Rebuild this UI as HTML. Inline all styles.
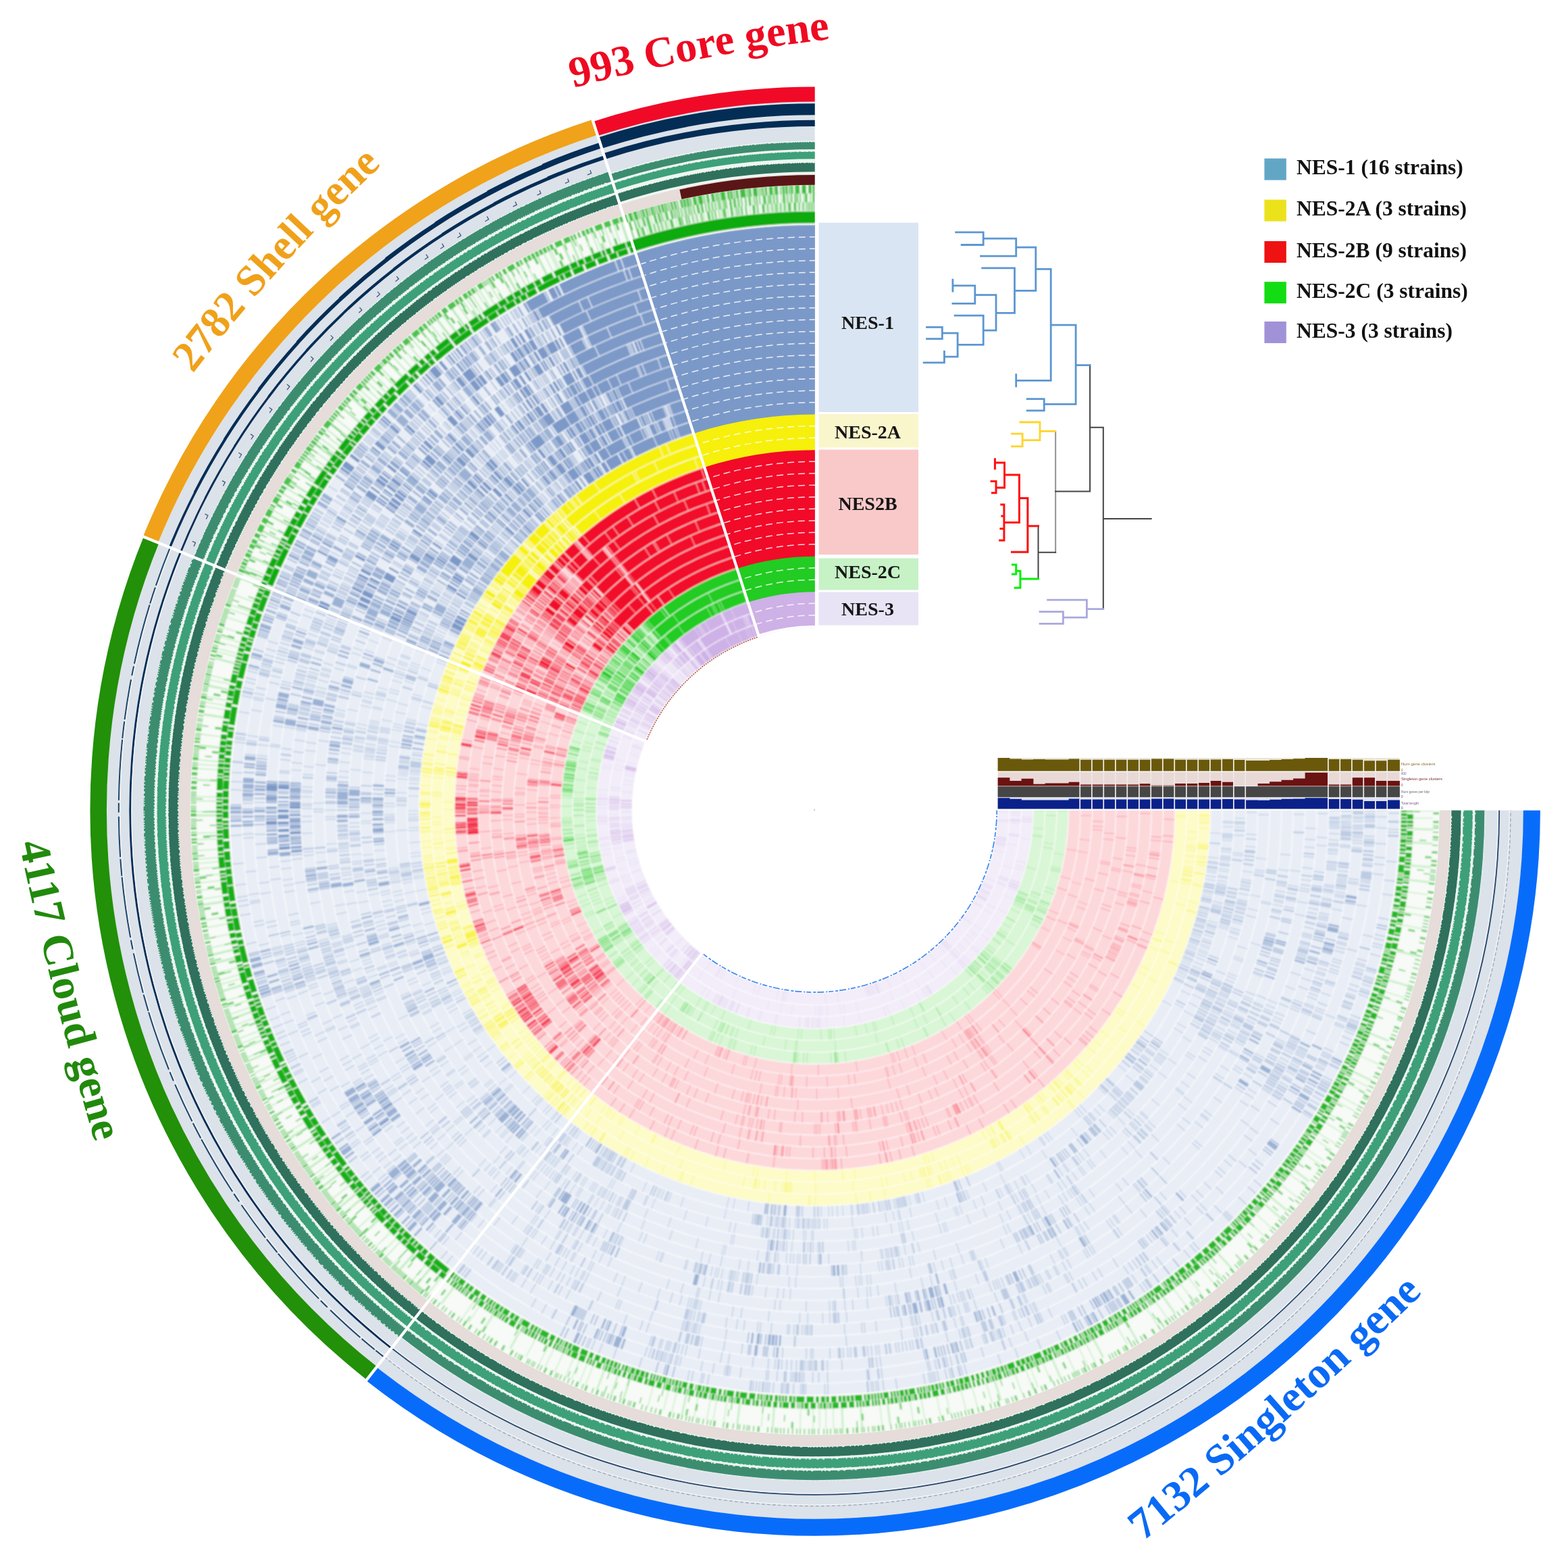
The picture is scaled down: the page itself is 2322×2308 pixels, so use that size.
<!DOCTYPE html>
<html><head><meta charset="utf-8"><title>Pangenome</title>
<style>
html,body{margin:0;padding:0;background:#fff;}
svg{display:block;}
text{font-family:"Liberation Serif",serif;font-weight:bold;}
</style></head><body>
<svg width="2322" height="2308" viewBox="0 0 2322 2308">
<defs><clipPath id="cq"><path d="M0 0H1206.7V1199.8H2322V2308H0Z"/></clipPath>
<filter id="bl" x="0" y="0" width="2322" height="2308" filterUnits="userSpaceOnUse"><feGaussianBlur stdDeviation="0.8"/></filter>
<filter id="bl2" x="0" y="0" width="2322" height="2308" filterUnits="userSpaceOnUse"><feGaussianBlur stdDeviation="1"/></filter></defs>
<g clip-path="url(#cq)">
<g id="rings" fill="none" filter="url(#bl)">
<path d="M1115.5 916.4A297.2 297.2 0 1 0 1503.8 1198.5" stroke="#f2edf9" stroke-width="52.5"/>
<path d="M1207.4 902.1A297.2 297.2 0 0 0 1115.2 916.4" stroke="#ceb1e6" stroke-width="52.5"/>
<g stroke="#ceb1e6" stroke-width="17.5">
<path d="M1120.8 933A279.8 279.8 0 1 0 1486.3 1198.6" pathLength="2523" stroke-dasharray="0 208 1 1 3 2 1 54 1 4 1 1 1 4 1 1 1 5 1 83 2 88 1 10 2 1 2 9 1 31 2 4 3 10 1 9 1 5 1 20 1 31 1 6 1 15 1 11 1 19 1 3 1 57 2 13 1 1 1 1 1 1 1 3 1 6 1 3 1 1 1 2 1 1 1 2 2 3 1 2 1 64 1 1 1 4 1 20 1 9 1 6 1 54 1 1 2 2 2 3 8 1 2 4 5 3 2 1 1 4 1 4 1 9 1 5 2 7 1 21 1 9 4 30 1 76 1 3 1 20 1 1 1 89 1 34 1 1 2 8 1 6 1 44 1 58 1 12 1 58 1 16 2 4 1 3 1 119 1 36 1 86 1 4 1 2 1 2 1 1 1 5 2 3 1 3 1 5 1 1 3 5 1 29 1 45 1 72 1 36 1 36 1 11 1 1 1 2 1 2 1 2 1 3 1 88 1 1 1 56 1 1 1 17 1 2 4 3 1 5 1 4 1 2 2 1 1 1 1 9 1 3 2 3 1 16 1 89 1 15 1 3 1 2 3 5 2 3 1 1 1 1 1 1 2 47 1 2 2 26 1 100004" opacity=".4"/>
<path d="M1120.8 933A279.8 279.8 0 1 0 1486.3 1198.6" pathLength="2523" stroke-dasharray="0 227 1 3 1 2 1 1 1 2 1 4 2 3 2 2 1 2 3 9 1 24 8 1 1 3 3 1 1 1 1 1 1 1 4 1 5 1 1 2 2 4 2 1 3 1 2 3 2 1 1 2 3 1 2 5 1 5 1 4 1 1 1 6 1 2 2 2 3 1 7 1 6 9 2 1 3 1 1 1 1 1 2 2 1 1 3 3 1 3 1 3 1 1 2 1 1 1 1 3 1 35 2 89 1 1 10 2 1 88 3 1 1 4 1 1 2 2 1 2 1 2 2 2 1 65 1 1 3 3 2 2 1 2 3 1 3 2 1 1 1 2 3 1 1 94 1 110 6 59 2 1 1 1 1 1 1 1 1 3 2 1 1 1 4 7 2 1 1 2 3 73 3 5 1 1 1 2 3 3 1 1 1 2 3 1 1 1 1 1 1 1 1 3 2 1 1 101283" opacity=".7"/>
<path d="M1120.8 933A279.8 279.8 0 1 0 1486.3 1198.6" pathLength="2523" stroke-dasharray="10 1 11 1 7 1 24 1 38 1 65 1 1 1 3 2 15 1 1 1 2 1 12 1 2 1 1 10 3 1 2 1 1 79 1 1 1 66 1 102149"/>
<path d="M1115.5 916.4A297.2 297.2 0 1 0 1503.8 1198.5" pathLength="2523" stroke-dasharray="0 207 3 3 1 1 1 55 1 1 1 4 1 2 1 151 1 5 2 1 1 1 1 2 1 3 2 11 1 3 1 1 2 1 1 3 2 7 1 2 1 2 1 14 1 3 1 65 1 16 1 10 1 51 2 6 1 22 1 43 1 8 2 1 2 2 2 1 1 6 2 1 2 2 4 1 1 5 3 1 2 36 1 11 1 28 1 8 1 22 1 19 1 3 1 7 1 6 1 16 2 1 2 2 3 1 1 1 2 1 3 1 1 4 1 2 1 1 3 1 2 1 1 8 3 8 2 17 1 36 2 1 2 1 2 1 1 1 1 1 1 10 3 4 1 1 2 1 1 1 2 3 1 11 1 12 1 2 1 1 1 18 1 4 4 9 1 1 1 11 1 26 1 5 1 56 1 109 1 102 1 36 1 30 1 67 1 9 1 2 1 5 1 14 1 36 1 11 1 35 1 103 1 46 1 33 1 46 1 46 1 33 1 4 2 1 1 4 1 4 1 12 1 6 1 19 1 14 1 10 1 6 1 18 1 51 1 17 1 66 1 3 2 8 1 3 2 2 1 2 1 29 1 64 1 24 2 1 1 1 1 30 1 4 1 1 1 1 3 11 1 5 1 2 1 100006" opacity=".4"/>
<path d="M1115.5 916.4A297.2 297.2 0 1 0 1503.8 1198.5" pathLength="2523" stroke-dasharray="0 73 1 4 1 150 3 9 2 2 3 12 2 3 1 27 2 4 1 1 1 21 1 1 1 1 4 1 1 1 4 4 1 2 2 1 4 4 4 1 13 5 1 2 1 1 2 1 3 4 3 5 1 1 1 1 1 1 2 3 3 1 1 1 1 2 4 2 1 2 2 22 1 1 2 1 1 1 1 32 3 185 1 1 1 4 4 2 2 2 3 3 1 2 1 2 1 1 1 2 1 1 1 62 1 1 1 1 2 1 1 1 1 2 1 2 3 3 1 1 2 1 1 4 1 1 1 216 2 3 1 8 1 2 1 1 1 4 1 119 2 44 4 1 1 1 1 2 4 1 1 101284" opacity=".7"/>
<path d="M1115.5 916.4A297.2 297.2 0 1 0 1503.8 1198.5" pathLength="2523" stroke-dasharray="14 2 3 1 2 1 3 1 30 1 15 6 81 1 1 2 1 2 1 1 1 1 8 1 5 1 5 1 5 1 1 1 4 1 1 10 1 1 5 1 3 5 3 1 3 10 3 3 1 2 1 44 1 1 1 1 1 1 1 1 2 2 1 2 1 1 1 18 2 102181"/>
<path d="M1110.1 899.7A314.8 314.8 0 1 0 1521.3 1198.5" pathLength="2523" stroke-dasharray="0 277 1 2 1 1 1 3 1 5 1 3 2 102 1 92 5 2 1 2 1 17 1 1 1 8 3 5 1 57 1 5 1 3 1 58 1 12 1 13 1 4 1 5 1 1 1 8 1 20 1 3 1 1 1 4 1 1 1 2 1 4 1 36 1 1 1 2 1 11 1 4 1 9 1 13 1 35 1 33 1 2 1 2 1 1 1 44 1 5 1 2 1 55 1 1 1 2 1 2 4 1 2 1 1 2 2 2 1 1 2 2 1 1 1 1 2 1 2 2 1 1 2 7 1 2 3 1 3 2 1 3 1 2 2 27 1 10 1 6 1 159 1 13 1 19 1 2 1 3 1 2 1 3 1 1 3 1 2 2 1 3 1 1 1 4 2 9 1 2 2 1 1 1 1 3 1 8 3 28 1 1 1 29 1 3 1 40 1 2 1 60 1 1 1 14 1 3 1 1 1 2 1 7 1 2 1 5 1 4 1 2 1 2 1 1 1 17 1 46 1 42 1 69 1 9 1 41 1 44 1 19 1 5 1 4 1 3 2 1 1 81 1 24 1 3 1 2 1 2 1 5 1 5 1 31 1 5 1 38 1 16 1 66 1 40 1 22 1 4 2 1 2 3 4 4 1 1 2 33 1 7 1 11 1 62 1 45 2 4 1 1 1 4 1 100019" opacity=".4"/>
<path d="M1110.1 899.7A314.8 314.8 0 1 0 1521.3 1198.5" pathLength="2523" stroke-dasharray="0 74 2 2 1 128 2 1 1 1 1 15 4 1 3 7 1 2 1 1 1 2 1 1 3 1 5 1 3 1 1 1 2 1 1 1 1 1 1 23 2 3 2 2 2 1 5 1 4 15 3 1 1 2 1 1 1 2 1 10 1 1 4 1 9 4 2 1 3 1 3 1 1 1 1 1 1 5 1 1 3 3 2 1 7 1 3 1 4 2 1 1 2 7 1 2 2 2 1 1 1 7 2 1 1 9 3 2 8 2 1 2 3 56 1 1 2 2 1 4 5 1 3 3 7 1 4 106 2 188 2 1 1 2 1 95 3 1 1 1 3 1 3 1 2 1 5 1 2 2 2 2 1 166 1 2 1 5 1 2 2 5 1 2 4 3 1 2 2 4 1 1 2 1 2 1 1 1 2 2 1 2 1 1 3 101283" opacity=".7"/>
<path d="M1110.1 899.7A314.8 314.8 0 1 0 1521.3 1198.5" pathLength="2523" stroke-dasharray="47 1 25 6 45 1 14 1 2 1 4 1 8 1 45 1 3 12 1 1 7 95 5 2 4 1 1 1 1 39 3 102143"/>
</g>
<path d="M1099.4 866.4A349.8 349.8 0 1 0 1556.3 1198.4" stroke="#d9f6d6" stroke-width="52.5"/>
<path d="M1207.5 849.6A349.8 349.8 0 0 0 1099.1 866.5" stroke="#22cc22" stroke-width="52.5"/>
<g stroke="#22cc22" stroke-width="17.5">
<path d="M1104.8 883A332.2 332.2 0 1 0 1538.8 1198.4" pathLength="2523" stroke-dasharray="0 300 2 143 2 2 2 1 3 4 1 2 1 6 1 2 2 1 1 4 1 2 1 3 2 6 2 1 1 1 1 2 1 2 1 1 1 2 1 1 1 33 1 1 1 13 1 27 1 3 1 19 1 10 2 8 1 4 1 23 1 25 2 1 2 8 1 1 1 7 2 6 1 1 1 1 1 11 1 9 1 23 1 11 1 2 2 11 1 1 1 1 2 6 1 91 1 11 1 37 1 9 1 37 1 25 1 35 1 17 1 3 2 2 2 4 1 1 3 4 1 3 1 33 1 9 1 29 1 2 1 22 1 25 1 11 1 9 1 51 1 18 1 4 1 18 1 27 1 71 1 57 1 7 1 60 1 7 1 49 1 18 1 4 2 7 1 56 1 26 1 18 1 5 1 44 1 53 1 26 1 1 1 146 1 1 1 7 4 3 1 1 2 4 2 4 1 1 2 11 5 6 3 1 1 2 1 3 2 7 1 3 1 6 1 19 1 2 1 14 2 2 1 2 1 6 1 16 1 16 1 1 1 23 1 14 1 4 1 4 3 3 2 1 1 1 2 3 1 5 2 2 1 65 1 81 1 2 1 17 1 46 1 100000" opacity=".4"/>
<path d="M1104.8 883A332.2 332.2 0 1 0 1538.8 1198.4" pathLength="2523" stroke-dasharray="0 264 1 1 1 1 4 1 2 17 1 2 2 9 1 12 1 1 2 1 2 1 1 2 1 20 3 20 5 1 4 1 4 1 6 1 1 1 1 1 3 9 12 1 5 1 3 3 4 23 1 54 1 1 2 2 1 1 1 301 1 2 1 4 3 4 1 3 1 3 2 12 1 1 1 1 2 2 1 1 1 2 4 3 1 3 1 5 1 3 1 72 1 1 1 55 2 2 1 3 1 3 1 1 1 1 2 1 1 2 2 2 1 101463" opacity=".7"/>
<path d="M1104.8 883A332.2 332.2 0 1 0 1538.8 1198.4" pathLength="2523" stroke-dasharray="3 1 61 1 6 1 11 1 4 1 12 1 84 1 41 1 3 1 19 1 10 11 1 1 1 1 4 1 8 15 3 3 2 16 1 1 7 1 1 1 2 4 1 4 2 1 1 2 4 5 2 2 1 31 3 102114"/>
<path d="M1099.4 866.4A349.8 349.8 0 1 0 1556.3 1198.4" pathLength="2523" stroke-dasharray="0 300 1 1 2 150 1 7 1 2 2 24 1 3 1 6 1 32 1 20 1 10 1 7 1 27 1 16 1 27 1 29 1 14 1 5 1 5 2 3 2 7 2 1 1 10 1 1 1 21 1 2 1 20 1 6 1 2 1 5 1 2 1 5 1 5 1 5 1 3 2 93 2 9 1 7 1 7 1 8 1 55 1 1 2 4 1 1 1 2 1 63 1 1 1 6 1 2 1 5 1 5 1 10 1 3 1 10 1 5 1 12 1 2 1 8 1 27 1 59 1 25 2 1 1 2 4 4 1 2 1 1 1 3 1 4 1 20 2 41 1 10 1 1 1 3 2 1 1 8 1 1 1 9 1 3 1 9 1 68 1 52 1 23 1 3 1 92 1 101 1 101 1 24 1 35 2 48 1 33 1 17 1 26 1 1 2 1 2 8 1 12 1 2 1 1 1 2 1 3 3 2 1 4 1 2 1 1 1 2 2 4 1 50 1 88 1 2 1 1 1 1 1 2 2 1 1 8 1 1 1 2 1 9 1 6 1 2 1 112 1 10 1 67 1 100013" opacity=".4"/>
<path d="M1099.4 866.4A349.8 349.8 0 1 0 1556.3 1198.4" pathLength="2523" stroke-dasharray="0 253 1 3 1 1 1 33 1 1 1 40 2 1 3 1 4 1 3 2 2 1 1 1 2 2 3 13 6 1 2 1 3 1 1 2 4 1 1 3 4 1 4 1 2 5 1 3 2 4 2 7 4 24 1 1 2 1 1 3 2 2 2 2 1 1 2 335 2 1 1 1 1 3 1 2 3 6 2 3 1 3 2 6 1 3 4 2 2 1 1 1 2 1 1 1 3 1 2 1 2 2 1 1 1 2 3 1 1 69 1 1 2 57 3 2 3 5 2 1 1 1 1 4 1 4 1 108 1 3 1 4 1 1 1 1 2 101337" opacity=".7"/>
<path d="M1099.4 866.4A349.8 349.8 0 1 0 1556.3 1198.4" pathLength="2523" stroke-dasharray="83 1 97 1 56 1 1 1 5 1 1 12 1 1 1 2 1 5 1 1 3 1 1 1 5 2 2 1 1 1 1 13 1 5 7 1 3 1 1 2 4 2 1 35 3 1 3 70 2 2 3 102070"/>
<path d="M1094 849.7A367.2 367.2 0 1 0 1573.8 1198.3" pathLength="2523" stroke-dasharray="0 456 1 4 1 1 1 3 1 34 1 13 1 19 1 1 1 23 1 30 1 5 1 6 1 71 4 4 2 4 1 19 1 26 1 3 1 3 1 1 1 2 1 4 1 7 2 2 1 4 2 1 1 20 1 2 1 8 1 93 1 18 1 12 1 9 1 18 1 5 1 41 1 16 1 44 1 2 1 12 1 1 1 2 1 1 2 1 2 1 2 1 1 31 1 19 1 18 1 4 1 1 1 11 2 3 2 28 1 1 1 2 1 3 1 14 1 116 1 3 1 2 1 8 1 9 1 20 1 3 1 5 1 3 1 38 1 7 1 90 1 1 3 1 1 3 1 12 1 7 1 54 1 8 4 1 1 1 1 17 1 98 2 24 1 10 1 56 1 2 1 45 1 22 1 43 1 53 1 5 1 4 1 3 1 1 2 5 1 5 3 2 2 5 1 3 1 1 2 2 2 7 1 3 2 1 3 4 2 1 1 110 1 8 1 2 1 1 1 4 3 12 1 2 1 1 1 3 1 2 1 5 1 4 2 1 1 22 1 8 1 42 1 3 1 3 1 31 1 99 1 100002" opacity=".4"/>
<path d="M1094 849.7A367.2 367.2 0 1 0 1573.8 1198.3" pathLength="2523" stroke-dasharray="0 249 1 1 2 4 1 29 2 2 1 14 1 1 1 20 1 6 1 2 1 4 4 3 5 1 3 2 1 2 1 10 1 27 2 1 3 2 1 6 1 2 2 8 1 1 2 2 2 1 2 1 3 5 1 21 2 2 2 1 4 2 2 86 3 1 1 1 1 2 1 5 2 17 1 1 1 1 1 1 1 1 4 3 4 2 1 1 1 4 3 1 1 2 2 1 2 1 1 2 1 1 1 5 2 1 2 3 2 2 4 106 1 1 1 1 1 1 5 44 1 3 1 1 1 3 2 2 2 1 1 14 1 2 1 6 3 1 1 3 1 3 1 1 1 1 2 2 1 131 1 1 1 2 3 2 2 1 1 2 1 1 1 3 1 1 1 1 1 1 2 101460" opacity=".7"/>
<path d="M1094 849.7A367.2 367.2 0 1 0 1573.8 1198.3" pathLength="2523" stroke-dasharray="189 2 6 1 38 1 5 1 3 1 1 13 2 1 2 1 2 1 3 1 2 1 1 1 3 1 4 8 2 1 2 1 2 10 5 1 5 1 2 1 1 3 1 1 1 29 1 4 1 2 2 3 1 1 4 1 1 2 8 1 1 1 2 1 1 67 2 1 1 102049"/>
</g>
<path d="M1067.2 766.4A454.8 454.8 0 1 0 1661.3 1198.1" stroke="#fdd8db" stroke-width="157.5"/>
<path d="M1207.8 744.6A454.8 454.8 0 0 0 1066.8 766.6" stroke="#f20a29" stroke-width="157.5"/>
<g stroke="#f20a29" stroke-width="17.5">
<path d="M1088.7 833.1A384.8 384.8 0 1 0 1591.3 1198.3" pathLength="2523" stroke-dasharray="0 418 1 4 2 1 3 75 1 27 1 5 1 6 2 10 1 26 1 29 1 4 3 2 1 33 1 30 1 4 1 15 1 4 1 22 1 11 1 3 1 2 1 23 1 17 1 3 1 28 1 2 1 2 1 1 1 31 1 7 1 11 1 33 1 8 1 46 1 17 1 10 1 4 1 45 1 1 1 3 1 11 1 3 1 2 1 49 1 58 1 24 1 24 1 5 1 2 1 1 1 1 1 4 1 2 1 1 1 1 1 1 2 5 1 2 1 3 1 2 1 2 2 6 1 5 2 2 1 8 2 77 1 2 1 3 1 1 1 1 1 8 1 4 1 1 1 36 1 4 1 20 1 80 1 58 1 84 1 79 1 4 1 9 1 17 1 17 1 74 1 39 1 22 1 6 1 74 1 6 1 131 1 3 2 38 1 26 1 14 1 53 1 25 1 62 1 100088" opacity=".4"/>
<path d="M1088.7 833.1A384.8 384.8 0 1 0 1591.3 1198.3" pathLength="2523" stroke-dasharray="0 348 1 1 2 3 1 4 1 2 2 3 3 5 3 2 1 1 1 46 1 2 1 1 1 1 4 2 8 1 1 1 1 3 1 1 1 1 4 1 2 1 3 1 4 2 2 2 4 2 1 1 2 3 1 16 2 2 1 2 1 2 1 61 2 4 1 3 1 2 2 61 1 1 4 117 1 21 3 1 1 2 1 3 1 2 3 120 1 1 1 2 2 2 4 81 1 2 1 1 3 55 1 3 1 98 1 101317" opacity=".7"/>
<path d="M1088.7 833.1A384.8 384.8 0 1 0 1591.3 1198.3" pathLength="2523" stroke-dasharray="156 1 27 2 19 1 9 2 57 3 2 2 8 4 1 2 2 4 4 3 2 5 2 1 2 1 2 1 1 3 5 2 6 1 2 40 3 1 1 3 1 3 1 2 1 1 4 1 1 1 1 2 2 102108"/>
<path d="M1083.3 816.4A402.2 402.2 0 1 0 1608.8 1198.2" pathLength="2523" stroke-dasharray="0 330 1 3 2 1 1 84 1 2 1 1 2 55 1 42 1 13 1 1 1 16 1 52 1 5 2 1 1 2 1 2 1 5 1 5 1 1 1 53 1 6 3 9 1 3 1 6 1 2 1 5 1 1 1 4 1 5 1 55 1 2 2 1 1 2 2 4 1 1 1 2 1 14 2 1 1 4 1 9 1 8 1 9 1 81 1 5 1 30 1 6 1 118 1 4 1 15 1 8 1 7 1 7 1 8 1 8 1 45 1 20 1 10 1 8 1 11 1 5 1 2 1 67 1 25 1 58 1 40 1 8 1 7 1 40 1 4 1 18 1 1 1 1 1 1 1 28 1 42 1 45 1 12 1 67 1 2 1 12 1 14 1 34 1 19 1 69 1 17 1 12 2 2 2 1 1 2 2 3 1 4 3 8 1 76 1 208 1 58 1 27 1 66 1 25 1 50 1 100012" opacity=".4"/>
<path d="M1083.3 816.4A402.2 402.2 0 1 0 1608.8 1198.2" pathLength="2523" stroke-dasharray="0 356 2 1 1 3 1 4 1 1 1 2 1 3 5 10 2 1 3 3 1 1 1 1 1 4 3 1 1 14 2 3 1 1 5 1 1 1 1 2 1 1 1 5 1 5 2 6 2 1 5 1 3 8 2 2 2 1 2 16 5 1 3 1 2 60 1 3 1 5 1 1 3 58 1 1 1 1 1 1 1 2 1 103 1 2 2 2 1 2 2 1 1 1 1 1 2 4 1 96 1 1 3 2 1 1 1 3 1 1 2 1 1 1 2 1 1 7 2 81 1 15 1 1 2 6 1 1 1 1 2 1 1 1 1 1 1 3 1 1 1 3 2 1 1 2 1 2 3 8 1 1 5 1 2 1 1 1 6 1 8 1 1 1 1 1 2 5 1 1 3 2 1 83 1 1 1 101315" opacity=".7"/>
<path d="M1083.3 816.4A402.2 402.2 0 1 0 1608.8 1198.2" pathLength="2523" stroke-dasharray="202 1 1 4 10 1 25 1 45 1 1 1 4 1 3 1 5 1 7 1 8 2 4 8 2 1 3 2 1 1 8 29 1 1 3 8 2 64 2 102056"/>
<path d="M1077.9 799.8A419.8 419.8 0 1 0 1626.3 1198.2" pathLength="2523" stroke-dasharray="0 331 1 4 1 8 1 5 3 3 1 1 1 1 1 8 4 20 1 1 1 3 2 81 1 3 1 16 2 1 2 1 2 1 2 1 1 11 1 12 1 21 1 10 2 1 1 3 1 9 1 2 1 25 1 7 1 51 1 26 1 7 1 1 1 7 1 13 1 9 1 47 1 3 1 36 1 3 1 3 1 9 2 1 1 19 2 56 1 1 1 15 1 4 1 39 1 8 1 113 1 20 1 29 1 6 1 3 1 14 1 24 1 15 1 27 1 4 1 3 1 12 1 1 1 4 2 53 1 41 1 115 1 30 1 3 1 12 1 14 1 1 1 6 1 41 1 42 1 104 1 74 1 55 1 15 1 30 1 9 2 2 1 3 1 1 2 6 1 2 1 34 2 15 1 32 1 28 1 21 1 8 1 47 1 44 1 29 1 21 1 6 2 2 1 35 1 10 1 48 1 101 1 6 1 9 1 100023" opacity=".4"/>
<path d="M1077.9 799.8A419.8 419.8 0 1 0 1626.3 1198.2" pathLength="2523" stroke-dasharray="0 406 1 20 1 3 2 1 1 2 1 1 1 2 1 1 1 3 1 1 2 3 1 2 1 2 1 1 1 6 3 2 2 1 4 7 3 1 2 2 2 160 1 2 2 1 2 2 1 1 1 98 1 1 3 4 1 2 1 1 1 1 2 1 1 2 1 2 1 12 1 3 1 1 4 1 1 2 1 1 2 66 1 1 2 1 1 4 1 1 2 4 1 4 1 6 1 106 3 3 6 1 1 1 1 6 2 1 1 4 1 2 1 4 1 1 1 2 1 1 1 4 3 1 3 1 3 2 3 4 2 2 1 2 2 1 1 2 1 2 1 3 1 13 1 1 1 101386" opacity=".7"/>
<path d="M1077.9 799.8A419.8 419.8 0 1 0 1626.3 1198.2" pathLength="2523" stroke-dasharray="202 4 7 1 3 1 46 1 5 1 1 1 4 1 3 1 2 3 2 1 1 1 1 3 6 1 3 1 3 3 5 2 4 1 2 2 1 8 3 1 1 31 1 1 2 1 1 1 1 1 2 3 2 2 2 20 5 2 1 1 1 40 1 1 2 102054"/>
<path d="M1072.6 783.1A437.2 437.2 0 1 0 1643.8 1198.2" pathLength="2523" stroke-dasharray="0 346 2 1 2 2 3 1 1 1 1 1 1 1 3 4 1 2 1 21 1 1 1 2 2 2 1 4 1 1 3 10 1 61 2 25 1 7 1 1 1 4 1 1 1 12 1 1 3 4 1 25 1 41 1 30 1 27 1 7 1 3 1 19 1 17 1 4 1 8 2 58 1 5 1 12 1 51 2 1 1 3 1 5 1 17 1 11 1 4 1 3 1 20 1 21 1 8 1 27 1 114 1 11 1 2 1 1 1 8 1 2 1 2 1 6 1 7 1 19 1 11 1 9 2 25 1 1 2 9 1 5 1 36 1 2 1 7 1 19 1 16 1 21 1 62 1 34 1 17 1 7 1 2 1 3 1 7 1 6 2 6 1 9 2 59 1 104 1 91 1 20 1 55 1 21 1 43 1 32 1 2 1 5 3 1 1 2 1 4 1 30 1 43 1 166 1 30 1 1 1 2 1 103 1 31 1 19 1 3 1 43 1 11 1 100045" opacity=".4"/>
<path d="M1072.6 783.1A437.2 437.2 0 1 0 1643.8 1198.2" pathLength="2523" stroke-dasharray="0 203 5 1 1 131 1 2 2 74 2 1 1 3 2 1 1 1 2 1 7 2 2 1 2 1 1 2 3 3 3 1 4 3 4 2 1 1 1 1 2 7 1 1 3 2 3 32 1 5 3 19 2 2 1 5 1 2 1 2 1 1 1 2 1 1 1 1 2 5 1 8 4 4 1 2 1 1 1 156 1 3 1 1 2 1 2 3 1 1 1 2 3 1 1 1 1 143 1 82 1 2 1 1 1 2 1 2 1 1 1 1 2 1 7 1 1 1 5 2 2 1 2 4 2 2 3 2 8 2 3 7 2 1 3 3 2 2 4 2 1 1 1 1 3 101401" opacity=".7"/>
<path d="M1072.6 783.1A437.2 437.2 0 1 0 1643.8 1198.2" pathLength="2523" stroke-dasharray="65 1 137 10 54 1 3 1 3 1 7 1 11 1 2 1 9 1 3 4 5 7 3 2 1 40 3 2 8 1 1 1 4 21 1 1 1 102104"/>
<path d="M1067.2 766.4A454.8 454.8 0 1 0 1661.3 1198.1" pathLength="2523" stroke-dasharray="0 388 1 6 1 89 2 26 1 3 1 3 1 7 1 12 2 1 3 2 3 4 1 65 1 5 2 69 1 30 1 7 1 25 1 6 1 1 2 25 1 3 1 2 1 2 1 15 1 30 1 27 1 5 2 9 1 14 1 8 1 19 1 41 1 5 1 7 1 5 1 8 1 107 1 4 2 1 2 33 1 13 2 11 1 10 1 4 1 3 1 27 1 19 2 42 1 19 1 14 1 1 1 2 1 5 1 23 1 14 1 22 1 72 1 7 1 1 1 10 1 2 2 20 1 10 1 37 1 13 1 34 1 1 1 9 1 17 1 2 1 1 1 5 2 1 1 18 2 2 2 5 1 13 1 2 1 2 1 5 2 13 1 9 1 8 1 8 1 8 1 36 1 19 1 12 1 37 1 12 2 5 1 40 1 6 1 12 1 3 1 37 1 38 4 2 1 29 2 19 1 23 1 39 1 10 1 9 1 40 1 4 1 9 1 2 1 35 1 39 1 7 1 31 1 34 1 3 1 18 1 38 1 39 1 100012" opacity=".4"/>
<path d="M1067.2 766.4A454.8 454.8 0 1 0 1661.3 1198.1" pathLength="2523" stroke-dasharray="0 203 1 1 1 3 2 1 1 133 3 1 1 4 1 1 2 1 3 1 3 1 1 1 5 2 3 1 1 1 2 1 1 18 1 1 2 2 3 1 1 1 1 1 1 1 1 17 6 7 1 2 2 4 1 1 1 8 4 1 1 10 1 3 7 32 1 7 1 24 1 3 1 1 1 4 2 3 2 1 3 2 1 1 1 2 1 5 1 5 1 1 2 1 1 5 1 86 1 1 1 3 2 5 3 1 1 79 1 137 1 83 3 3 2 4 1 2 1 1 2 3 1 3 1 2 4 4 3 1 3 1 3 1 1 1 1 6 1 1 1 8 1 2 1 1 2 1 3 1 2 1 2 4 3 1 1 3 1 101401" opacity=".7"/>
<path d="M1067.2 766.4A454.8 454.8 0 1 0 1661.3 1198.1" pathLength="2523" stroke-dasharray="46 1 57 1 25 1 2 1 17 1 51 10 3 1 49 5 5 2 3 3 1 1 1 2 1 1 2 1 3 1 2 1 3 2 2 1 7 1 14 1 3 1 1 1 8 80 2 1 4 1 5 26 1 12 3 102041"/>
<path d="M1061.8 749.8A472.2 472.2 0 1 0 1678.8 1198.1" pathLength="2523" stroke-dasharray="0 375 1 1 2 1 1 1 2 2 2 2 1 2 1 3 1 2 1 11 3 4 2 3 1 57 2 1 1 22 1 27 1 2 1 1 1 1 1 1 1 23 2 1 1 9 1 27 2 12 1 22 1 13 1 4 1 10 1 10 1 51 1 17 1 5 1 3 1 1 1 25 1 4 1 3 2 23 1 46 1 23 1 23 2 20 1 25 1 4 1 6 1 46 1 34 1 24 1 16 1 30 1 2 2 1 1 1 1 2 4 22 1 41 1 16 1 7 2 12 1 19 1 13 1 72 2 20 1 64 1 26 1 9 1 2 1 10 1 4 1 8 1 5 1 1 1 3 1 28 1 2 1 59 1 3 1 4 1 27 1 3 3 25 1 3 1 2 1 23 1 24 1 2 1 2 1 25 1 7 1 3 1 26 1 76 1 9 1 13 2 42 1 1 1 90 2 89 1 2 1 6 1 14 1 56 1 14 1 4 2 36 1 63 1 15 1 4 1 38 1 9 2 17 1 8 1 4 1 100068" opacity=".4"/>
<path d="M1061.8 749.8A472.2 472.2 0 1 0 1678.8 1198.1" pathLength="2523" stroke-dasharray="0 203 3 1 3 1 2 118 2 1 1 11 9 2 8 1 7 31 1 2 2 1 1 15 1 4 1 2 1 3 4 6 1 3 1 2 1 3 3 1 2 3 9 2 1 1 1 7 2 1 1 1 5 3 2 42 1 1 1 1 2 1 1 2 1 1 1 2 3 28 2 3 1 1 1 2 3 97 1 2 1 8 1 2 1 3 1 2 4 72 1 136 4 239 2 1 1 1 1 1 5 101330" opacity=".7"/>
<path d="M1061.8 749.8A472.2 472.2 0 1 0 1678.8 1198.1" pathLength="2523" stroke-dasharray="16 1 186 10 46 1 6 1 1 1 13 1 8 2 2 1 2 3 3 1 1 1 6 2 1 1 2 1 5 2 3 7 4 1 1 101 2 102076"/>
<path d="M1056.5 733.1A489.8 489.8 0 1 0 1696.3 1198" pathLength="2523" stroke-dasharray="0 374 1 1 3 1 2 3 3 1 1 1 1 1 1 4 3 1 2 11 1 2 1 2 1 60 1 25 1 1 1 1 3 5 1 1 1 13 2 2 1 88 1 10 1 29 2 14 1 2 1 6 1 61 1 28 1 15 2 50 1 10 1 1 1 20 1 6 1 32 2 30 1 10 1 31 1 21 1 4 1 11 1 7 1 7 1 4 1 6 1 22 1 30 1 13 2 5 1 1 1 4 2 4 1 9 1 8 1 39 1 19 1 43 1 29 1 13 1 135 1 28 1 13 1 1 1 11 2 8 1 1 1 64 1 48 1 1 1 7 1 2 1 12 1 111 1 3 1 1 2 6 1 1 1 5 1 6 1 6 1 38 1 2 1 9 2 1 2 1 3 5 1 8 1 6 1 2 1 7 1 41 1 63 1 25 1 9 3 18 2 17 1 52 1 13 1 14 2 16 1 3 1 26 1 27 1 1 1 3 1 3 1 2 1 3 1 2 1 1 1 2 1 2 1 7 1 1 1 2 1 12 1 1 1 1 1 6 1 35 1 2 2 2 1 2 1 6 1 2 1 11 1 3 1 15 1 1 2 15 1 89 1 100006" opacity=".4"/>
<path d="M1056.5 733.1A489.8 489.8 0 1 0 1696.3 1198" pathLength="2523" stroke-dasharray="0 204 3 3 1 72 1 2 1 2 1 3 1 2 1 1 1 2 1 1 1 2 1 97 1 1 4 1 1 16 4 1 2 2 2 1 1 1 6 2 2 3 2 1 4 3 2 3 1 2 1 3 1 1 1 1 1 11 2 3 2 2 1 39 1 3 1 1 1 5 3 5 1 1 1 21 1 1 3 1 1 1 1 1 1 1 2 105 2 7 1 3 1 2 1 2 1 1 1 71 2 137 1 1 2 239 1 2 4 1 1 1 2 2 1 1 1 101325" opacity=".7"/>
<path d="M1056.5 733.1A489.8 489.8 0 1 0 1696.3 1198" pathLength="2523" stroke-dasharray="50 1 57 1 80 1 13 10 21 1 40 1 1 30 1 1 11 1 3 3 4 1 14 3 8 1 1 1 2 1 1 1 2 2 2 102151"/>
<path d="M1051.1 716.5A507.2 507.2 0 1 0 1713.8 1198" pathLength="2523" stroke-dasharray="0 373 1 4 2 1 2 1 1 2 2 7 1 1 2 16 1 2 1 1 1 30 1 8 5 2 1 2 1 2 1 1 2 2 1 2 1 6 3 2 1 12 1 2 1 1 1 23 4 1 3 22 1 14 1 33 1 35 1 8 1 3 1 3 1 2 1 5 1 2 1 8 1 70 1 13 2 16 1 2 1 1 2 4 2 17 1 12 1 14 1 10 2 29 1 17 1 13 1 52 1 1 1 12 1 13 2 2 1 4 2 130 1 2 1 19 1 23 1 3 2 12 1 27 1 1 1 12 2 9 1 40 1 3 1 4 1 19 1 26 1 7 1 15 1 22 1 5 1 29 1 11 1 33 1 59 3 2 1 6 1 1 2 5 1 4 1 38 1 18 1 10 1 1 1 4 1 18 1 56 1 4 2 5 1 24 1 16 2 2 1 1 1 5 1 6 2 20 1 5 1 20 1 11 2 46 1 90 2 8 3 3 1 32 2 1 1 13 1 26 1 54 1 7 1 71 1 63 1 4 3 17 1 43 1 17 1 22 1 3 2 12 1 15 1 4 1 1 1 2 1 19 1 5 1 100045" opacity=".4"/>
<path d="M1051.1 716.5A507.2 507.2 0 1 0 1713.8 1198" pathLength="2523" stroke-dasharray="0 237 1 2 1 36 1 1 1 9 1 2 2 1 6 2 1 2 1 98 4 2 2 12 3 1 1 1 3 1 1 1 2 1 2 2 1 2 1 1 2 48 1 1 1 44 2 1 2 1 1 1 1 1 1 3 1 1 2 23 2 1 3 1 1 1 5 3 2 95 2 1 1 2 2 1 1 8 1 1 1 6 1 6 1 1 1 1 1 3 2 2 2 4 1 1 3 182 1 90 3 1 3 1 1 1 2 2 2 1 5 1 1 1 3 1 1 1 2 1 3 1 2 1 2 1 1 3 4 2 2 4 2 1 1 1 3 2 6 1 2 22 1 1 2 3 1 37 1 1 2 1 1 4 1 101334" opacity=".7"/>
<path d="M1051.1 716.5A507.2 507.2 0 1 0 1713.8 1198" pathLength="2523" stroke-dasharray="10 1 10 1 38 1 34 1 51 1 28 1 15 1 40 1 1 8 20 1 7 1 5 30 1 2 2 1 1 1 1 1 1 1 5 1 1 4 3 1 1 3 2 2 1 1 1 2 1 1 1 3 1 1 1 2 2 3 1 3 2 1 1 1 1 336 1 2 3 3 1 3 1 2 1 1 1 6 1 1 1 1 1 1 1 1 1 2 2 2 2 1 1 1 1 3 3 101761"/>
<path d="M1045.8 699.8A524.8 524.8 0 1 0 1731.3 1197.9" pathLength="2523" stroke-dasharray="0 492 1 15 3 1 2 1 1 8 1 6 1 1 1 2 1 1 1 1 1 34 1 32 1 26 1 2 1 43 1 4 1 7 1 4 1 81 1 3 1 1 1 36 1 3 1 57 1 38 1 2 1 4 1 12 1 10 1 7 1 19 1 20 2 105 1 2 2 74 1 1 1 8 1 8 1 7 1 53 1 16 1 17 1 37 1 25 1 10 1 40 1 34 1 12 1 37 1 42 1 77 1 2 1 2 2 1 1 3 1 2 2 2 2 1 1 7 1 62 1 9 2 6 1 14 1 21 1 95 1 22 1 46 1 13 1 55 1 93 1 2 1 5 1 7 1 9 1 34 1 33 1 85 1 1 1 8 1 12 1 58 1 92 1 8 1 26 1 100015" opacity=".4"/>
<path d="M1045.8 699.8A524.8 524.8 0 1 0 1731.3 1197.9" pathLength="2523" stroke-dasharray="0 238 1 1 1 1 1 100 3 18 3 2 1 2 1 2 1 4 1 2 1 8 1 6 2 1 2 1 1 2 2 1 6 1 1 1 1 1 1 1 10 2 3 1 3 1 2 1 1 2 1 2 1 1 2 2 6 1 1 2 1 1 1 1 1 6 1 1 1 2 2 1 1 1 2 12 1 38 2 4 3 3 3 3 1 1 2 48 5 42 1 1 3 1 4 32 3 5 4 2 4 5 1 3 3 9 2 2 2 6 1 1 1 1 1 1 1 48 1 1 4 3 3 16 2 11 1 5 1 1 4 1 1 3 2 1 2 1 1 3 2 24 2 2 1 2 4 1 1 1 2 1 1 1 1 16 2 91 1 3 1 1 2 1 1 2 1 1 3 1 4 3 2 1 2 2 5 1 1 1 4 1 3 1 4 5 4 1 1 1 2 3 2 2 2 1 2 24 1 4 1 2 1 1 5 9 2 1 2 8 1 3 1 3 2 3 1 1 1 1 1 101333" opacity=".7"/>
<path d="M1045.8 699.8A524.8 524.8 0 1 0 1731.3 1197.9" pathLength="2523" stroke-dasharray="5 1 84 1 31 1 100 1 11 8 20 2 8 1 7 1 3 2 1 1 10 2 11 1 3 1 2 1 1 1 10 2 9 3 1 1 2 2 1 1 3 2 2 340 1 3 1 1 1 6 1 6 1 2 1 19 1 3 3 5 1 101765"/>
</g>
<path d="M1035 666.5A559.8 559.8 0 1 0 1766.3 1197.8" stroke="#fdfbc8" stroke-width="52.5"/>
<path d="M1208.1 639.6A559.8 559.8 0 0 0 1034.6 666.6" stroke="#f6f00c" stroke-width="52.5"/>
<g stroke="#f6f00c" stroke-width="17.5">
<path d="M1040.4 683.2A542.2 542.2 0 1 0 1748.8 1197.9" pathLength="2523" stroke-dasharray="0 402 1 1 2 2 1 46 1 3 1 2 1 1 2 45 1 6 2 4 2 2 2 1 1 8 1 3 2 8 1 9 1 5 1 8 1 24 1 4 1 23 2 73 1 11 1 29 2 4 1 12 1 10 1 1 1 5 2 77 1 4 2 3 1 75 1 2 1 28 1 11 1 1 1 2 1 4 1 7 1 27 1 2 1 45 1 9 1 6 1 6 1 6 1 4 1 6 1 4 1 5 3 1 1 8 1 2 1 2 1 16 1 1 2 15 1 9 1 5 1 1 1 7 2 18 2 19 1 7 1 4 1 5 1 12 1 3 1 26 1 27 1 1 1 40 1 76 1 45 1 5 1 45 1 43 1 43 1 18 1 111 1 4 1 7 1 86 1 8 1 5 2 12 4 45 3 3 2 15 1 3 1 1 1 4 1 16 1 1 1 6 3 2 1 3 1 10 1 3 1 2 2 15 1 6 1 26 1 13 1 18 1 38 1 4 1 44 1 21 1 9 1 32 1 13 2 10 1 83 1 100 1 2 1 100008" opacity=".4"/>
<path d="M1040.4 683.2A542.2 542.2 0 1 0 1748.8 1197.9" pathLength="2523" stroke-dasharray="0 294 2 25 1 51 1 2 1 2 1 6 6 5 2 12 6 1 2 2 2 1 3 1 4 1 2 1 2 1 1 4 1 1 3 2 1 22 3 1 1 2 1 2 6 1 2 3 1 19 1 69 3 1 1 2 1 1 1 1 1 1 1 54 2 4 2 3 1 131 7 4 1 1 1 1 1 2 1 1 1 1 1 2 1 1 4 1 1 1 1 1 1 1 1 1 1 67 1 1 2 3 1 2 9 1 1 1 3 2 1 1 1 2 1 38 1 75 1 1 2 2 2 3 1 1 1 4 1 101450" opacity=".7"/>
<path d="M1040.4 683.2A542.2 542.2 0 1 0 1748.8 1197.9" pathLength="2523" stroke-dasharray="10 1 127 1 46 1 38 3 2 2 3 1 5 1 3 3 4 1 1 3 4 1 1 1 6 1 1 1 8 3 1 1 5 8 2 1 9 1 3 1 3 7 20 1 1 1 1 1 1 1 2 1 9 1 2 1 2 24 1 102127"/>
<path d="M1035 666.5A559.8 559.8 0 1 0 1766.3 1197.8" pathLength="2523" stroke-dasharray="0 402 2 48 2 6 1 1 2 1 1 2 1 51 1 1 1 1 1 1 3 5 1 2 2 2 2 1 1 23 2 1 2 3 1 32 1 2 1 11 1 6 3 38 1 21 1 2 1 2 1 31 1 6 1 3 1 10 1 10 1 5 2 5 1 14 1 59 1 9 1 19 1 8 1 1 2 1 1 3 3 1 2 4 1 3 1 1 1 2 1 3 1 2 1 14 1 3 1 18 1 17 1 5 1 1 1 15 1 1 1 1 1 4 1 1 1 9 2 5 1 6 1 54 2 6 2 17 1 4 1 4 1 2 1 3 1 86 1 6 1 17 1 18 1 41 1 99 1 98 1 15 1 1 2 3 1 8 1 15 1 10 1 3 3 1 1 1 1 1 1 1 1 35 1 56 1 43 1 7 1 26 1 10 1 13 1 2 1 2 2 4 1 1 1 2 1 15 1 7 1 11 1 8 1 54 1 1 1 1 1 1 1 3 1 7 1 1 2 5 3 1 1 39 1 1 1 1 1 4 1 1 1 11 1 2 2 17 3 5 2 3 1 4 2 5 4 1 1 2 1 1 1 8 1 1 2 15 1 8 1 77 1 87 1 46 1 16 1 57 1 32 1 3 2 1 1 4 2 1 1 2 2 2 1 2 1 7 1 8 1 8 1 3 1 2 1 10 1 9 1 100033" opacity=".4"/>
<path d="M1035 666.5A559.8 559.8 0 1 0 1766.3 1197.8" pathLength="2523" stroke-dasharray="0 293 1 24 1 1 5 19 1 2 4 1 6 3 1 4 3 2 1 2 2 1 4 30 1 1 3 1 6 1 6 2 1 2 12 1 1 21 1 1 1 1 1 2 3 1 1 18 1 1 3 1 1 78 2 1 2 2 1 1 4 1 2 50 1 5 1 1 1 1 1 1 1 2 1 134 2 3 2 4 1 3 1 1 1 1 1 3 1 3 1 2 2 1 1 1 1 10 4 20 1 1 1 2 5 48 5 69 1 1 1 44 2 2 1 1 3 3 1 1 3 1 2 75 1 1 1 5 1 2 1 2 1 1 1 2 1 1 1 4 2 2 1 3 1 4 1 1 1 1 2 2 1 1 2 1 1 1 1 4 2 2 2 8 1 5 1 101297" opacity=".7"/>
<path d="M1035 666.5A559.8 559.8 0 1 0 1766.3 1197.8" pathLength="2523" stroke-dasharray="69 1 31 1 3 1 121 2 2 3 3 1 8 1 2 3 1 1 3 1 1 1 5 1 2 1 3 1 6 1 10 6 6 2 5 1 1 1 2 1 2 8 12 1 5 39 2 2 1 1 3 1 5 87 3 5 5 102025"/>
<path d="M1029.7 649.8A577.2 577.2 0 1 0 1783.8 1197.8" pathLength="2523" stroke-dasharray="0 405 2 44 1 2 1 53 1 6 2 40 1 8 1 2 1 2 1 1 1 1 1 1 1 25 1 1 1 9 1 22 2 5 1 24 1 13 1 9 2 1 1 9 1 15 4 1 2 3 2 5 1 4 3 3 2 13 1 8 1 11 1 2 1 3 1 101 2 26 2 59 1 2 1 7 2 3 1 3 2 1 1 2 2 2 3 13 1 7 2 9 2 1 1 1 3 1 2 1 1 1 1 2 1 1 1 1 1 1 1 3 1 12 1 1 1 1 1 2 1 13 1 35 2 3 1 34 1 36 1 1 1 34 1 7 1 4 1 1 1 12 3 38 1 3 1 7 1 22 1 25 1 27 1 1 1 15 1 115 1 57 1 1 1 7 1 59 1 20 1 20 1 64 1 3 1 14 2 5 1 4 1 3 1 19 1 5 1 3 1 87 1 88 1 1 1 18 1 136 1 99 2 79 2 12 1 24 1 1 1 15 2 11 1 3 2 4 1 2 1 10 3 1 2 1 1 22 1 7 2 3 1 2 1 2 2 100007" opacity=".4"/>
<path d="M1029.7 649.8A577.2 577.2 0 1 0 1783.8 1197.8" pathLength="2523" stroke-dasharray="0 227 3 2 3 1 5 1 3 8 1 1 1 35 2 1 1 75 1 1 1 1 1 4 1 12 1 18 1 1 1 3 5 2 2 1 2 2 5 1 1 2 2 1 1 1 2 8 1 1 2 1 2 1 1 1 2 1 3 1 1 1 3 8 2 6 1 1 1 2 5 1 1 2 1 6 1 5 1 1 3 1 1 1 1 1 1 3 1 2 2 2 4 1 1 38 1 2 1 2 1 1 2 1 3 53 1 1 1 5 2 2 1 1 1 44 3 1 1 1 1 82 1 2 1 2 2 3 1 3 1 4 1 1 1 2 1 2 1 2 1 2 1 1 1 1 2 3 1 3 2 6 1 5 1 7 1 1 1 2 1 6 1 7 1 3 1 16 1 1 2 2 4 43 3 2 1 3 1 1 1 150 1 2 1 1 1 61 1 2 1 6 1 4 1 6 3 2 1 3 1 101298" opacity=".7"/>
<path d="M1029.7 649.8A577.2 577.2 0 1 0 1783.8 1197.8" pathLength="2523" stroke-dasharray="42 1 10 1 107 1 31 1 1 1 5 1 1 1 1 1 6 1 10 1 1 1 1 19 5 5 18 1 13 1 1 9 1 1 7 1 1 1 1 2 1 2 33 2 2 1 4 1 5 1 1 15 6 2 2 3 1 102126"/>
</g>
<path d="M984.1 508.2A726 726 0 1 0 1932.6 1197.4" stroke="#e9eef6" stroke-width="280"/>
<path d="M1208.5 473.3A726 726 0 0 0 983.5 508.4" stroke="#7b99c8" stroke-width="280"/>
<g stroke="#7b99c8" stroke-width="17.5">
<path d="M1024.3 633.2A594.8 594.8 0 1 0 1801.3 1197.7" pathLength="2523" stroke-dasharray="0 460 1 2 1 37 1 1 1 3 1 35 1 21 2 6 1 24 1 40 1 2 2 4 1 3 9 2 1 1 1 1 1 2 1 4 1 2 1 4 1 5 3 9 1 20 1 4 1 3 1 2 1 1 1 9 1 3 1 16 1 14 1 4 1 8 2 2 1 1 1 3 3 1 1 4 1 2 1 17 1 26 1 5 1 15 1 33 2 2 3 4 3 4 1 1 1 2 1 1 2 7 1 3 1 2 1 28 1 3 1 5 1 3 2 17 1 3 1 1 1 1 2 3 1 1 1 1 1 2 2 4 1 1 2 1 1 2 1 27 1 39 1 8 1 28 1 17 1 4 1 2 1 12 1 4 1 9 1 1 1 4 2 19 1 4 2 2 1 1 2 3 1 90 1 144 1 8 1 20 1 93 2 3 2 3 1 10 1 4 1 6 1 7 1 11 1 1 1 6 3 2 1 1 1 1 2 2 2 2 1 5 2 6 2 2 1 2 1 2 2 1 1 1 2 5 1 2 1 1 2 1 2 1 2 1 3 1 1 4 1 8 1 1 1 1 2 5 1 66 2 47 1 2 1 34 1 10 1 21 1 1 1 6 1 4 1 50 1 4 1 5 1 36 1 2 4 4 1 3 4 24 1 7 2 19 2 3 1 78 1 34 1 1 2 4 1 3 1 2 1 2 3 2 2 3 1 3 1 2 2 3 1 1 2 1 1 1 1 3 1 2 1 3 1 1 1 1 3 3 1 2 1 1 1 2 3 3 1 1 2 1 1 2 2 1 3 3 2 2 2 2 1 2 3 7 2 1 3 2 1 3 1 2 2 3 3 1 3 5 1 4 1 5 1 2 1 2 3 3 1 1 2 5 1 19 2 13 1 100033" opacity=".4"/>
<path d="M1024.3 633.2A594.8 594.8 0 1 0 1801.3 1197.7" pathLength="2523" stroke-dasharray="0 173 3 10 3 1 1 1 5 1 6 4 2 1 2 2 1 2 3 1 4 1 1 2 1 1 1 4 1 2 3 2 2 2 1 5 2 5 1 1 2 14 2 2 3 2 1 1 1 1 2 1 4 4 2 1 1 2 1 3 1 2 1 1 2 3 9 1 2 2 5 1 1 1 7 1 2 1 2 1 2 1 4 1 2 9 2 1 1 2 2 1 8 1 2 1 2 1 2 1 1 5 1 1 2 4 1 4 3 2 2 8 1 34 5 1 2 2 1 2 1 1 2 3 3 41 1 2 1 62 1 1 2 6 3 1 1 5 2 6 2 219 4 42 2 5 1 2 1 62 2 4 1 126 1 4 1 5 3 1 1 156 2 3 1 3 1 3 1 2 3 4 1 3 1 1 1 2 1 2 1 1 1 1 1 1 1 2 1 6 1 1 1 3 1 1 1 212 2 1 2 4 2 2 1 1 1 3 1 1 1 5 4 14 1 1 1 1 1 3 1 222 2 1 1 3 1 302 2 1 1 2 2 14 1 3 1 1 2 2 1 4 1 9 1 100338" opacity=".7"/>
<path d="M1024.3 633.2A594.8 594.8 0 1 0 1801.3 1197.7" pathLength="2523" stroke-dasharray="20 1 2 1 4 1 3 1 22 1 34 2 1 1 9 1 6 2 19 2 6 3 1 1 4 1 4 1 1 1 1 1 11 11 4 29 2 35 2 1 2 13 1 1 1 1 1 1 1 1 3 8 1 83 2 1 2 32 1 26 4 2 5 1 7 1 1 1 2 102063"/>
<path d="M1018.9 616.5A612.2 612.2 0 1 0 1818.8 1197.7" pathLength="2523" stroke-dasharray="0 205 2 1 2 2 1 16 2 2 2 179 1 1 1 1 2 1 1 1 3 3 2 2 1 27 1 4 1 4 1 50 1 11 1 1 2 22 1 3 2 1 1 27 1 2 1 1 2 44 1 20 1 2 1 2 1 4 1 18 1 6 1 1 1 1 2 3 1 1 1 33 1 45 3 1 2 2 1 2 1 1 6 2 1 1 1 3 1 13 1 45 1 9 1 63 1 1 1 2 1 4 2 18 1 2 5 2 1 1 1 6 1 5 1 22 1 6 1 20 1 11 1 9 1 5 2 8 1 30 1 10 1 2 1 44 2 23 1 4 1 11 1 9 1 1 3 1 1 2 1 1 1 2 1 9 1 8 1 24 7 1 1 1 1 1 1 1 3 2 1 1 1 1 2 2 1 1 2 4 1 1 1 1 2 1 1 2 2 31 1 10 2 2 2 3 1 2 1 3 1 4 2 1 1 2 1 17 1 61 1 58 1 3 4 3 1 1 2 1 1 2 1 1 4 1 1 4 1 7 1 2 2 1 1 3 3 1 1 2 2 1 1 2 1 1 1 1 1 1 1 2 1 1 1 5 1 3 1 34 1 46 1 10 1 6 1 1 1 14 1 38 1 11 1 20 3 1 1 1 2 3 1 25 1 26 1 66 1 51 1 21 2 1 1 1 1 3 2 1 1 7 1 7 1 21 2 3 1 1 2 26 1 14 2 16 1 1 1 1 1 84 1 3 2 14 1 9 2 7 4 4 2 1 5 3 1 5 1 6 1 4 1 3 1 2 1 4 1 2 1 3 2 2 1 5 1 3 3 3 1 2 2 1 1 3 1 12 6 1 1 1 1 1 1 3 1 10 1 1 4 1 2 1 2 1 1 1 1 3 1 4 1 1 1 6 1 2 1 4 2 1 1 3 1 1 1 1 1 1 1 5 1 2 1 1 1 10 1 2 1 1 2 1 2 9 1 4 1 1 1 100016" opacity=".4"/>
<path d="M1018.9 616.5A612.2 612.2 0 1 0 1818.8 1197.7" pathLength="2523" stroke-dasharray="0 90 1 68 5 25 2 1 1 2 1 1 1 1 1 4 1 10 2 1 3 2 1 55 1 2 3 5 2 11 1 1 2 2 1 4 2 2 1 1 1 1 2 1 2 1 3 1 2 1 1 5 1 3 1 1 1 1 1 1 3 2 5 2 1 1 1 2 2 5 3 3 2 1 1 1 3 6 2 2 1 1 1 1 3 28 1 2 1 1 2 2 2 2 2 1 2 1 3 1 2 16 1 2 1 2 3 1 2 1 4 2 3 108 1 1 1 3 2 5 2 2 1 1 3 2 3 2 2 12 2 2 1 2 1 3 1 1 2 1 1 187 1 1 1 45 2 2 1 2 2 3 1 7 1 1 1 1 1 1 7 2 2 1 1 1 2 1 1 3 1 5 1 24 1 3 1 552 1 2 1 1 1 1 2 1 1 1 1 276 2 266 1 2 1 41 1 1 1 5 2 14 1 2 1 6 1 3 2 2 1 3 1 100338" opacity=".7"/>
<path d="M1018.9 616.5A612.2 612.2 0 1 0 1818.8 1197.7" pathLength="2523" stroke-dasharray="20 1 4 2 1 2 1 2 1 1 7 1 1 1 2 1 7 2 1 2 1 1 1 1 3 1 17 1 4 2 1 1 1 1 25 1 12 3 4 1 1 1 1 2 5 1 4 1 1 6 1 1 1 1 3 1 11 1 1 1 2 48 2 1 1 1 3 2 1 1 1 1 3 3 1 1 1 1 4 2 1 3 2 1 1 1 2 9 2 6 4 1 1 107 3 102111"/>
<path d="M1013.6 599.9A629.8 629.8 0 1 0 1836.3 1197.7" pathLength="2523" stroke-dasharray="0 231 4 55 2 10 2 1 2 1 3 1 1 1 1 96 1 1 1 2 1 1 2 1 1 2 2 2 2 2 1 17 1 8 3 3 2 2 3 1 1 27 1 18 1 3 1 3 1 2 2 13 1 7 2 21 1 11 1 15 1 3 1 3 1 15 1 5 1 39 1 5 1 30 1 3 1 10 1 2 1 1 1 1 2 2 1 11 1 48 1 2 1 1 3 1 1 2 1 2 1 2 1 1 1 11 1 4 1 7 1 59 1 10 1 2 1 1 1 41 1 24 2 1 1 1 3 37 1 19 1 21 1 2 1 41 1 2 1 5 1 78 1 6 1 16 1 2 2 98 1 3 1 25 2 1 2 17 1 1 1 9 1 45 1 29 1 31 1 6 1 35 1 1 2 2 4 1 1 4 1 1 1 3 2 3 1 2 4 1 1 2 1 4 1 13 1 2 1 7 1 1 1 55 1 2 1 6 1 14 1 5 1 18 1 10 1 3 1 7 1 39 1 25 1 2 1 4 1 19 1 11 1 21 2 3 1 7 1 1 2 2 1 8 1 9 1 1 1 4 1 141 1 2 1 1 2 2 2 1 1 1 2 2 1 1 2 2 1 1 2 2 1 1 1 1 1 1 2 1 1 4 2 5 8 4 1 1 2 3 1 3 2 2 1 7 1 8 1 2 1 2 1 2 1 1 1 4 1 34 1 7 1 18 1 12 1 11 1 98 1 2 1 2 3 1 3 2 2 1 2 2 2 2 3 2 1 1 1 1 4 4 2 2 1 1 2 3 2 37 2 5 1 2 1 23 1 5 2 3 1 3 1 1 2 4 1 11 1 99999" opacity=".4"/>
<path d="M1013.6 599.9A629.8 629.8 0 1 0 1836.3 1197.7" pathLength="2523" stroke-dasharray="0 18 2 1 2 2 1 1 2 135 1 1 1 1 1 1 4 19 2 1 1 1 2 16 2 1 1 3 1 1 2 9 8 1 5 5 4 1 1 2 8 2 7 1 1 2 1 1 1 29 3 1 5 1 2 2 2 10 1 1 1 1 3 1 1 8 1 1 12 1 1 1 4 5 1 48 10 1 3 27 1 1 1 2 1 1 3 1 3 1 1 2 1 2 2 40 2 1 2 150 2 2 3 2 1 149 1 2 1 3 1 5 2 1 1 2 1 7 1 11 1 2 2 3 1 1 1 27 4 3 1 1 1 6 1 25 2 4 1 5 1 149 1 1 4 1 1 2 1 1 3 3 1 1 1 4 2 1 1 2 1 1 5 1 4 2 4 2 3 4 2 2 1 1 1 1 2 40 1 4 1 1 2 8 2 1 3 7 1 98 1 590 3 2 1 5 1 1 1 2 1 3 1 3 1 7 2 1 2 9 1 4 5 2 1 1 1 6 2 1 2 2 1 1 2 8 1 222 1 1 1 1 1 2 1 9 1 3 3 1 2 13 1 3 2 3 1 100202" opacity=".7"/>
<path d="M1013.6 599.9A629.8 629.8 0 1 0 1836.3 1197.7" pathLength="2523" stroke-dasharray="18 11 16 1 3 2 2 1 2 1 4 1 2 2 24 2 4 1 13 2 2 2 5 1 2 2 12 1 7 1 1 1 2 3 1 19 2 1 3 2 1 1 8 8 4 1 2 2 1 1 4 35 1 2 1 33 2 6 2 1 2 32 1 1 3 1 1 13 1 1 5 28 3 1 4 1 2 2 2 3 4 1 1 102111"/>
<path d="M1008.2 583.2A647.2 647.2 0 1 0 1853.8 1197.6" pathLength="2523" stroke-dasharray="0 159 2 131 3 117 1 2 1 2 1 1 1 33 2 1 1 2 1 2 1 4 3 44 1 1 1 6 1 2 1 4 1 4 1 6 1 5 1 11 1 3 1 9 1 26 1 9 1 1 1 1 1 1 1 7 1 1 2 1 1 1 1 3 1 2 1 1 1 2 2 3 2 2 2 95 1 21 1 53 1 3 1 8 1 5 1 54 1 7 2 3 1 1 1 31 1 4 1 11 1 1 2 3 1 12 1 2 1 5 1 1 1 18 1 6 1 7 2 2 1 16 1 30 1 5 1 14 1 1 1 2 1 1 1 17 1 74 1 1 1 15 3 4 1 7 1 5 3 1 1 2 1 2 1 1 1 2 1 1 1 10 2 2 1 1 1 10 1 3 2 1 1 5 1 2 1 9 1 2 1 2 1 5 1 1 1 2 1 1 1 1 1 3 1 3 2 3 1 5 1 1 1 1 1 4 7 24 1 32 1 83 1 2 1 60 1 2 1 1 2 2 1 6 1 14 3 3 1 2 2 2 1 5 1 1 2 2 2 32 1 5 1 2 1 61 2 1 2 10 1 36 1 4 1 2 1 30 1 22 1 21 1 18 2 3 1 25 1 22 1 1 1 15 1 7 1 1 1 12 3 3 1 4 1 7 1 33 1 5 1 5 1 15 1 10 2 4 1 63 1 21 1 34 1 19 2 3 1 3 5 1 1 2 2 2 2 2 1 1 1 1 4 1 3 3 1 2 2 1 2 1 3 3 1 3 3 1 2 1 1 10 1 47 1 5 1 1 1 3 1 7 1 2 3 2 1 1 1 3 2 2 1 1 2 2 1 1 2 1 1 1 1 7 1 5 2 2 1 1 1 2 2 2 1 10 1 8 2 4 2 3 2 3 4 4 1 15 1 28 1 100003" opacity=".4"/>
<path d="M1008.2 583.2A647.2 647.2 0 1 0 1853.8 1197.6" pathLength="2523" stroke-dasharray="0 93 3 1 1 106 2 1 2 4 3 2 2 1 1 4 2 5 1 34 1 2 4 2 2 1 4 1 1 3 1 12 4 4 2 1 2 26 2 1 5 2 1 38 1 4 4 1 2 5 2 14 2 1 1 3 4 8 3 1 3 27 2 2 1 5 1 1 2 3 4 1 1 41 1 147 3 3 1 5 1 4 4 1 1 1 1 1 3 1 1 3 4 1 2 3 3 4 2 3 1 3 3 7 2 1 3 2 1 19 1 5 1 2 1 5 1 1 2 5 1 5 5 32 1 1 1 6 1 7 1 1 1 3 1 1 3 7 2 4 1 4 3 27 1 1 1 1 1 2 1 39 1 3 1 150 1 2 2 1 3 1 1 3 1 1 2 4 1 3 1 1 2 1 1 1 8 3 2 2 1 1 3 1 3 1 3 3 3 1 3 358 1 2 3 1 1 3 2 330 1 3 1 2 1 46 2 524 1 100038" opacity=".7"/>
<path d="M1008.2 583.2A647.2 647.2 0 1 0 1853.8 1197.6" pathLength="2523" stroke-dasharray="67 1 2 1 2 1 4 1 1 2 1 1 2 4 2 6 12 1 4 1 5 2 1 1 5 1 2 1 10 2 2 1 1 1 1 5 2 2 3 1 2 1 2 2 5 1 2 1 2 2 1 1 7 1 1 4 2 1 1 6 2 23 3 3 2 1 4 1 4 1 1 3 1 2 1 2 3 20 2 7 3 1 1 19 2 1 1 1 1 1 1 2 6 1 2 13 2 1 2 1 1 1 2 2 1 4 10 2 1 1 2 1 1 2 1 351 1 4 2 101774"/>
<path d="M1002.8 566.5A664.8 664.8 0 1 0 1871.3 1197.6" pathLength="2523" stroke-dasharray="0 180 5 104 3 118 1 2 4 2 1 1 1 102 1 6 1 32 1 4 1 1 2 1 1 3 1 10 1 1 1 15 1 2 1 2 1 1 1 1 1 2 2 4 1 1 2 1 1 5 1 3 1 1 2 1 1 1 1 2 1 1 1 2 1 16 1 51 1 9 1 2 1 39 1 25 1 5 2 1 3 1 2 3 2 5 1 22 3 3 1 6 1 4 1 4 1 6 1 1 1 1 1 8 1 2 4 2 1 1 1 3 2 1 1 6 1 2 1 39 1 2 3 4 1 12 1 2 4 36 2 5 1 19 1 1 2 5 1 12 1 1 1 15 1 2 1 21 1 39 1 12 1 6 1 2 1 7 1 17 1 2 1 1 1 4 1 19 1 3 1 4 1 4 1 3 1 4 1 3 1 2 2 1 2 7 1 3 2 7 1 7 1 2 1 14 1 1 1 6 1 7 1 7 1 2 1 5 1 2 1 1 1 35 1 37 1 34 1 33 1 2 1 41 1 10 3 1 1 6 2 2 1 10 1 4 1 3 1 4 1 2 1 36 1 41 1 24 1 1 1 3 1 1 1 1 1 2 2 2 1 1 3 1 1 7 1 9 2 6 1 111 1 9 1 14 1 1 1 3 2 1 2 2 3 1 2 9 1 12 1 18 1 5 1 7 2 7 1 9 1 2 1 10 1 3 1 17 1 38 1 11 1 1 1 1 1 3 2 4 1 5 1 1 1 20 1 71 1 3 1 26 3 1 1 2 3 1 1 1 2 1 1 2 3 1 1 1 2 2 1 1 1 3 1 2 5 3 2 1 1 2 1 1 1 3 1 1 1 1 1 16 1 4 1 3 1 19 1 2 1 13 1 40 1 8 1 17 1 25 2 2 1 2 1 14 1 55 1 100006" opacity=".4"/>
<path d="M1002.8 566.5A664.8 664.8 0 1 0 1871.3 1197.6" pathLength="2523" stroke-dasharray="0 87 8 1 2 73 6 29 4 3 1 2 1 1 1 1 1 3 2 1 1 1 2 1 1 1 1 21 2 2 3 1 2 39 1 1 2 2 3 4 1 1 2 5 1 5 1 1 2 1 2 1 1 1 1 1 1 1 1 1 2 1 1 2 1 1 3 2 2 3 1 1 1 20 3 4 1 1 1 1 2 2 1 1 1 16 1 2 2 1 3 1 3 1 1 2 1 6 2 1 1 2 2 1 2 21 2 1 2 1 3 3 2 44 3 149 1 8 1 1 1 3 3 1 2 1 1 43 1 5 1 22 1 1 1 3 1 5 1 1 2 127 2 5 1 5 2 32 1 2 1 1 1 1 1 1 2 141 1 4 1 1 1 7 1 1 1 2 1 2 2 212 1 6 1 235 1 2 1 4 1 10 1 1 2 434 1 218 1 1 1 1 1 2 1 1 1 100229" opacity=".7"/>
<path d="M1002.8 566.5A664.8 664.8 0 1 0 1871.3 1197.6" pathLength="2523" stroke-dasharray="11 1 60 2 2 1 6 1 3 11 2 1 7 1 1 1 1 2 2 1 4 1 3 1 2 1 1 1 3 1 6 1 1 1 1 1 4 1 3 2 1 4 1 1 1 1 6 15 1 1 1 2 1 2 4 3 1 1 2 30 1 3 1 1 2 3 2 1 6 14 5 4 1 1 1 3 1 1 1 1 1 3 1 1 2 1 1 1 2 3 1 69 1 1 1 1 1 1 2 1 3 1 2 70 4 1 2 1 2 1 3 1 2 1 2 102043"/>
<path d="M997.5 549.9A682.2 682.2 0 1 0 1888.8 1197.5" pathLength="2523" stroke-dasharray="0 212 1 198 1 87 1 3 1 70 1 4 1 4 1 1 1 4 1 22 1 4 1 3 2 5 2 1 1 2 1 4 1 1 1 2 1 1 1 22 1 65 1 4 1 4 1 1 4 2 1 1 1 1 1 4 3 9 1 8 1 2 1 4 5 3 1 2 1 3 1 14 1 12 1 83 1 1 1 65 1 74 1 5 1 16 1 4 1 2 1 3 1 4 1 14 1 34 1 4 1 7 1 1 1 27 1 7 2 2 2 14 1 1 1 17 1 3 1 17 1 13 1 89 1 28 1 5 1 73 1 9 1 14 1 22 1 10 1 26 2 1 1 1 1 4 3 9 1 11 1 78 1 22 1 3 1 4 1 1 2 1 1 3 2 6 1 3 1 8 1 3 1 27 1 29 1 62 1 4 1 22 2 4 1 19 1 24 1 5 1 6 1 3 1 2 3 1 1 75 1 10 1 8 3 4 3 2 3 5 1 1 1 4 1 52 1 1 1 9 1 12 1 24 1 8 1 4 1 12 1 3 1 1 1 1 2 2 1 4 1 6 1 1 1 2 3 3 1 1 1 2 1 3 1 4 2 1 1 1 1 76 1 51 1 1 1 27 2 6 2 1 2 100075" opacity=".4"/>
<path d="M997.5 549.9A682.2 682.2 0 1 0 1888.8 1197.5" pathLength="2523" stroke-dasharray="0 87 2 2 1 4 2 2 1 1 1 1 2 65 7 1 1 33 3 3 1 1 1 1 1 2 1 8 1 2 4 2 1 1 1 1 2 39 2 16 3 3 1 2 3 6 2 2 1 8 2 2 2 2 2 3 1 5 1 1 1 7 1 2 1 19 6 1 5 2 5 13 1 2 2 1 1 7 2 4 2 1 1 7 3 2 1 21 4 1 4 2 2 1 2 33 1 1 4 2 2 6 2 10 2 134 1 2 8 3 3 1 1 1 1 1 1 1 2 2 1 4 1 1 3 78 2 40 1 3 2 4 1 1 1 2 1 4 2 5 1 1 2 1 3 1 4 5 1 2 1 28 2 3 1 11 1 74 2 2 1 2 1 4 1 5 2 3 1 1 3 1 2 3 2 70 1 2 1 2 1 2 1 7 2 5 2 129 1 1 1 3 2 1 9 7 1 2 1 3 2 2 3 2 3 3 1 5 1 1 1 7 1 207 2 2 1 1 1 3 1 1 1 77 1 1 3 2 3 3 1 1 1 2 1 244 1 2 1 2 1 374 1 3 1 100231" opacity=".7"/>
<path d="M997.5 549.9A682.2 682.2 0 1 0 1888.8 1197.5" pathLength="2523" stroke-dasharray="57 1 14 1 2 1 4 1 2 1 3 19 2 3 2 1 1 2 2 1 5 1 1 1 1 1 1 1 13 1 19 2 1 12 1 1 1 1 14 1 3 1 2 1 1 45 1 1 4 2 3 1 1 1 1 3 1 2 4 2 3 3 3 4 1 2 1 2 1 1 2 2 1 66 2 5 2 2 1 1 1 1 4 69 2 3 1 1 2 2 3 1 5 102043"/>
<path d="M992.1 533.2A699.8 699.8 0 1 0 1906.3 1197.5" pathLength="2523" stroke-dasharray="0 212 1 17 1 1 1 1 1 1 1 2 2 2 1 1 2 13 1 1 3 169 1 1 1 1 1 1 1 57 1 13 1 12 1 51 1 2 2 17 1 14 1 1 2 4 1 1 4 3 1 1 4 2 3 4 1 5 1 10 1 10 1 6 1 57 3 1 1 1 3 2 3 1 1 1 1 4 2 1 1 1 1 1 1 2 1 3 2 3 1 1 1 1 2 5 1 1 1 3 1 2 1 4 1 14 1 14 1 66 1 3 1 3 1 4 2 3 1 6 1 21 1 5 1 1 1 49 1 6 1 53 1 26 1 34 1 2 1 16 1 47 1 8 2 9 1 45 1 93 1 10 1 1 1 1 2 2 2 1 1 46 1 3 1 1 1 28 1 1 1 30 1 4 1 2 1 4 1 8 1 1 2 1 1 1 1 2 1 23 1 38 1 7 1 53 1 2 1 15 1 3 1 2 1 6 1 3 1 48 1 22 4 3 1 9 1 10 1 13 1 10 1 1 2 1 1 35 1 16 2 1 2 3 3 1 2 75 1 3 1 2 2 10 1 73 1 27 1 49 1 10 1 74 1 1 1 2 2 4 2 2 3 1 1 3 1 6 1 1 1 2 1 2 5 1 1 6 1 1 3 4 3 3 1 2 1 5 1 23 1 71 2 5 1 1 2 5 1 3 1 1 1 3 2 1 1 3 1 6 1 1 1 1 2 5 2 6 1 18 1 100054" opacity=".4"/>
<path d="M992.1 533.2A699.8 699.8 0 1 0 1906.3 1197.5" pathLength="2523" stroke-dasharray="0 147 4 2 1 1 2 12 7 2 2 18 2 8 1 4 1 2 1 74 4 1 2 2 3 1 1 1 2 3 5 2 2 1 2 2 1 1 1 1 1 5 1 3 1 1 4 1 1 4 1 1 1 1 1 4 3 4 1 2 1 9 1 1 1 2 2 1 2 1 2 18 1 1 2 1 4 2 2 3 2 4 1 8 1 2 3 1 3 2 1 1 1 2 3 3 3 1 2 1 6 6 1 2 2 1 4 1 1 33 2 3 1 6 5 13 1 127 1 2 3 1 1 1 2 1 10 1 5 2 1 3 1 5 4 2 3 74 4 43 1 4 1 1 1 5 1 4 1 9 1 8 1 3 3 33 3 1 1 2 1 3 1 72 3 3 2 4 3 2 2 1 1 1 1 1 1 2 2 1 4 172 3 1 1 2 3 10 1 36 1 1 2 11 2 2 2 1 3 5 1 2 2 2 1 3 1 1 1 1 2 5 3 1 1 3 3 1 1 20 2 106 1 1 1 2 1 1 2 2 1 1 2 45 1 2 1 1 1 1 1 2 1 341 1 1 1 2 1 1 3 4 1 3 1 7 1 2 4 2 1 2 1 12 1 3 1 3 1 373 1 3 1 6 1 2 2 7 1 3 1 3 2 2 1 1 2 1 3 1 2 2 1 1 1 100152" opacity=".7"/>
<path d="M992.1 533.2A699.8 699.8 0 1 0 1906.3 1197.5" pathLength="2523" stroke-dasharray="13 1 19 1 4 1 1 1 25 1 11 1 14 1 5 1 8 1 11 1 4 1 1 1 1 1 1 1 12 15 10 12 1 1 1 3 1 1 2 1 1 1 2 5 1 1 2 2 1 3 1 7 2 1 2 1 1 22 4 1 4 1 1 8 1 4 1 1 3 1 2 2 1 1 5 82 1 1 1 2 2 16 1 1 6 1 1 102118"/>
<path d="M986.7 516.6A717.2 717.2 0 1 0 1923.8 1197.4" pathLength="2523" stroke-dasharray="0 209 4 16 1 4 1 3 1 21 1 3 1 41 2 59 1 11 6 1 2 27 2 1 1 77 1 1 1 1 1 1 1 8 1 15 1 5 1 14 1 1 1 28 1 2 1 3 1 15 1 3 1 2 1 5 2 104 1 7 1 2 1 28 1 5 1 1 2 63 1 9 1 26 1 1 1 1 2 1 2 5 1 16 1 10 1 10 2 1 4 4 1 1 1 1 1 1 1 1 2 1 2 3 1 2 1 1 1 5 1 8 2 30 1 28 1 8 1 3 1 9 1 2 2 2 2 11 1 8 1 13 1 4 1 14 1 13 1 9 1 3 2 3 1 3 1 32 1 7 1 5 1 2 1 4 1 26 1 29 2 4 1 2 2 8 1 19 3 2 2 3 1 1 1 5 1 1 1 6 1 8 1 1 1 6 1 9 2 1 2 1 2 12 1 107 1 8 2 6 1 3 1 22 2 3 3 1 3 2 1 15 1 13 1 6 1 7 1 62 2 15 1 10 1 3 1 8 1 20 1 31 1 10 1 23 1 2 1 1 1 30 2 1 1 5 1 42 1 8 2 80 1 6 1 39 1 9 1 44 2 45 1 9 1 60 2 3 1 10 1 19 1 1 1 11 1 2 2 1 1 1 1 1 1 2 2 1 1 3 6 3 1 3 2 4 2 4 2 3 1 1 1 8 1 92 2 1 2 9 2 2 1 7 1 1 3 4 1 3 3 2 1 17 1 44 2 20 1 100005" opacity=".4"/>
<path d="M986.7 516.6A717.2 717.2 0 1 0 1923.8 1197.4" pathLength="2523" stroke-dasharray="0 126 2 14 2 3 2 2 1 4 1 58 3 29 3 1 1 2 2 2 1 9 3 1 2 4 11 1 1 2 3 1 2 1 1 1 1 1 1 6 2 1 1 1 3 1 5 3 1 1 2 2 2 1 1 1 2 1 1 2 3 1 1 1 2 1 4 1 1 1 2 2 2 23 1 4 3 2 1 1 4 1 2 32 1 1 4 1 3 1 4 5 2 2 3 1 5 1 1 1 8 1 4 2 3 11 2 10 1 44 1 1 5 2 3 3 1 8 1 32 1 2 3 3 1 5 1 4 2 1 4 2 2 3 1 5 2 1 1 1 1 11 1 3 1 1 2 1 1 9 1 1 1 1 2 2 1 1 1 4 1 1 1 73 1 2 1 6 1 3 1 1 1 4 5 204 1 101 1 5 1 96 1 3 1 3 1 3 1 136 1 2 2 4 1 96 5 36 1 1 1 2 1 243 2 128 1 2 1 4 1 1 1 3 2 1 1 1 2 5 1 9 2 2 1 1 1 8 1 370 2 3 1 3 1 1 1 4 1 3 1 2 1 7 1 1 1 1 1 5 2 1 2 9 1 100147" opacity=".7"/>
<path d="M986.7 516.6A717.2 717.2 0 1 0 1923.8 1197.4" pathLength="2523" stroke-dasharray="96 1 9 1 1 2 2 1 3 1 6 1 2 3 2 1 1 5 3 18 4 2 6 1 2 2 2 1 4 2 2 1 1 1 1 2 4 1 2 2 3 1 1 13 1 1 1 148 3 1 1 48 2 5 8 102083"/>
<path d="M981.4 499.9A734.8 734.8 0 1 0 1941.3 1197.4" pathLength="2523" stroke-dasharray="0 183 3 3 2 3 2 3 1 8 2 2 1 166 1 2 2 1 5 3 3 153 2 5 1 64 1 19 1 27 1 43 1 6 1 2 1 40 2 4 1 10 1 72 1 2 1 1 1 1 3 1 3 2 1 5 1 1 1 1 1 3 4 3 1 6 1 1 1 8 3 1 2 8 1 8 1 2 2 1 1 2 4 6 1 3 1 4 2 30 1 4 1 8 1 8 1 28 1 3 1 9 3 7 1 11 1 13 1 17 1 6 1 2 1 1 1 8 1 13 1 42 2 26 1 57 1 2 1 5 2 22 1 1 1 6 2 11 1 1 2 4 1 17 1 8 1 10 1 71 1 16 1 17 1 1 1 12 1 10 1 64 1 5 1 29 1 26 1 3 1 1 2 10 1 8 1 16 1 21 1 2 3 1 1 3 1 70 1 25 1 8 4 91 1 23 1 1 1 4 1 5 1 49 1 21 1 1 1 3 3 2 2 34 1 55 1 9 1 1 1 4 1 18 1 39 1 3 1 74 1 4 1 5 1 104 1 14 1 12 1 2 1 3 1 5 1 13 1 12 1 2 2 6 1 8 1 12 1 100021" opacity=".4"/>
<path d="M981.4 499.9A734.8 734.8 0 1 0 1941.3 1197.4" pathLength="2523" stroke-dasharray="0 127 2 15 1 2 3 1 1 2 1 2 1 56 3 1 2 7 1 1 7 2 4 3 2 1 1 1 1 1 2 24 1 1 4 1 3 1 4 1 1 2 2 3 2 1 3 1 2 1 2 8 2 11 4 2 1 1 9 1 1 1 2 1 3 1 2 3 4 39 4 1 1 2 2 11 5 1 4 44 1 7 3 2 1 30 1 1 1 3 2 3 2 30 1 4 3 1 1 4 1 1 1 2 1 1 1 5 3 2 3 1 1 3 2 1 1 2 3 3 1 1 2 2 1 156 3 4 1 1 1 1 1 1 1 3 1 1 2 1 2 1 1 412 2 3 1 487 1 8 2 1 1 1 1 6 1 1 2 5 2 1 1 3 5 2 2 1 1 1 1 5 3 278 1 129 1 34 1 1 2 4 1 2 2 11 2 3 2 2 1 1 1 10 1 1 1 4 1 1 1 5 1 164 1 100076" opacity=".7"/>
<path d="M981.4 499.9A734.8 734.8 0 1 0 1941.3 1197.4" pathLength="2523" stroke-dasharray="25 1 3 1 3 2 2 1 1 1 1 1 56 1 1 2 5 2 2 2 11 6 2 2 3 2 3 18 1 1 3 2 2 2 3 3 2 3 1 18 2 51 2 1 1 1 5 3 2 1 2 1 5 46 3 1 2 3 2 61 2 1 3 1 2 3 1 32 1 3 3 1 1 2 3 2 1 1 1 1 6 2 5 2 4 1 1 102040"/>
<path d="M976 483.3A752.2 752.2 0 1 0 1958.8 1197.3" pathLength="2523" stroke-dasharray="0 184 1 1 3 1 1 1 1 5 1 37 1 1 1 3 2 1 1 60 3 2 3 3 5 52 3 1 1 1 2 2 2 2 2 30 1 61 1 1 1 2 1 1 2 41 1 2 1 1 1 1 2 13 1 5 1 1 1 3 1 1 1 5 1 7 1 3 1 1 1 2 1 53 1 8 1 17 1 8 1 2 2 9 1 3 1 1 1 4 1 7 1 1 1 2 1 8 1 5 1 12 1 16 2 2 1 3 1 40 1 12 1 25 2 1 2 2 3 7 1 2 2 1 2 2 2 1 2 2 1 1 3 1 2 1 4 3 1 1 1 1 4 1 2 2 1 2 3 1 1 1 5 1 2 1 3 1 1 5 4 13 2 3 1 5 1 1 1 24 1 13 1 3 1 2 1 24 2 6 1 3 1 1 1 1 1 8 1 59 1 5 1 10 1 5 1 2 1 2 1 14 1 4 1 25 1 5 1 15 1 1 1 30 1 15 1 2 1 1 1 3 1 2 1 11 1 10 1 6 4 1 1 3 1 3 1 5 1 1 1 10 2 7 1 2 1 28 1 9 1 19 1 21 1 14 1 10 1 8 1 2 1 2 1 1 2 1 1 2 1 36 1 9 1 30 1 34 1 8 1 16 1 7 1 3 4 1 2 8 1 118 1 3 1 4 1 2 1 1 1 1 1 4 2 2 1 21 1 4 1 2 1 2 1 3 1 61 1 9 1 1 1 3 1 1 1 56 1 3 1 4 1 1 1 16 1 103 1 3 1 75 1 18 1 5 3 2 1 1 1 5 2 1 2 2 1 25 2 8 3 4 1 3 1 4 1 10 1 5 3 12 1 16 1 16 3 1 1 1 1 1 5 1 1 2 1 1 2 5 1 1 1 1 1 6 1 4 2 4 3 3 1 4 1 4 3 1 1 4 2 4 5 1 1 6 2 1 3 3 1 29 1 8 1 26 1 100004" opacity=".4"/>
<path d="M976 483.3A752.2 752.2 0 1 0 1958.8 1197.3" pathLength="2523" stroke-dasharray="0 108 1 1 1 11 2 6 2 1 1 5 1 1 1 1 1 2 1 2 1 2 2 1 1 93 2 1 6 2 2 1 1 6 2 1 1 1 1 16 6 1 3 2 2 19 2 1 5 3 2 5 4 2 1 3 1 1 2 2 1 2 1 2 1 3 2 25 5 1 2 2 3 2 2 1 1 4 1 3 2 1 1 1 3 2 1 1 2 1 1 1 1 51 1 1 2 1 2 2 1 3 1 2 1 2 1 1 2 1 1 1 1 4 1 2 1 69 7 3 1 3 1 2 1 1 2 1 2 4 1 2 4 156 1 1 2 1 1 1 3 1 2 1 1 3 1 4 2 307 1 5 1 581 1 3 1 2 1 1 1 4 1 1 2 3 1 1 1 2 5 3 2 4 1 1 4 2 1 2 1 3 2 1 3 76 1 1 1 2 1 3 4 3 1 3 1 7 1 1 1 63 3 1 1 2 1 78 1 3 1 2 2 21 1 136 1 3 4 148 2 100173" opacity=".7"/>
<path d="M976 483.3A752.2 752.2 0 1 0 1958.8 1197.3" pathLength="2523" stroke-dasharray="75 1 24 1 1 1 1 1 2 6 3 2 2 41 2 1 5 1 3 3 2 1 2 1 1 19 6 6 2 1 3 1 4 1 2 1 1 1 3 1 1 28 3 2 1 7 1 1 1 1 2 1 3 1 1 152 3 3 3 1 2 1 1 1 1 1 2 1 1 1 3 2 1 1 2 3 1 1 1 1 2 102041"/>
<path d="M970.7 466.6A769.8 769.8 0 1 0 1976.3 1197.3" pathLength="2523" stroke-dasharray="0 254 1 2 1 3 2 115 2 1 1 1 1 1 1 1 2 1 1 53 2 1 1 1 1 2 2 3 2 1 1 3 1 1 2 1 1 36 1 2 1 2 2 2 2 4 3 3 1 1 1 1 1 1 3 6 1 1 1 22 1 2 1 1 2 2 1 3 1 1 1 2 1 44 1 1 1 10 1 12 1 11 1 7 1 97 1 25 1 55 1 69 1 9 2 16 1 13 1 10 1 23 1 10 1 2 1 4 1 6 1 62 1 7 1 7 1 5 1 6 1 20 3 98 1 37 1 30 1 10 1 8 1 9 1 5 1 5 1 1 1 3 1 38 1 42 2 32 4 1 1 1 1 2 1 3 1 1 1 2 4 23 1 11 1 7 1 14 1 2 1 11 1 17 1 1 1 4 1 2 3 3 1 2 1 1 2 1 1 1 2 35 1 18 1 2 1 12 1 27 1 10 1 1 1 2 2 2 1 14 1 4 3 5 2 4 3 1 1 1 1 4 1 6 1 1 1 1 1 7 1 23 1 7 7 11 2 1 5 4 1 1 2 2 2 1 3 1 1 2 1 7 1 1 1 7 1 1 1 8 1 5 1 20 1 2 1 3 1 2 1 29 2 3 1 32 1 28 1 135 1 9 1 5 1 55 4 1 1 2 1 36 1 2 1 2 2 2 1 15 1 9 1 10 1 44 1 3 3 1 1 3 1 1 1 1 1 2 1 7 5 2 1 1 1 6 1 1 2 2 1 1 1 16 1 1 1 1 1 1 1 1 2 8 1 2 1 1 1 3 1 1 1 3 1 6 1 5 1 1 1 1 1 1 2 1 1 1 2 7 1 100000" opacity=".4"/>
<path d="M970.7 466.6A769.8 769.8 0 1 0 1976.3 1197.3" pathLength="2523" stroke-dasharray="0 78 1 1 1 107 1 1 2 2 1 3 2 1 2 7 2 2 4 1 2 4 2 4 3 2 2 1 1 1 1 1 1 1 4 1 3 32 4 2 1 15 2 4 1 3 1 3 1 1 1 3 6 63 1 1 3 1 3 1 4 1 1 1 1 1 2 1 2 7 2 41 1 2 1 1 1 2 1 2 10 3 1 1 1 5 1 49 1 4 2 5 1 23 2 1 1 4 2 3 3 1 1 2 1 1 1 2 1 1 1 3 2 3 1 2 3 67 1 1 4 10 1 2 1 7 1 6 2 7 1 2 1 9 1 3 1 3 1 1 1 1 1 4 1 80 2 9 1 3 1 2 2 3 2 18 1 3 1 2 1 1 1 4 1 127 1 1 2 1 1 4 1 6 2 1 2 1 4 1 2 3 2 1 1 1 1 1 4 2 4 67 1 1 1 1 1 3 1 3 1 1 1 2 2 2 1 2 4 1 1 1 2 1 2 1 1 1 2 3 3 2 1 3 1 1 2 1 2 1 1 1 4 814 1 169 1 11 1 3 5 5 1 1 1 3 1 2 1 4 1 1 1 21 1 81 2 2 1 1 1 5 2 4 1 7 1 2 1 2 2 1 1 100136" opacity=".7"/>
<path d="M970.7 466.6A769.8 769.8 0 1 0 1976.3 1197.3" pathLength="2523" stroke-dasharray="15 1 38 1 23 5 1 1 15 1 1 3 1 1 1 1 1 1 1 4 1 2 1 1 1 2 3 2 1 2 2 1 2 2 7 1 1 1 1 2 1 2 3 4 3 3 5 1 2 3 1 1 1 2 2 77 3 1 1 1 1 3 1 7 1 1 1 8 1 2 7 1 3 19 2 8 1 1 2 2 1 2 1 1 3 1 4 2 4 1 4 1 1 1 2 60 3 6 1 251 1 1 1 1 1 2 1 5 1 1 2 1 1 2 1 1 2 1 3 2 1 3 2 2 1 2 2 1 1 1 2 1 1 3 3 2 1 1 1 2 1 2 1 3 1 3 2 275 1 7 1 15 2 6 1 101446"/>
<path d="M965.3 449.9A787.2 787.2 0 1 0 1993.8 1197.2" pathLength="2523" stroke-dasharray="0 257 2 1 1 115 1 1 1 50 3 4 4 2 1 1 3 7 1 2 1 2 2 6 2 34 2 5 2 1 3 1 2 1 2 1 1 4 1 5 5 1 1 2 1 6 4 2 4 4 1 3 2 2 2 1 1 1 1 2 3 1 1 37 1 8 1 22 1 5 2 4 1 11 1 1 1 94 1 7 1 11 1 5 1 6 1 24 1 7 1 2 1 10 1 8 1 2 1 3 1 1 3 2 1 1 4 1 1 3 1 2 2 1 2 1 3 1 2 1 1 1 1 4 1 2 1 7 1 10 1 20 1 6 1 1 1 33 1 5 1 5 1 15 1 2 1 58 1 15 1 2 1 5 1 107 1 9 1 43 1 1 2 2 2 1 1 1 1 17 1 2 1 7 1 1 1 1 1 4 1 7 1 4 1 6 1 5 1 1 1 1 2 3 2 20 1 20 1 2 1 35 1 34 1 1 1 1 3 1 1 2 1 1 2 1 1 2 1 28 1 73 2 54 1 59 1 13 1 2 1 3 2 4 2 4 1 1 1 2 2 6 4 9 1 6 1 1 1 54 3 6 3 3 1 1 1 21 1 3 1 1 1 19 1 1 1 3 1 115 2 2 1 2 2 1 1 23 1 101 1 18 1 21 1 1 1 1 2 2 2 1 2 1 2 1 3 1 1 1 2 1 4 1 2 2 1 3 1 4 2 3 1 2 1 1 2 1 2 1 1 1 1 1 3 27 1 1 3 3 1 1 1 7 1 3 1 3 1 1 2 3 1 1 2 3 1 4 1 1 1 3 1 4 1 1 2 9 3 45 1 7 2 4 1 1 1 2 1 3 1 1 3 1 1 1 1 1 1 1 1 1 2 3 1 3 2 1 3 16 1 1 1 5 3 1 6 1 1 1 2 1 1 1 1 1 1 2 1 1 2 4 1 1 1 99999" opacity=".4"/>
<path d="M965.3 449.9A787.2 787.2 0 1 0 1993.8 1197.2" pathLength="2523" stroke-dasharray="0 79 1 112 1 8 2 8 1 17 1 1 1 34 1 3 4 3 3 2 2 23 3 1 1 1 1 1 1 1 2 4 4 47 1 11 1 1 1 1 1 1 1 2 1 4 1 2 1 2 3 1 1 1 1 9 1 1 1 8 1 1 1 36 1 1 3 3 4 16 1 87 2 6 1 10 1 1 1 1 3 1 1 1 1 6 6 63 2 6 1 1 1 4 1 6 2 1 1 7 1 28 1 3 1 8 1 1 1 263 2 6 2 2 3 1 1 1 1 1 3 10 1 4 1 1 1 3 2 4 1 42 1 1 1 1 1 4 3 5 3 1 1 2 3 2 1 1 1 1 2 1 2 1 2 1 7 5 3 3 1 2 1 2 3 2 2 1 3 1 1 1 1 1 4 1 1 1 2 1 2 328 1 3 2 4 3 1 1 4 1 2 3 1 3 1 2 2 2 212 2 1 1 1 2 2 1 5 1 4 2 7 1 227 2 312 3 1 1 1 3 3 1 8 5 1 2 100125" opacity=".7"/>
<path d="M965.3 449.9A787.2 787.2 0 1 0 1993.8 1197.2" pathLength="2523" stroke-dasharray="17 1 60 4 20 3 2 2 3 1 9 1 1 1 8 2 3 2 1 1 2 4 3 1 1 1 3 1 1 1 9 4 2 1 5 1 5 26 1 2 3 1 1 12 2 3 1 1 3 1 1 3 6 32 4 2 2 2 2 7 1 21 2 3 1 2 1 1 1 1 4 1 1 1 1 1 3 3 2 1 1 3 2 2 2 1 2 122 3 1 3 192 1 3 4 8 1 4 1 8 3 3 4 3 3 1 1 3 3 3 3 1 1 1 1 3 1 2 3 3 1 1 1 263 1 3 1 7 1 22 1 2 1 8 2 101440"/>
<path d="M959.9 433.3A804.8 804.8 0 1 0 2011.3 1197.2" pathLength="2523" stroke-dasharray="0 212 1 13 1 1 1 2 1 22 1 120 2 1 2 45 2 13 1 58 1 6 1 5 1 14 1 57 1 2 1 2 2 29 1 9 1 19 1 1 1 126 1 12 1 59 1 62 1 23 1 2 3 17 1 6 1 52 1 86 1 7 1 158 1 2 3 13 1 1 2 3 2 6 1 3 1 2 1 10 1 6 2 3 1 8 1 25 2 38 1 17 1 6 1 34 2 5 4 2 2 2 5 2 1 23 1 18 1 42 1 24 1 4 1 1 1 17 1 8 3 2 1 4 1 2 1 3 3 6 3 2 1 3 1 4 1 2 1 6 2 2 2 5 1 2 1 3 1 3 1 3 1 2 1 3 3 2 2 26 1 13 1 2 3 1 1 1 2 14 5 3 4 7 4 1 1 10 1 1 1 4 1 2 2 2 3 3 1 2 1 1 1 44 2 6 1 4 1 11 1 6 1 18 1 32 2 1 2 1 1 4 1 3 1 34 1 6 1 17 1 6 1 11 1 16 1 4 1 9 1 6 1 26 1 9 1 33 1 7 2 1 1 1 2 2 2 1 2 2 1 4 2 1 1 5 1 2 4 2 1 2 1 1 3 3 1 1 1 1 1 1 1 1 2 18 1 15 2 1 1 3 1 2 1 5 1 10 1 10 1 1 2 9 1 2 1 3 1 3 1 2 1 8 1 3 1 3 1 1 1 3 3 1 1 1 1 15 1 36 1 1 1 2 1 28 3 1 1 4 1 2 1 2 1 1 1 1 3 2 1 1 1 1 1 3 1 2 1 1 1 2 3 1 1 100000" opacity=".4"/>
<path d="M959.9 433.3A804.8 804.8 0 1 0 2011.3 1197.2" pathLength="2523" stroke-dasharray="0 108 2 3 1 1 1 3 2 2 1 1 2 1 1 37 1 2 2 1 3 2 3 4 1 1 1 26 1 1 6 11 2 1 1 2 1 2 3 3 1 1 3 12 1 2 3 2 1 3 1 2 1 4 1 7 1 1 1 1 1 2 1 1 3 1 1 1 1 1 2 1 4 4 1 1 2 1 2 44 1 1 1 9 1 1 2 2 1 1 1 3 2 2 1 1 1 3 1 6 1 7 1 2 1 9 3 8 1 2 3 1 2 4 1 4 1 1 1 2 1 1 1 4 1 1 4 3 2 1 1 1 2 3 4 1 1 31 2 2 1 4 4 2 3 4 1 1 1 1 1 1 2 2 1 34 5 1 3 1 1 1 5 3 1 6 1 1 3 65 1 6 1 3 3 2 1 10 1 2 1 2 2 2 1 6 1 1 1 1 1 3 1 18 4 82 1 13 1 2 1 2 1 2 1 4 1 3 1 2 2 2 2 2 1 2 1 1 1 1 2 3 2 1 1 1 1 119 6 2 4 4 1 1 2 1 1 1 1 1 3 1 1 2 1 4 1 1 2 3 1 1 2 3 1 43 3 1 4 1 3 1 5 1 1 3 4 3 1 1 1 1 2 2 4 1 1 3 6 2 1 1 1 2 5 4 3 9 5 3 1 1 2 1 1 330 1 1 1 4 3 6 1 1 1 1 1 6 1 2 2 425 2 2 1 1 2 4 2 1 1 2 1 1 1 4 1 231 2 155 1 1 2 2 3 100091" opacity=".7"/>
<path d="M959.9 433.3A804.8 804.8 0 1 0 2011.3 1197.2" pathLength="2523" stroke-dasharray="9 1 57 1 31 3 2 27 5 1 2 1 4 1 1 1 4 1 2 1 4 30 2 1 1 3 4 1 3 1 6 75 1 2 1 37 2 2 3 5 1 1 2 2 3 1 4 1 1 1 1 3 2 3 6 74 2 244 1 1 1 1 6 2 1 4 2 1 1 1 1 4 2 3 1 6 1 2 4 6 1 3 1 2 1 1 1 1 1 1 1 6 1 279 1 1 1 5 1 17 1 9 1 4 2 101436"/>
<path d="M954.6 416.6A822.2 822.2 0 1 0 2028.8 1197.1" pathLength="2523" stroke-dasharray="0 227 1 1 1 27 1 65 2 1 4 17 1 1 1 3 1 28 2 1 1 1 1 2 1 1 3 1 1 2 1 1 1 5 4 1 2 2 2 7 4 13 2 78 1 7 1 3 2 1 1 1 3 1 1 3 1 4 1 2 2 2 1 3 1 3 1 6 1 1 2 4 1 6 1 16 1 39 1 1 2 4 1 10 1 47 1 32 1 9 1 13 1 25 1 10 1 29 1 4 1 21 1 1 1 2 2 1 1 4 3 1 1 2 1 3 4 1 1 2 1 2 2 2 2 1 4 1 1 6 1 28 1 2 1 4 1 3 1 24 1 15 1 9 1 11 1 18 1 2 1 8 1 17 1 13 1 2 1 10 1 5 1 4 1 7 1 4 1 1 1 96 1 17 1 4 1 4 1 4 1 7 2 4 3 1 1 1 1 1 1 3 2 4 2 2 1 1 1 1 1 9 1 10 1 132 1 1 3 5 1 1 1 4 1 1 1 1 1 3 3 2 1 3 1 3 1 13 1 22 1 7 1 24 1 15 1 6 1 2 2 2 1 4 1 4 1 4 1 3 4 1 1 2 1 1 2 1 1 1 3 4 3 3 1 14 1 27 2 1 2 3 1 3 1 89 1 1 1 2 2 12 1 1 2 4 3 1 1 2 1 1 3 2 1 8 1 8 1 10 1 6 2 1 2 1 1 9 1 89 1 5 1 4 1 3 2 3 2 2 2 22 2 1 1 11 1 17 1 16 1 4 1 23 1 35 1 15 1 38 1 122 1 71 1 46 1 15 2 2 2 2 1 1 1 1 8 5 2 1 1 2 3 2 2 2 2 4 1 1 4 1 1 2 1 8 4 2 1 1 1 1 3 1 1 2 1 100001" opacity=".4"/>
<path d="M954.6 416.6A822.2 822.2 0 1 0 2028.8 1197.1" pathLength="2523" stroke-dasharray="0 104 1 3 2 1 3 2 3 2 1 1 1 2 3 1 1 28 1 1 1 1 1 2 1 3 1 1 1 1 3 1 1 43 2 1 1 39 4 1 3 3 1 2 1 2 1 1 1 7 1 9 2 5 3 2 1 1 3 12 4 2 1 1 1 1 5 9 4 1 2 1 2 2 3 5 2 1 1 1 2 75 4 1 1 4 7 3 4 4 1 1 4 2 1 1 1 1 4 13 1 12 1 1 1 138 1 2 1 1 1 1 2 1 2 2 1 1 2 6 2 2 2 1 3 2 2 3 1 9 1 1 3 3 2 1 1 1 1 3 1 114 1 274 7 1 1 8 3 3 2 2 2 1 3 1 1 4 1 4 1 4 1 1 1 1 1 1 1 1 1 2 3 1 4 15 2 152 4 1 1 1 1 1 1 1 1 1 1 8 1 3 1 7 2 2 1 1 2 5 1 6 1 1 3 313 1 1 2 7 2 2 1 2 1 2 1 3 1 3 2 1 1 1 2 3 1 430 1 10 1 2 2 2 1 6 2 1 1 1 1 2 1 1 1 4 2 1 1 6 1 1 1 10 2 100252" opacity=".7"/>
<path d="M954.6 416.6A822.2 822.2 0 1 0 2028.8 1197.1" pathLength="2523" stroke-dasharray="60 1 9 1 33 27 3 4 3 2 2 2 4 2 1 1 1 2 1 21 1 1 1 9 1 3 1 2 1 1 10 2 1 1 5 12 1 5 1 2 1 1 1 1 4 1 2 35 3 1 1 113 2 24 1 1 1 1 2 3 1 4 2 102075"/>
<path d="M949.2 400A839.8 839.8 0 1 0 2046.3 1197.1" pathLength="2523" stroke-dasharray="0 254 1 6 2 68 2 2 2 50 2 4 1 8 1 1 1 2 1 2 1 2 1 1 1 3 1 4 1 1 3 120 1 7 1 5 1 3 4 1 2 1 1 2 2 1 4 12 1 5 1 3 1 1 1 10 1 25 1 4 1 1 3 9 1 48 1 30 1 3 1 33 1 22 1 6 1 1 1 18 1 3 1 19 1 57 1 14 1 8 1 11 1 24 1 27 1 12 1 26 1 9 3 2 1 2 2 4 2 2 1 5 1 2 1 12 1 3 1 15 1 8 1 72 1 6 1 10 1 108 1 11 1 10 2 99 1 3 1 2 2 2 2 1 1 1 2 1 1 1 1 2 1 1 2 3 1 1 1 2 1 21 1 11 1 11 1 1 2 1 1 10 1 25 1 1 1 8 1 6 3 4 1 1 1 1 3 1 2 1 1 1 1 8 1 5 1 8 1 39 3 8 2 2 1 46 1 1 1 5 1 2 2 3 3 1 1 3 1 5 2 3 2 1 2 17 1 21 2 6 1 16 1 40 1 2 1 79 1 10 2 3 1 1 1 6 1 5 1 21 2 16 2 25 2 10 1 62 1 112 1 1 1 2 1 1 3 3 1 1 1 1 1 3 1 25 1 1 1 4 1 1 2 9 2 1 1 1 2 4 2 1 1 4 1 4 1 7 2 2 1 1 1 2 1 3 1 1 1 3 1 24 1 62 1 9 1 6 1 13 1 15 1 10 1 6 1 100000" opacity=".4"/>
<path d="M949.2 400A839.8 839.8 0 1 0 2046.3 1197.1" pathLength="2523" stroke-dasharray="0 122 1 2 1 2 2 4 1 4 2 4 3 1 1 11 1 3 2 1 1 2 3 5 3 5 1 1 5 7 2 1 2 1 1 5 2 1 2 1 4 1 1 6 3 1 6 2 1 3 1 1 2 2 1 9 2 1 5 1 2 2 5 3 8 9 1 1 1 1 1 1 2 4 3 1 1 1 1 18 2 4 3 2 1 2 1 1 1 2 1 1 2 1 3 1 2 1 1 9 1 1 1 23 1 25 1 1 3 10 3 1 5 1 4 1 1 1 2 4 2 1 2 1 5 1 2 1 2 1 2 2 1 1 1 1 1 1 2 1 1 1 2 3 1 2 4 5 1 1 2 1 1 142 4 3 2 1 2 4 1 5 5 1 5 1 2 1 4 1 1 1 1 8 1 1 3 2 2 3 2 1 3 126 2 2 1 2 1 5 1 12 2 4 2 5 2 1 1 1 1 219 1 3 2 2 2 1 4 5 4 1 1 1 1 1 1 1 3 1 1 1 1 1 2 1 1 3 4 1 1 1 1 2 1 1 2 5 2 14 1 1 1 151 1 7 2 3 1 1 1 3 1 11 2 1 1 2 1 3 1 2 1 1 2 1 1 2 6 2 2 464 1 1 1 1 1 6 1 3 1 9 1 2 2 1 2 1 1 2 2 1 3 1 1 1 2 4 1 1 1 4 1 4 1 1 1 1 1 1 1 167 1 4 1 17 1 2 1 3 5 1 1 38 2 2 1 1 1 1 1 2 1 2 4 3 1 1 1 2 1 3 1 2 2 3 2 2 2 134 1 100141" opacity=".7"/>
<path d="M949.2 400A839.8 839.8 0 1 0 2046.3 1197.1" pathLength="2523" stroke-dasharray="11 1 4 1 94 1 1 1 3 1 1 1 1 74 1 1 2 1 1 7 2 86 1 1 3 9 1 1 1 7 4 3 2 1 1 40 1 1 2 63 1 1 1 102081"/>
<path d="M943.8 383.3A857.2 857.2 0 1 0 2063.8 1197.1" pathLength="2523" stroke-dasharray="0 212 1 91 2 2 1 3 4 1 1 3 1 1 1 1 1 1 1 56 1 20 1 4 2 2 2 1 3 1 1 71 1 2 2 82 1 2 1 6 1 3 1 5 1 2 3 2 1 15 1 20 2 2 1 1 1 2 1 18 2 9 1 8 1 7 1 44 1 27 1 20 1 11 1 3 1 4 1 8 1 28 1 66 1 10 1 7 1 6 1 4 1 6 1 7 2 2 1 2 1 2 1 5 2 4 1 1 1 8 1 20 2 2 1 1 1 17 1 23 2 40 1 4 1 106 1 6 1 8 2 3 3 2 1 2 2 136 1 1 1 3 1 7 1 14 1 26 1 48 1 3 1 8 1 1 1 4 1 41 2 1 1 2 1 2 1 2 2 1 1 1 1 1 1 3 1 7 2 1 1 1 3 4 1 6 1 1 2 1 1 18 1 2 1 38 2 2 1 1 1 2 1 1 1 4 1 12 1 27 1 4 1 1 1 1 1 1 1 2 1 7 1 3 1 1 2 5 2 1 1 3 1 34 1 17 1 23 1 20 1 94 1 3 1 2 3 46 1 7 1 3 1 40 1 1 1 1 1 18 1 13 1 8 1 82 1 1 2 5 3 3 1 4 1 3 2 3 3 1 2 1 2 1 1 2 1 12 2 2 2 19 1 5 1 5 1 2 1 1 5 1 1 1 1 3 1 21 1 2 2 1 1 4 1 2 2 1 1 1 1 5 1 1 2 13 1 7 1 2 1 4 1 3 1 16 1 23 1 13 1 18 1 24 2 2 1 2 1 6 2 7 1 100003" opacity=".4"/>
<path d="M943.8 383.3A857.2 857.2 0 1 0 2063.8 1197.1" pathLength="2523" stroke-dasharray="0 126 2 2 1 1 1 2 1 4 1 2 1 2 1 3 1 2 4 6 4 1 1 2 1 4 1 1 1 4 1 1 1 2 2 1 1 1 2 18 1 28 2 2 1 14 1 1 1 1 1 1 4 1 3 1 1 2 5 1 1 1 5 11 1 27 1 1 2 1 2 26 1 1 1 4 2 20 4 1 2 2 3 17 1 1 1 1 2 1 1 3 3 1 1 1 2 5 2 1 3 2 1 1 1 2 1 1 3 2 1 6 1 1 1 4 1 1 1 1 2 13 1 2 1 1 1 2 1 1 2 2 1 2 1 3 2 3 1 1 2 1 2 3 4 1 2 1 1 1 1 1 1 13 1 3 3 1 1 7 2 137 1 1 3 1 3 2 1 1 1 1 2 3 2 126 1 1 1 2 4 2 4 4 3 1 1 2 1 2 1 1 1 2 2 1 2 1 3 1 1 154 2 11 2 1 5 2 2 4 1 33 4 2 2 2 1 4 3 2 3 2 1 3 2 3 3 1 1 6 2 3 1 2 4 5 2 19 1 153 1 3 1 9 3 2 1 3 1 76 1 7 1 1 2 5 1 407 2 2 1 2 1 5 1 1 3 2 1 1 2 5 1 7 1 2 1 1 1 1 1 1 1 2 1 1 1 3 5 4 2 28 1 12 1 11 1 257 2 136 1 2 1 100115" opacity=".7"/>
<path d="M943.8 383.3A857.2 857.2 0 1 0 2063.8 1197.1" pathLength="2523" stroke-dasharray="15 1 5 1 59 2 3 1 6 3 1 1 20 1 2 36 2 21 2 13 1 3 2 2 1 2 1 2 2 8 3 3 1 1 7 1 1 2 2 11 1 1 3 41 2 1 2 37 1 1 1 1 1 2 3 6 6 1 2 124 1 1 1 1 1 102029"/>
</g>
<g id="rsep" stroke="#fff" stroke-width="1.3" opacity=".85">
<path d="M1207.4 910.8A288.5 288.5 0 1 0 1495.1 1198.5"/>
<path d="M1207.4 893.3A306 306 0 1 0 1512.6 1198.5"/>
<path d="M1207.4 875.8A323.5 323.5 0 1 0 1530.1 1198.5"/>
<path d="M1207.5 858.3A341 341 0 1 0 1547.6 1198.4"/>
<path d="M1207.5 840.8A358.5 358.5 0 1 0 1565.1 1198.4"/>
<path d="M1207.6 823.3A376 376 0 1 0 1582.6 1198.3"/>
<path d="M1207.6 805.8A393.5 393.5 0 1 0 1600.1 1198.3"/>
<path d="M1207.7 788.3A411 411 0 1 0 1617.6 1198.2"/>
<path d="M1207.7 770.8A428.5 428.5 0 1 0 1635.1 1198.2"/>
<path d="M1207.8 753.3A446 446 0 1 0 1652.6 1198.1"/>
<path d="M1207.8 735.8A463.5 463.5 0 1 0 1670.1 1198.1"/>
<path d="M1207.9 718.3A481 481 0 1 0 1687.6 1198"/>
<path d="M1207.9 700.8A498.5 498.5 0 1 0 1705.1 1198"/>
<path d="M1208 683.3A516 516 0 1 0 1722.6 1197.9"/>
<path d="M1208 665.8A533.5 533.5 0 1 0 1740.1 1197.9"/>
<path d="M1208 648.3A551 551 0 1 0 1757.6 1197.9"/>
<path d="M1208.1 630.8A568.5 568.5 0 1 0 1775.1 1197.8"/>
<path d="M1208.1 613.3A586 586 0 1 0 1792.6 1197.8"/>
<path d="M1208.2 595.8A603.5 603.5 0 1 0 1810.1 1197.7"/>
<path d="M1208.2 578.3A621 621 0 1 0 1827.6 1197.7"/>
<path d="M1208.3 560.8A638.5 638.5 0 1 0 1845.1 1197.6"/>
<path d="M1208.3 543.3A656 656 0 1 0 1862.6 1197.6"/>
<path d="M1208.4 525.8A673.5 673.5 0 1 0 1880.1 1197.5"/>
<path d="M1208.4 508.3A691 691 0 1 0 1897.6 1197.5"/>
<path d="M1208.5 490.8A708.5 708.5 0 1 0 1915.1 1197.4"/>
<path d="M1208.5 473.3A726 726 0 1 0 1932.6 1197.4"/>
<path d="M1208.5 455.8A743.5 743.5 0 1 0 1950.1 1197.4"/>
<path d="M1208.6 438.3A761 761 0 1 0 1967.6 1197.3"/>
<path d="M1208.6 420.8A778.5 778.5 0 1 0 1985.1 1197.3"/>
<path d="M1208.7 403.3A796 796 0 1 0 2002.6 1197.2"/>
<path d="M1208.7 385.8A813.5 813.5 0 1 0 2020.1 1197.2"/>
<path d="M1208.8 368.3A831 831 0 1 0 2037.6 1197.1"/>
<path d="M1208.8 350.8A848.5 848.5 0 1 0 2055.1 1197.1"/>
</g>
</g>
<g id="core" fill="none">
<path d="M1207.4 900.8A298.6 298.6 0 0 0 1115.7 914.9" stroke="#ceb1e6" stroke-width="50.5"/>
<path d="M1207.5 849.6A349.8 349.8 0 0 0 1100.1 866.2" stroke="#22cc22" stroke-width="53.1"/>
<path d="M1207.8 744.6A454.8 454.8 0 0 0 1068.1 766.1" stroke="#f20a29" stroke-width="158.1"/>
<path d="M1208.1 639.6A559.8 559.8 0 0 0 1036.1 666.1" stroke="#f6f00c" stroke-width="53.1"/>
<path d="M1208.5 473.3A726 726 0 0 0 985.5 507.8" stroke="#7b99c8" stroke-width="280.6"/>
<g stroke="#fff" stroke-width="1.5" opacity=".85" stroke-dasharray="10 6">
<path d="M1207.4 910.8A288.5 288.5 0 0 0 1119.1 924.4"/>
<path d="M1207.4 893.3A306 306 0 0 0 1113.8 907.7"/>
<path d="M1207.5 858.3A341 341 0 0 0 1103.2 874.4"/>
<path d="M1207.5 840.8A358.5 358.5 0 0 0 1097.9 857.7"/>
<path d="M1207.6 805.8A393.5 393.5 0 0 0 1087.3 824.3"/>
<path d="M1207.7 788.3A411 411 0 0 0 1082 807.6"/>
<path d="M1207.7 770.8A428.5 428.5 0 0 0 1076.7 791"/>
<path d="M1207.8 753.3A446 446 0 0 0 1071.4 774.3"/>
<path d="M1207.8 735.8A463.5 463.5 0 0 0 1066.1 757.6"/>
<path d="M1207.9 718.3A481 481 0 0 0 1060.8 740.9"/>
<path d="M1207.9 700.8A498.5 498.5 0 0 0 1055.5 724.3"/>
<path d="M1208 683.3A516 516 0 0 0 1050.1 707.6"/>
<path d="M1208 648.3A551 551 0 0 0 1039.5 674.2"/>
<path d="M1208.1 630.8A568.5 568.5 0 0 0 1034.2 657.6"/>
<path d="M1208.2 595.8A603.5 603.5 0 0 0 1023.6 624.2"/>
<path d="M1208.2 578.3A621 621 0 0 0 1018.3 607.5"/>
<path d="M1208.3 560.8A638.5 638.5 0 0 0 1013 590.9"/>
<path d="M1208.3 543.3A656 656 0 0 0 1007.7 574.2"/>
<path d="M1208.4 525.8A673.5 673.5 0 0 0 1002.4 557.5"/>
<path d="M1208.4 508.3A691 691 0 0 0 997.1 540.8"/>
<path d="M1208.5 490.8A708.5 708.5 0 0 0 991.8 524.2"/>
<path d="M1208.5 473.3A726 726 0 0 0 986.5 507.5"/>
<path d="M1208.5 455.8A743.5 743.5 0 0 0 981.2 490.8"/>
<path d="M1208.6 438.3A761 761 0 0 0 975.9 474.1"/>
<path d="M1208.6 420.8A778.5 778.5 0 0 0 970.6 457.4"/>
<path d="M1208.7 403.3A796 796 0 0 0 965.3 440.8"/>
<path d="M1208.7 385.8A813.5 813.5 0 0 0 959.9 424.1"/>
<path d="M1208.8 368.3A831 831 0 0 0 954.6 407.4"/>
<path d="M1208.8 350.8A848.5 848.5 0 0 0 949.3 390.7"/>
</g>
<path d="M1207.3 927.7A271.6 271.6 0 0 0 1123.3 940.7" stroke="#fff" stroke-width="3.3"/>
</g>
<g fill="none">
<path d="M1121.7 943.4A269.6 269.6 0 0 0 957.8 1095.5" stroke="#b8593c" stroke-width="1.6" stroke-dasharray="2 1.4"/>
<path d="M1041.7 1412.6A269.6 269.6 0 0 0 1476.2 1198.6" stroke="#3c88f2" stroke-width="1.7" stroke-dasharray="7 3 4 2 10 3 2 2"/>
</g>
<g id="outer" fill="none">
<g filter="url(#bl2)">
<path d="M1208.9 303.2A896.1 896.1 0 1 0 2102.7 1197" stroke="#f7faf6" stroke-width="59.7"/>
<path d="M1208.9 321.6A877.8 877.8 0 0 0 937.5 363.8" stroke="#0fab0f" stroke-width="17.9"/>
<path d="M1206.6 292.5A906.8 906.8 0 0 0 927.9 336.4" pathLength="179" stroke="#b9eab9" stroke-width="38.5" stroke-dasharray="1 2 2 4 2 4 1 1 2 3 2 1 1 1 1 1 1 1 1 2 2 1 2 1 1 1 1 2 1 1 2 4 1 2 1 1 1 2 1 2 2 2 1 1 1 1 1 1 1 1 1 1 2 2 1 1 2 1 2 1 2 3 1 2 1 1 1 1 1 2 1 2 2 4 1 1 1 2 1 2 2 3 1 2 1 1 1 2 1 2 1 1 1 1 1 1 1 2 1 1 2 3 1 1 1 2 1 1 1 2 1 1 2 1 2 4 1 2 1 99999"/>
<path d="M1206.6 305.5A893.8 893.8 0 0 0 931.9 348.8" pathLength="179" stroke="#45c245" stroke-width="12.5" stroke-dasharray="1 1 1 2 1 1 1 3 1 2 1 3 2 3 2 3 1 3 1 3 1 3 1 3 1 3 2 4 1 2 2 6 1 3 1 2 1 1 1 3 2 5 2 7 1 2 1 2 2 5 1 4 1 3 1 3 1 1 1 3 1 1 2 6 2 4 1 3 1 3 1 2 1 3 2 5 2 3 2 4 1 2 1 99999"/>
<path d="M1206.6 292.8A906.5 906.5 0 0 0 928 336.7" pathLength="179" stroke="#45c245" stroke-width="13" stroke-dasharray="2 5 2 4 1 2 1 1 1 2 1 3 1 2 2 5 1 2 1 2 1 1 1 2 2 3 1 2 1 1 1 3 2 2 1 3 1 2 1 2 2 2 2 3 1 1 1 3 1 3 1 2 1 2 1 2 1 2 2 2 2 2 1 2 1 1 1 2 1 3 1 2 1 1 1 1 1 1 2 3 2 3 1 1 2 2 2 5 2 2 2 4 1 2 1 3 2 100002"/>
<path d="M1206.6 279.8A919.5 919.5 0 0 0 924 324.3" pathLength="179" stroke="#3fbf3f" stroke-width="13" stroke-dasharray="2 1 3 2 4 2 4 2 2 1 1 1 2 1 2 1 1 2 3 2 3 2 2 1 1 1 1 1 1 1 4 2 2 1 1 1 5 2 2 1 1 1 2 1 2 2 4 2 1 1 1 1 3 2 2 2 1 1 4 2 3 2 1 1 2 1 2 1 2 2 1 1 2 1 2 1 1 1 1 1 1 1 2 1 2 1 1 1 1 1 2 1 1 1 2 1 2 1 1 1 1 1 3 2 3 2 2 100000"/>
<path d="M939.9 368.5A872.6 872.6 0 0 0 398.1 871" pathLength="501" stroke="#10ad10" stroke-width="8.8" stroke-dasharray="5 2 10 1 8 2 10 2 11 2 11 2 7 1 4 1 23 2 10 1 6 1 5 1 10 1 8 1 10 1 18 2 20 2 22 2 5 1 13 2 4 1 6 2 14 2 13 2 7 1 8 1 7 1 10 1 9 1 3 1 11 1 4 1 9 1 7 2 4 1 10 1 8 1 9 1 8 1 15 2 5 1 11 1 3 1 19 2 18 2 1 99999"/>
<path d="M937 359.6A881.9 881.9 0 0 0 389.5 867.5" pathLength="501" stroke="#10ad10" stroke-width="8.8" stroke-dasharray="0 1 5 1 13 2 5 1 3 1 9 1 7 1 6 1 7 1 16 2 11 2 6 1 8 1 5 1 7 1 7 1 8 1 17 2 3 1 10 2 3 1 7 1 9 2 15 2 5 1 6 2 5 2 12 2 16 2 8 1 5 1 10 2 5 1 8 1 3 1 6 1 3 1 3 1 4 1 13 2 4 1 7 1 5 1 3 1 16 2 12 2 6 2 5 2 6 1 7 1 12 2 3 1 2 1 4 1 4 1 3 1 9 1 7 1 6 1 4 99999"/>
<path d="M931 341A901.5 901.5 0 0 0 371.3 860.1" pathLength="501" stroke="#b9eab9" stroke-width="29" stroke-dasharray="0 3 2 6 1 3 1 4 1 5 1 3 1 2 1 5 2 8 1 3 2 6 2 6 1 4 1 1 1 4 1 5 2 11 1 5 1 3 1 5 1 3 2 3 2 8 1 3 1 5 1 4 1 2 1 4 1 2 1 2 1 3 1 5 1 5 2 8 2 5 2 6 1 3 2 4 2 10 1 5 1 5 1 5 1 5 1 5 2 7 1 2 1 5 1 3 1 4 1 4 1 4 1 3 1 2 1 2 2 11 2 10 1 5 2 5 1 4 1 4 1 3 1 2 2 4 1 5 1 4 2 8 1 2 2 10 2 5 1 5 1 5 2 10 1 4 2 8 1 5 2 7 1 3 2 11 2 9 1 2 1 2 1 100003"/>
<path d="M934 350.2A891.8 891.8 0 0 0 380.4 863.8" pathLength="501" stroke="#55c855" stroke-width="9.5" stroke-dasharray="0 14 2 12 1 9 2 17 1 12 2 26 1 17 2 18 1 15 1 13 1 16 1 17 1 8 1 10 1 14 2 28 2 16 1 18 2 32 1 5 1 14 1 16 1 11 1 6 1 12 1 9 1 17 1 10 1 13 1 9 1 7 1 14 1 100006"/>
<path d="M931 341A901.5 901.5 0 0 0 371.3 860.1" pathLength="501" stroke="#55c855" stroke-width="10" stroke-dasharray="0 24 2 21 1 19 2 36 1 19 1 17 1 17 1 9 2 13 2 20 1 12 2 33 1 20 2 20 2 14 1 20 1 19 2 27 2 31 2 31 1 20 1 20 2 100005"/>
<path d="M928 331.7A911.2 911.2 0 0 0 362.3 856.5" pathLength="501" stroke="#55c855" stroke-width="9.5" stroke-dasharray="0 8 2 6 1 6 1 7 1 7 1 11 1 8 1 9 2 18 2 7 1 10 1 4 1 11 2 7 2 23 1 8 2 16 2 20 1 5 1 6 1 7 1 8 1 5 2 9 1 11 2 17 2 13 1 9 1 10 1 11 1 9 1 12 1 5 1 3 1 4 1 10 1 9 1 4 1 3 2 19 2 16 2 12 1 4 1 5 2 12 2 10 2 100004"/>
<path d="M925.3 323.1A920.2 920.2 0 0 0 354 853.1" pathLength="501" stroke="#4cc44c" stroke-width="8.5" stroke-dasharray="1 1 3 1 6 2 6 2 7 2 3 1 3 1 3 2 2 2 2 1 2 1 6 2 7 2 3 1 2 1 3 1 3 1 3 1 3 1 3 1 3 2 2 1 3 2 7 2 3 2 2 1 3 2 2 1 2 1 1 1 1 1 1 1 5 2 1 1 3 1 3 1 4 2 3 1 3 1 7 2 5 2 3 1 2 1 2 1 2 1 2 2 3 1 4 1 7 2 2 1 6 2 2 1 3 1 3 2 3 1 3 1 4 1 1 1 7 2 3 1 2 1 2 1 2 1 2 1 6 2 3 1 3 2 3 1 2 1 2 1 4 2 2 1 2 1 2 1 2 1 7 2 2 1 3 2 2 1 2 1 3 1 2 1 4 1 2 1 2 1 2 1 2 1 6 2 3 2 1 1 1 1 7 2 3 1 3 2 2 1 6 2 2 1 1 1 7 2 5 2 7 2 4 2 4 1 4 2 2 1 4 2 2 1 3 1 2 1 3 2 2 99999"/>
<path d="M398.7 869.6A872.6 872.6 0 0 0 667 1885" pathLength="740" stroke="#14b014" stroke-width="8.8" stroke-dasharray="2 1 6 1 15 2 9 1 6 1 8 1 2 1 4 1 5 2 8 1 16 2 8 1 15 2 18 2 3 1 7 2 5 1 3 1 5 2 5 1 4 1 2 1 4 1 2 1 9 1 7 1 5 1 5 1 7 2 3 1 3 1 10 2 8 2 9 1 6 1 6 1 9 1 15 2 4 1 8 1 13 2 5 2 5 1 17 2 2 1 10 2 13 2 4 1 3 1 3 1 9 1 3 1 6 2 5 1 8 1 4 1 16 2 2 1 7 1 5 1 9 1 17 2 3 1 9 1 8 1 12 2 8 1 7 1 16 2 3 1 7 1 5 1 7 1 5 1 3 1 3 1 6 1 5 1 7 1 4 1 5 1 7 1 4 1 8 1 4 1 3 1 6 1 5 2 7 1 17 2 1 99999"/>
<path d="M390.1 866.1A881.9 881.9 0 0 0 661.2 1892.3" pathLength="740" stroke="#14b014" stroke-width="8.8" stroke-dasharray="0 1 2 1 3 1 5 1 4 1 5 1 6 1 9 2 3 1 4 2 5 1 4 1 4 1 3 1 3 1 2 1 2 1 3 1 2 1 9 2 4 1 6 1 3 2 5 2 9 2 3 1 7 2 5 1 5 1 6 1 5 1 2 1 4 1 5 1 2 1 12 2 5 1 2 1 3 1 3 1 3 1 3 1 4 1 2 1 2 1 4 1 3 1 6 1 5 1 3 1 11 2 3 1 2 1 3 1 12 2 5 1 5 1 8 2 3 1 8 2 5 2 4 2 2 1 4 2 7 2 2 1 4 1 11 2 5 1 8 2 4 1 6 1 6 1 4 1 2 1 3 1 3 1 3 2 5 1 8 2 3 1 10 2 13 2 3 1 2 1 6 1 7 2 4 2 5 2 13 2 2 1 4 1 4 1 6 1 5 1 6 2 6 2 6 1 13 2 6 1 2 1 6 1 2 1 4 1 3 2 2 1 2 1 12 2 6 1 7 2 6 1 5 1 11 2 9 2 6 1 9 2 6 1 1 99999"/>
<path d="M371.9 858.7A901.5 901.5 0 0 0 649.1 1907.7" pathLength="740" stroke="#c4eec4" stroke-width="29" stroke-dasharray="0 1 2 15 1 9 1 3 1 7 1 9 1 8 1 4 1 5 1 2 1 5 2 15 1 3 1 4 2 9 1 4 1 3 1 6 2 17 1 9 2 12 1 3 1 3 1 9 2 14 1 3 1 9 1 2 2 15 1 5 1 9 1 7 1 3 1 4 1 6 1 5 1 6 1 7 1 4 2 13 1 6 1 9 1 8 1 5 2 6 2 8 1 6 1 3 1 5 2 8 1 5 1 6 1 3 2 5 1 3 1 8 1 4 1 3 2 8 1 2 2 11 1 5 1 4 1 6 1 9 1 5 1 8 2 18 1 4 2 9 2 14 1 5 2 6 1 3 1 3 1 4 2 13 1 9 2 5 2 17 1 6 2 15 1 7 1 4 1 9 1 6 2 14 1 4 2 12 1 100003"/>
<path d="M381 862.4A891.8 891.8 0 0 0 655.1 1900.1" pathLength="740" stroke="#66cd66" stroke-width="9.5" stroke-dasharray="0 3 1 11 1 10 1 23 2 45 1 10 2 33 2 21 2 25 1 29 1 12 1 9 1 30 1 19 1 27 1 24 1 16 2 32 1 28 1 26 2 28 1 8 2 33 1 10 1 13 1 25 1 22 1 29 1 14 2 41 1 9 2 27 2 100005"/>
<path d="M371.9 858.7A901.5 901.5 0 0 0 649.1 1907.7" pathLength="740" stroke="#66cd66" stroke-width="10" stroke-dasharray="0 26 1 29 2 54 2 57 1 26 1 24 1 22 2 35 1 10 2 23 2 55 1 11 1 19 1 19 1 17 1 10 1 22 1 15 1 10 1 16 1 18 1 26 1 28 1 15 2 18 1 26 1 30 1 11 1 10 1 10 2 100010"/>
<path d="M362.9 855A911.2 911.2 0 0 0 643.1 1915.4" pathLength="740" stroke="#66cd66" stroke-width="9.5" stroke-dasharray="0 23 1 11 1 21 1 7 1 10 2 40 1 24 1 19 2 46 1 19 1 21 1 10 1 19 2 27 2 26 1 20 1 12 2 27 2 13 1 12 1 14 1 20 1 13 1 17 1 16 1 19 1 25 1 24 1 11 1 16 1 10 1 7 2 14 2 23 1 17 1 25 1 9 2 100006"/>
<path d="M354.6 851.6A920.2 920.2 0 0 0 637.5 1922.5" pathLength="740" stroke="#5ccb5c" stroke-width="8.5" stroke-dasharray="1 2 1 1 1 1 1 1 1 1 1 2 1 1 1 1 1 1 1 1 1 1 1 1 1 1 3 2 1 1 1 1 1 1 1 1 1 1 1 1 1 1 3 2 1 1 2 2 1 1 1 1 1 1 2 2 1 1 2 1 2 2 2 2 1 2 1 1 1 1 2 1 1 1 1 1 2 1 1 1 1 1 1 1 2 1 1 1 1 1 1 2 1 1 3 2 1 1 1 1 2 2 3 2 1 2 1 1 1 2 1 1 1 1 3 2 1 1 1 1 2 1 2 2 2 1 1 1 1 1 1 1 1 1 3 2 1 1 1 1 3 2 3 2 1 2 3 2 3 2 1 1 1 1 1 1 1 1 1 1 1 2 1 1 1 1 2 1 3 2 1 1 1 1 1 1 1 1 2 2 1 1 2 2 2 1 2 2 1 1 1 1 1 1 2 1 1 1 2 2 1 1 1 1 1 1 3 2 1 2 1 1 1 1 2 2 2 2 1 1 1 2 3 2 1 1 2 1 1 1 1 1 1 1 1 1 1 1 3 2 2 1 2 2 2 2 1 1 1 1 1 2 2 2 1 1 1 1 1 1 1 1 2 2 1 1 1 1 2 2 1 1 1 1 1 1 1 1 1 1 2 1 2 1 1 1 1 1 1 1 1 1 1 1 1 1 1 1 3 2 2 1 1 2 1 1 1 1 1 1 1 1 1 1 1 1 1 1 1 1 1 1 1 1 3 2 1 1 1 1 1 1 1 1 1 1 3 2 1 2 1 1 1 1 1 1 1 1 1 2 1 1 1 1 1 1 1 1 1 2 1 2 1 1 1 1 1 1 1 1 3 2 1 1 1 1 1 1 1 1 2 2 1 2 1 1 1 1 1 2 2 2 1 1 1 1 2 2 2 2 2 2 1 1 1 1 1 1 2 2 2 2 1 1 1 1 2 1 1 2 1 1 1 1 1 1 1 1 1 1 1 1 1 1 2 1 1 1 1 1 1 1 1 1 2 2 1 1 1 1 3 2 3 2 1 1 1 1 1 1 1 1 1 1 1 1 1 1 2 1 1 1 1 1 3 2 1 1 1 1 2 2 1 1 1 1 2 1 1 1 1 1 1 1 1 1 1 1 1 1 2 2 1 2 1 1 1 2 2 2 1 2 1 2 1 1 1 1 3 2 1 1 1 1 1 1 1 1 1 2 1 1 1 1 1 1 1 1 1 1 1 1 1 1 2 2 1 1 1 1 2 1 1 1 1 1 1 1 1 1 1 1 2 2 1 1 1 2 1 100000"/>
<path d="M667 1885A872.6 872.6 0 0 0 2079.2 1196.3" pathLength="1284" stroke="#27b827" stroke-width="8.8" stroke-dasharray="0 1 3 1 2 1 2 1 6 2 3 1 4 2 6 2 5 2 2 1 3 1 2 1 4 1 3 1 6 2 4 1 4 2 1 1 8 2 3 1 3 1 2 1 8 2 5 2 3 1 2 1 1 1 3 1 3 1 7 2 7 2 4 2 5 2 4 1 3 1 3 1 3 1 2 2 2 1 3 1 1 1 4 1 4 1 4 1 3 2 2 1 2 1 2 1 2 1 4 1 1 1 2 1 2 1 3 1 2 1 5 2 4 2 1 1 4 1 2 1 4 1 6 2 3 2 2 1 7 2 3 1 7 2 6 2 2 1 2 1 1 1 3 1 3 2 3 1 2 1 2 1 2 2 3 1 2 1 8 2 7 2 3 2 4 1 3 2 5 2 3 1 3 1 3 1 3 1 7 2 2 1 3 1 2 1 2 1 2 1 2 1 5 2 2 1 2 1 2 1 4 1 3 1 6 2 2 1 2 1 2 1 1 1 2 1 3 1 3 1 2 1 2 2 3 1 4 2 2 1 4 1 5 2 3 2 3 2 3 2 3 1 1 1 4 1 3 1 3 1 2 1 7 2 4 1 4 1 4 1 2 1 8 2 4 1 3 1 2 1 5 2 2 1 4 2 3 2 4 2 2 1 1 1 3 1 2 1 4 1 2 1 4 2 5 2 3 1 1 1 3 1 3 2 4 2 2 1 2 1 2 1 2 1 1 1 3 1 1 1 2 1 3 1 3 1 8 2 1 1 2 1 4 1 4 2 3 1 7 2 5 2 4 1 8 2 6 2 7 2 5 2 3 1 8 2 1 1 2 1 2 1 1 1 2 1 2 1 4 1 2 1 4 2 5 2 3 2 2 1 5 2 3 2 4 2 1 1 4 1 5 2 3 1 4 1 2 1 4 1 4 1 3 2 3 1 3 1 2 1 1 1 4 1 4 2 1 1 6 2 2 1 2 1 6 2 7 2 4 1 3 1 4 1 2 1 4 1 2 1 1 1 4 2 2 1 3 1 2 2 3 1 2 1 4 1 3 2 2 1 4 1 1 1 1 1 3 2 3 1 3 1 4 2 4 2 4 1 4 2 4 2 3 1 2 1 3 2 7 2 2 1 4 1 3 1 1 1 1 1 6 2 4 2 6 2 3 1 3 2 6 2 1 1 3 2 4 2 4 1 5 2 2 1 3 1 1 1 1 1 8 2 6 2 2 1 3 1 3 1 4 1 1 1 3 1 3 1 3 1 3 1 2 1 3 1 2 1 1 99999"/>
<path d="M661.2 1892.3A881.9 881.9 0 0 0 2088.5 1196.2" pathLength="1284" stroke="#27b827" stroke-width="8.8" stroke-dasharray="1 1 2 2 2 1 3 1 2 1 2 1 2 1 1 1 2 2 4 2 2 1 1 1 5 2 2 1 2 1 2 1 1 1 3 1 1 1 2 1 2 1 3 2 6 2 3 2 1 1 1 1 3 1 2 1 3 1 2 2 2 1 2 1 3 2 3 2 2 1 2 1 1 1 1 1 2 1 1 1 3 1 6 2 6 2 2 1 2 1 2 2 5 2 1 1 2 1 3 1 1 1 3 1 3 2 3 2 3 1 1 1 3 1 5 2 3 1 6 2 5 2 1 1 5 2 1 1 2 1 4 2 2 1 1 1 5 2 2 1 3 1 4 2 1 1 3 1 1 1 2 1 2 1 3 2 1 1 2 1 1 1 4 2 2 1 5 2 2 1 3 2 2 1 2 1 4 2 4 2 2 1 6 2 4 2 1 1 1 1 2 1 4 2 5 2 1 1 2 1 3 1 1 1 2 1 6 2 6 2 5 2 2 1 2 1 2 1 4 2 2 1 2 1 2 2 3 2 2 1 3 1 3 1 1 1 2 1 3 1 3 1 1 1 3 2 3 1 3 1 3 2 6 2 4 2 1 1 2 2 3 1 3 1 3 1 3 1 2 2 2 2 3 2 2 2 3 1 1 1 2 1 2 1 4 2 2 1 2 1 1 1 3 1 3 2 4 2 3 1 3 1 1 1 3 1 1 1 3 1 2 1 4 2 2 1 1 1 1 1 3 1 2 1 3 1 3 1 2 1 1 1 3 1 2 1 3 1 1 1 2 1 3 2 5 2 1 1 2 1 2 1 2 1 3 1 1 1 1 1 5 2 1 1 3 1 3 1 4 2 2 1 2 2 1 1 1 1 3 2 3 2 2 1 3 1 3 1 4 2 1 1 2 1 3 2 3 1 2 1 2 1 3 1 6 2 2 1 2 1 3 1 3 1 3 1 3 1 2 2 1 1 4 2 5 2 2 1 3 1 6 2 2 1 6 2 4 2 1 1 1 1 1 1 5 2 2 1 2 1 2 1 2 2 1 1 3 1 5 2 1 1 2 1 1 1 4 2 2 1 2 1 3 1 2 1 2 1 3 1 1 1 1 1 3 2 6 2 2 2 1 1 3 1 6 2 3 1 3 2 3 1 1 1 2 1 3 1 1 1 2 1 4 2 3 1 1 1 1 1 3 2 3 2 1 1 2 1 2 2 2 1 3 1 2 1 1 1 1 1 3 1 3 1 3 1 1 1 3 1 3 1 2 1 3 1 2 1 3 2 6 2 2 1 2 2 3 1 3 1 1 1 5 2 2 1 1 1 3 1 2 1 2 1 1 1 2 1 3 2 3 1 2 1 4 2 6 2 3 2 2 1 6 2 1 1 4 2 3 1 1 1 2 1 6 2 3 1 1 1 3 1 3 2 2 1 1 1 2 1 5 2 2 1 3 1 2 1 5 2 4 2 1 1 2 1 2 1 5 2 1 1 2 1 3 1 5 2 1 1 2 99999"/>
<path d="M649.1 1907.7A901.5 901.5 0 0 0 2108.1 1196.2" pathLength="1284" stroke="#cdf0cd" stroke-width="29" stroke-dasharray="0 10 2 22 1 6 1 14 2 28 2 15 1 13 1 5 1 9 1 10 1 5 1 7 1 5 1 10 2 12 2 10 2 22 1 14 1 7 1 8 2 10 1 11 1 5 1 9 1 11 2 21 1 9 2 24 1 11 1 5 1 5 1 6 1 7 2 16 2 17 1 6 2 20 1 10 1 14 1 8 1 14 1 10 1 13 1 7 2 19 1 10 1 4 1 12 1 8 2 13 1 12 1 7 1 7 2 24 1 8 2 22 1 10 1 7 2 11 1 7 1 9 1 14 1 8 1 11 2 27 1 13 1 9 1 11 2 7 2 14 1 12 1 4 2 17 1 4 1 11 1 6 1 11 1 8 1 13 1 5 1 13 1 5 1 5 2 15 1 13 1 8 2 24 1 10 1 5 1 10 2 27 2 24 1 11 1 5 1 13 1 10 2 12 2 20 2 11 2 9 1 6 1 100001"/>
<path d="M655.1 1900.1A891.8 891.8 0 0 0 2098.3 1196.2" pathLength="1284" stroke="#7ad47a" stroke-width="9.5" stroke-dasharray="0 37 1 46 1 30 2 64 1 19 1 33 1 25 1 40 1 29 1 42 2 86 2 97 1 36 2 93 2 101 1 49 1 39 2 31 1 52 1 14 1 22 2 67 1 19 1 46 1 33 2 97 1 100002"/>
<path d="M649.1 1907.7A901.5 901.5 0 0 0 2108.1 1196.2" pathLength="1284" stroke="#7ad47a" stroke-width="10" stroke-dasharray="0 5 2 44 2 98 1 39 1 41 1 35 2 29 1 37 1 14 1 27 1 44 2 51 2 62 1 28 1 50 2 95 1 50 1 16 1 49 1 34 1 48 2 28 1 23 2 76 2 73 1 37 2 56 1 27 1 100029"/>
<path d="M643.1 1915.4A911.2 911.2 0 0 0 2117.8 1196.1" pathLength="1284" stroke="#7ad47a" stroke-width="9.5" stroke-dasharray="0 39 1 16 2 88 1 36 1 14 1 18 1 43 2 97 2 59 1 37 2 45 1 48 1 33 1 17 1 33 1 46 1 32 2 35 1 31 1 25 1 14 2 56 1 18 1 20 1 16 1 24 2 36 1 43 1 45 2 46 2 73 1 14 2 100044"/>
<path d="M637.5 1922.5A920.2 920.2 0 0 0 2126.8 1196.1" pathLength="1284" stroke="#6fd06f" stroke-width="8.5" stroke-dasharray="0 1 1 2 2 3 1 4 1 2 1 4 1 2 2 4 1 2 1 3 2 4 2 5 1 2 2 4 1 3 1 2 2 3 2 6 2 7 2 3 1 2 1 1 2 5 1 1 1 2 1 1 1 3 1 2 1 3 2 4 2 3 1 1 1 2 1 3 1 3 1 3 1 3 2 4 1 2 2 5 1 3 2 3 1 1 1 3 1 2 1 2 2 4 1 2 2 3 1 1 1 2 2 6 1 3 1 4 1 3 1 3 2 7 2 2 1 3 2 2 1 3 1 2 1 2 1 3 1 1 1 3 1 3 1 2 1 2 2 7 1 2 2 4 1 3 1 1 1 3 1 2 1 1 1 3 1 3 2 7 1 3 1 2 1 1 1 2 1 2 1 3 1 3 1 3 1 2 1 3 1 3 1 2 1 1 1 3 1 4 1 2 1 2 1 3 1 1 1 2 1 1 1 3 2 4 1 2 2 3 1 1 1 3 1 3 1 1 1 2 2 2 2 6 1 4 1 2 1 1 1 2 1 3 1 3 1 1 1 2 1 2 1 3 1 2 2 7 1 2 2 7 1 2 1 2 1 2 1 3 1 2 1 2 2 4 1 3 2 6 1 3 1 2 2 6 1 1 1 3 1 2 2 6 1 4 2 4 2 5 1 2 2 7 1 3 1 3 1 2 1 3 1 3 1 1 1 1 1 1 1 3 1 1 2 2 1 3 1 1 2 5 2 7 1 2 1 2 1 2 2 4 1 1 2 4 1 2 1 2 1 4 1 2 2 7 2 5 1 3 1 3 2 2 1 2 1 2 1 3 1 4 1 3 2 4 1 1 1 2 1 1 1 3 2 6 2 7 2 2 1 3 1 2 1 3 1 4 2 4 1 2 1 1 1 1 1 4 2 6 1 3 2 7 1 1 1 3 2 5 1 2 1 3 2 3 1 2 1 1 1 3 1 3 1 2 2 6 1 3 1 3 1 2 1 3 2 7 1 3 1 3 1 2 2 3 2 7 2 3 2 7 1 2 1 3 1 2 1 1 1 1 1 1 1 3 1 2 2 7 1 2 1 3 1 2 1 3 2 3 1 1 2 4 1 3 1 3 2 4 1 2 2 4 1 3 2 4 1 1 1 3 1 4 2 6 2 2 1 3 1 2 2 6 1 1 2 4 1 2 2 7 1 2 1 2 1 2 1 1 1 1 1 3 1 3 1 2 2 4 1 3 1 3 1 3 1 3 2 6 1 3 2 5 2 2 1 2 1 2 1 2 2 7 2 3 1 2 2 4 2 6 2 2 1 1 1 1 1 2 1 1 1 3 2 2 2 6 2 5 1 4 1 1 2 3 1 3 1 1 1 2 2 6 2 100003"/>
</g>
<path d="M1209.2 212.1A987.2 987.2 0 0 0 903.2 259.8" stroke="#dce2ea" stroke-width="123.5"/>
<path d="M1209.1 241.2A958.1 958.1 0 0 0 912.1 287.6" stroke="#eef6f2" stroke-width="65.2"/>
<path d="M1209 265.8A933.5 933.5 0 0 0 919.7 311" stroke="#e6dcd9" stroke-width="16"/>
<path d="M1209.1 247.5A951.9 951.9 0 0 0 914 293.5" stroke="#2f715c" stroke-width="13.3"/>
<path d="M1209.1 229.8A969.5 969.5 0 0 0 908.6 276.7" stroke="#3da079" stroke-width="11.1"/>
<path d="M1209.2 215.5A983.8 983.8 0 0 0 904.2 263.1" stroke="#3c8d70" stroke-width="10.8"/>
<path d="M1209.4 139.5A1059.8 1059.8 0 0 0 880.9 190.8" stroke="#f00a28" stroke-width="22.2"/>
<path d="M903.8 259.1A987.8 987.8 0 0 0 291.4 827.7" stroke="#dce2ea" stroke-width="125"/>
<path d="M912.5 286A959.5 959.5 0 0 0 317.6 838.3" stroke="#eef6f2" stroke-width="68.3"/>
<path d="M920.4 310.6A933.6 933.6 0 0 0 341.5 848" stroke="#e6dcd9" stroke-width="16.7"/>
<path d="M915.3 294.7A950.4 950.4 0 0 0 326 841.7" stroke="#2f715c" stroke-width="14.8"/>
<path d="M909.9 278.1A967.8 967.8 0 0 0 309.9 835.2" stroke="#3da079" stroke-width="13.6"/>
<path d="M904.5 261.2A985.5 985.5 0 0 0 293.5 828.5" stroke="#3c8d70" stroke-width="15"/>
<path d="M881.1 188.4A1062 1062 0 0 0 222.6 799.7" stroke="#f0a21a" stroke-width="24"/>
<path d="M292.4 827.1A987 987 0 0 0 596.9 1975.5" stroke="#dce2ea" stroke-width="123.7"/>
<path d="M317.5 837.4A960 960 0 0 0 613.6 1954.2" stroke="#eef6f2" stroke-width="69.5"/>
<path d="M341.9 847.3A933.6 933.6 0 0 0 629.9 1933.5" stroke="#e6dcd9" stroke-width="16.8"/>
<path d="M326.8 841.1A950 950 0 0 0 619.8 1946.3" stroke="#2f715c" stroke-width="14.9"/>
<path d="M310.6 834.6A967.4 967.4 0 0 0 609 1960" stroke="#3da079" stroke-width="13.7"/>
<path d="M293.4 827.5A986 986 0 0 0 597.5 1974.7" stroke="#3c8d70" stroke-width="16.2"/>
<path d="M224 799.3A1060.8 1060.8 0 0 0 551.3 2033.5" stroke="#229008" stroke-width="24.5"/>
<path d="M596 1975.3A987.4 987.4 0 0 0 2194 1196.7" stroke="#dce2ea" stroke-width="124.3"/>
<path d="M613.6 1952.8A958.8 958.8 0 0 0 2165.4 1196.8" stroke="#eef6f2" stroke-width="67.1"/>
<path d="M629.3 1932.9A933.5 933.5 0 0 0 2140.1 1196.9" stroke="#e6dcd9" stroke-width="16.5"/>
<path d="M619.2 1945.8A949.9 949.9 0 0 0 2156.5 1196.8" stroke="#2f715c" stroke-width="14.2"/>
<path d="M608.4 1959.5A967.3 967.3 0 0 0 2173.9 1196.8" stroke="#3da079" stroke-width="14.2"/>
<path d="M597.6 1973.2A984.8 984.8 0 0 0 2191.4 1196.7" stroke="#3c8d70" stroke-width="14"/>
<path d="M549.9 2033.8A1061.8 1061.8 0 0 0 2268.4 1196.5" stroke="#086cfb" stroke-width="25.1"/>
<path d="M1209 266.4A932.9 932.9 0 0 0 1007.9 287.8" stroke="#5a1616" stroke-width="14.6"/>
<path d="M1206.6 241.7A957.6 957.6 0 1 0 2164.2 1196.8" pathLength="2702" stroke="#e4f0ea" stroke-width="1.5" stroke-dasharray="0 184 1 1 1 1 1 1 1 2 1 1 1 1 2 2 1 2 1 1 2 1 1 1 1 1 1 1 1 1 1 1 1 1 1 1 1 1 1 2 1 1 1 1 1 2 1 1 1 1 1 1 1 1 1 1 2 1 1 1 1 1 1 1 2 1 1 1 1 1 2 1 1 2 3 2 1 1 1 1 1 1 1 2 1 1 1 1 2 1 1 1 2 2 1 1 1 1 1 1 1 1 1 1 2 2 1 2 2 2 2 1 1 1 2 2 1 1 1 2 2 1 2 1 2 2 1 1 1 1 2 1 1 1 1 1 1 1 1 1 1 1 2 2 1 2 3 2 2 2 1 1 1 1 1 1 1 2 1 1 1 1 1 1 2 1 2 1 2 1 2 2 1 1 1 2 1 1 1 1 1 2 1 1 1 1 1 1 1 1 1 1 2 2 1 2 1 1 1 1 1 1 1 1 1 1 1 1 1 1 1 1 2 1 2 1 3 2 1 1 1 1 1 1 1 1 3 2 1 1 1 1 1 1 1 1 1 1 2 1 1 1 1 2 1 1 1 1 1 1 1 1 3 2 3 2 3 2 1 2 1 1 1 1 1 1 1 1 1 1 1 1 1 1 1 1 1 1 1 1 1 1 1 1 1 1 3 2 1 2 1 1 1 1 1 1 1 1 1 1 1 2 1 1 2 1 1 1 1 1 3 2 1 1 2 2 1 1 1 1 1 1 1 1 2 2 1 1 1 1 2 2 3 2 1 1 1 1 1 1 2 2 1 1 1 2 1 1 1 1 1 1 1 1 1 1 1 1 3 2 3 2 1 1 2 2 1 1 2 2 3 2 1 1 3 2 1 2 2 1 1 1 1 2 1 1 1 1 2 2 1 1 1 1 2 2 2 1 1 1 1 1 1 1 1 2 2 4 1 1 2 2 1 1 1 2 1 1 2 3 1 1 2 2 1 1 1 1 1 2 1 1 1 1 1 1 1 1 2 2 1 1 2 3 1 2 1 1 1 2 2 2 1 2 1 2 2 4 1 1 1 2 1 1 2 2 1 2 1 2 1 1 1 2 1 2 1 2 2 3 1 1 1 1 2 2 2 2 1 2 1 1 1 1 1 2 2 4 2 1 1 1 1 1 1 1 1 1 1 2 1 2 1 1 1 2 2 2 1 1 1 2 1 1 1 2 1 1 1 1 1 1 2 3 1 1 1 1 1 1 1 1 2 3 1 1 2 1 2 3 2 1 1 2 1 1 1 2 1 2 1 2 1 1 1 2 1 2 2 4 1 2 1 2 1 1 1 2 1 1 1 2 2 3 1 2 2 2 1 1 1 2 1 1 2 1 2 3 1 1 1 2 2 3 1 1 1 2 1 1 1 1 2 3 1 1 1 1 1 1 2 2 1 2 1 1 2 2 2 1 1 1 1 1 1 1 2 4 1 1 1 1 1 2 1 1 2 1 1 1 2 3 1 1 2 1 2 3 1 1 1 1 1 1 1 1 1 2 1 1 1 1 2 4 2 3 2 4 1 1 1 1 1 1 1 1 1 1 2 3 1 2 1 2 1 1 1 2 1 2 1 1 1 1 2 2 1 1 1 2 1 1 2 1 1 2 2 3 1 2 2 3 1 1 1 2 1 1 1 1 2 3 1 1 2 2 1 1 2 2 1 1 1 1 1 2 1 1 1 1 2 1 1 2 1 1 1 2 2 2 1 2 1 1 1 1 1 1 2 3 1 2 2 2 1 2 1 2 1 2 1 1 1 1 1 1 2 2 1 1 1 1 1 1 1 1 1 1 1 1 2 2 1 1 2 3 2 3 1 2 1 1 1 1 1 1 1 1 1 1 2 4 1 1 2 3 2 1 1 1 1 1 2 2 1 1 1 1 1 1 2 3 1 1 1 1 1 2 1 1 1 2 2 1 1 1 1 2 2 2 2 3 1 1 2 2 1 1 2 3 2 3 1 1 1 2 1 1 1 1 1 1 1 1 1 1 2 2 1 1 2 1 2 2 1 1 1 1 2 2 1 2 1 1 2 2 1 1 2 3 1 1 1 2 1 3 1 2 2 2 1 2 1 3 1 2 1 2 1 2 1 1 2 4 2 3 2 7 1 3 2 6 1 3 2 3 1 3 1 3 2 2 1 3 1 2 2 4 1 4 2 7 1 4 1 2 1 3 1 2 1 2 1 1 2 3 1 4 1 3 2 4 1 2 1 3 2 6 1 1 2 7 1 3 1 4 2 2 2 6 1 3 2 6 1 4 1 3 1 3 2 5 1 1 1 3 1 1 2 5 1 1 2 6 2 3 1 2 1 4 1 1 2 3 1 3 1 1 2 7 2 2 1 2 1 3 2 7 2 7 1 3 2 2 1 4 1 3 1 2 1 3 1 1 2 4 2 5 2 5 1 4 2 5 1 3 1 2 2 4 2 5 2 7 1 1 1 3 1 2 1 1 1 2 1 3 1 3 2 5 1 2 1 3 2 6 2 5 1 4 1 1 2 5 2 4 1 3 1 3 1 3 2 2 2 6 1 1 1 1 1 2 1 4 1 3 1 1 1 1 1 2 1 2 1 2 2 4 1 2 1 3 2 5 2 4 1 1 1 1 1 2 1 2 1 4 1 3 2 5 2 6 2 5 2 5 1 3 1 2 2 3 1 2 1 3 1 3 1 2 1 3 2 7 1 2 2 7 2 6 1 2 1 2 2 7 1 3 1 1 1 2 1 2 2 2 2 3 1 2 1 3 1 3 1 1 1 2 2 2 1 2 1 3 2 7 2 7 1 3 1 2 2 5 2 4 1 3 2 3 1 3 1 3 2 5 1 2 1 3 1 1 1 2 2 3 1 2 1 2 2 4 2 3 1 3 2 5 1 4 1 3 1 1 1 3 2 4 1 3 1 2 1 1 1 3 2 6 1 2 1 2 1 3 2 4 1 3 2 7 2 6 2 5 1 2 2 3 2 6 2 4 1 1 2 5 1 2 1 2 1 2 1 3 1 2 1 4 2 6 1 3 1 3 1 1 1 3 1 3 1 1 1 2 1 1 1 3 1 3 2 3 2 6 2 7 1 2 1 2 2 3 1 3 2 4 1 2 1 3 1 2 2 6 1 1 2 4 1 2 2 3 2 3 2 7 1 2 2 4 1 4 1 4 1 4 1 1 1 3 1 2 1 1 2 5 1 2 1 3 1 3 2 7 1 2 1 3 1 1 2 7 1 3 2 6 1 2 1 2 1 3 1 3 2 6 1 2 2 2 1 2 1 3 1 2 2 6 2 2 2 5 1 4 1 100000"/>
<path d="M1206.6 224.9A974.4 974.4 0 1 0 2181 1196.7" pathLength="2702" stroke="#e4f0ea" stroke-width="1.5" stroke-dasharray="0 184 1 2 2 2 1 1 1 1 1 1 1 1 1 1 1 1 1 1 2 2 1 1 1 2 3 2 1 2 2 2 1 1 1 1 2 1 3 2 1 1 1 1 1 1 2 2 1 1 1 1 2 2 2 2 3 2 2 2 1 1 1 1 1 2 1 1 1 1 2 2 1 2 2 2 2 2 1 1 3 2 1 1 1 1 1 1 1 1 1 1 1 1 3 2 2 2 2 2 2 2 1 1 1 1 1 1 2 1 1 1 3 2 1 1 1 1 1 2 3 2 2 2 1 1 2 2 1 1 1 1 1 1 1 1 1 1 1 1 1 1 1 1 1 2 1 1 1 1 1 1 1 1 2 2 1 2 1 1 1 1 1 1 1 1 2 2 1 1 1 1 1 1 2 2 3 2 1 1 1 1 1 1 1 2 1 1 1 1 1 1 1 1 1 1 1 1 1 1 1 1 1 2 1 1 1 1 1 2 1 1 1 1 2 2 1 1 1 1 1 1 1 1 1 1 1 1 1 1 1 1 2 1 1 2 1 1 2 2 1 1 1 2 1 1 1 1 1 1 2 1 1 1 1 1 2 1 1 1 1 1 1 1 1 1 1 2 1 1 2 2 1 1 1 1 1 1 1 1 2 2 1 1 1 1 1 1 1 1 1 1 2 1 3 2 1 2 2 2 1 1 3 2 1 1 1 2 1 1 2 2 1 1 1 1 1 1 1 1 3 2 1 1 1 1 1 1 1 1 1 1 1 2 1 1 1 2 1 2 3 2 1 1 1 1 1 1 1 1 1 1 1 2 1 1 3 2 2 1 2 2 1 1 1 1 1 1 3 2 1 1 2 1 2 1 1 1 1 1 1 1 1 1 1 2 1 1 1 1 2 4 1 2 2 2 1 1 1 1 1 2 1 2 2 4 1 1 1 2 1 2 1 2 2 1 2 2 1 2 1 1 1 1 1 1 1 1 2 3 1 2 1 2 1 1 2 3 1 1 1 1 2 3 1 2 1 1 1 1 2 1 1 1 1 1 1 2 1 2 1 2 2 4 1 1 2 3 1 2 1 1 2 3 1 1 1 1 2 2 2 2 1 2 1 1 1 2 1 1 1 1 1 1 1 2 1 1 1 2 1 1 1 1 1 1 2 3 2 4 1 1 2 4 1 1 2 2 1 1 2 1 1 1 1 1 2 1 1 1 1 1 2 4 1 2 1 2 2 4 1 1 2 3 1 1 2 4 1 2 1 2 1 1 2 1 1 1 1 1 1 1 2 1 1 1 1 1 2 3 1 1 1 1 2 3 1 1 1 1 1 2 1 2 1 1 1 1 1 1 1 1 1 1 1 2 1 1 2 3 1 1 2 2 1 1 1 1 1 1 2 4 1 2 2 2 2 1 1 1 1 1 2 3 2 2 2 3 2 2 1 2 1 1 1 1 1 1 1 2 2 3 2 4 2 2 1 1 1 1 1 1 2 1 1 1 1 2 1 2 1 1 1 1 1 1 2 4 2 4 1 1 1 1 2 3 2 1 1 1 1 1 1 2 1 2 2 3 1 1 1 1 2 2 2 3 1 1 1 2 2 2 1 1 1 1 1 2 2 2 1 2 1 2 1 1 1 1 1 2 1 2 2 3 1 2 1 1 1 1 2 4 1 1 1 1 1 1 1 2 2 1 1 1 1 2 2 2 1 2 2 4 1 2 1 1 1 1 1 2 1 2 2 1 2 3 1 1 1 1 1 1 1 1 1 1 1 2 1 1 1 1 1 1 2 4 1 1 2 2 1 1 1 1 1 1 1 2 1 2 1 2 1 1 1 2 1 1 1 1 2 4 1 1 1 1 1 1 2 2 1 1 2 3 2 2 1 1 1 1 1 1 1 1 2 1 2 3 1 1 1 2 2 1 1 2 1 2 1 1 1 1 1 1 2 2 2 4 2 1 1 1 1 1 1 1 2 3 1 1 1 2 1 1 1 1 1 2 2 5 1 3 2 2 1 4 2 4 1 2 1 1 1 3 2 6 1 1 1 2 1 1 1 3 1 3 2 2 2 3 1 2 2 4 1 2 1 2 1 3 2 2 1 3 1 1 1 2 2 5 2 5 1 1 1 2 1 2 2 4 1 3 1 2 1 1 1 1 2 3 1 2 1 3 2 3 1 2 2 4 1 2 2 2 1 3 2 4 1 3 2 5 1 3 2 7 1 2 2 6 1 1 1 2 2 7 1 3 1 1 1 3 1 1 1 2 2 6 1 1 1 1 1 3 1 1 1 1 2 6 2 5 1 3 1 3 1 1 2 7 2 4 1 3 1 3 2 3 1 2 1 3 1 2 2 2 1 1 1 3 2 7 1 3 1 2 2 5 1 2 1 2 1 2 2 2 1 4 1 2 1 3 1 3 2 5 2 7 1 2 1 2 2 7 1 1 1 1 1 3 1 3 1 2 2 7 1 2 1 1 1 2 2 4 1 3 1 3 1 1 2 3 1 2 2 2 2 4 1 2 2 5 1 1 1 2 2 2 1 2 1 1 1 3 1 4 1 2 1 3 1 3 1 2 1 3 2 5 1 1 1 3 2 7 2 4 1 2 1 1 2 5 1 3 1 3 1 3 2 3 1 2 1 3 2 6 1 1 1 3 2 6 2 7 1 1 1 1 2 6 1 3 1 2 2 3 2 3 1 2 1 3 1 4 1 2 1 3 2 4 1 1 1 3 2 3 1 2 1 3 2 5 2 2 2 2 1 1 1 2 1 4 1 2 1 1 1 3 1 1 2 3 1 2 2 6 1 2 1 1 2 3 1 1 1 2 2 7 1 2 2 5 1 2 1 1 2 5 1 1 1 3 2 3 1 3 2 5 2 2 2 5 2 6 1 3 1 3 1 2 1 2 2 6 1 3 1 2 1 1 1 2 1 2 1 3 1 4 1 2 1 3 1 2 1 2 1 3 1 3 1 2 2 4 2 4 1 3 2 7 1 3 2 6 1 3 1 2 1 3 1 3 1 1 1 2 1 2 1 2 1 3 1 3 1 2 1 1 2 7 1 3 1 1 1 3 1 1 1 3 2 5 1 3 2 7 1 1 2 7 2 2 1 3 2 6 1 2 1 3 1 2 1 2 1 2 1 2 2 6 1 1 2 6 1 2 2 3 1 3 1 3 2 7 1 3 1 4 1 3 1 4 1 2 1 3 1 3 2 7 1 3 2 2 2 5 2 3 2 2 2 5 1 3 2 7 1 2 1 3 1 2 2 5 1 3 1 3 1 4 2 2 2 7 1 1 1 3 1 2 1 2 1 2 2 7 1 4 1 2 1 100001"/>
<path d="M1206.6 206.1A993.2 993.2 0 1 0 2199.8 1196.7" pathLength="2702" stroke="#e4f0ea" stroke-width="1.5" stroke-dasharray="0 184 1 1 1 2 1 1 2 2 1 1 1 1 3 2 1 1 1 2 2 2 2 1 1 1 1 1 1 1 1 1 1 2 1 1 1 2 1 1 1 1 1 1 1 1 2 2 1 1 1 1 1 1 1 1 2 2 3 2 1 2 1 1 1 1 2 2 1 1 1 1 1 1 1 2 1 1 1 1 1 2 1 1 3 2 1 1 2 2 1 1 1 1 1 1 1 1 1 1 1 1 3 2 2 2 1 1 1 1 1 1 1 1 1 1 1 1 1 2 1 1 1 1 1 1 1 1 1 1 1 2 1 2 2 2 2 1 1 1 1 1 1 1 1 1 1 1 1 1 2 2 1 1 3 2 1 1 3 2 1 2 3 2 1 1 2 2 1 1 2 1 1 1 1 1 2 2 1 1 1 1 1 1 1 1 3 2 1 1 1 1 1 1 1 1 1 1 1 1 1 1 1 1 2 1 2 1 2 1 1 1 1 1 2 2 1 1 1 1 1 1 1 1 1 1 1 2 1 1 1 1 1 1 1 1 1 1 1 1 1 1 1 1 1 1 1 1 1 1 1 1 3 2 1 1 1 1 1 1 1 1 1 1 1 1 1 1 1 1 1 1 2 2 3 2 2 1 1 1 1 1 2 1 2 1 3 2 1 1 1 1 1 1 2 2 1 1 1 1 1 1 1 1 1 1 2 1 1 1 1 2 3 2 1 1 1 1 1 1 1 1 1 1 1 1 2 2 2 2 1 1 1 2 1 1 1 1 3 2 2 1 1 1 2 2 1 1 2 2 1 1 1 1 1 2 2 2 1 1 1 1 1 1 1 1 1 2 1 2 1 1 3 2 2 2 1 1 1 2 3 2 3 2 2 1 2 4 1 1 1 1 1 1 1 1 1 2 1 2 1 1 2 2 2 3 1 1 2 2 1 1 1 2 1 1 1 1 2 4 2 3 1 1 2 1 1 1 1 1 2 3 2 2 2 4 1 1 2 3 1 1 1 1 1 1 1 1 1 1 2 2 2 3 2 3 1 2 2 3 2 2 1 1 1 1 1 1 1 1 2 3 1 2 2 3 1 1 2 2 1 1 1 1 2 4 1 1 2 1 2 2 1 1 1 1 2 1 1 2 1 2 2 4 1 2 1 2 1 2 2 2 2 1 1 1 1 1 2 4 1 1 1 1 2 2 1 1 1 1 1 1 1 2 2 3 1 1 2 1 1 2 1 1 2 2 1 1 2 2 1 2 2 2 1 2 2 2 2 4 2 4 1 2 1 1 1 2 1 1 1 1 1 1 1 1 1 1 1 1 1 1 1 1 1 1 1 1 2 2 1 2 1 1 1 1 1 1 2 3 1 2 1 1 1 1 1 1 1 1 1 1 1 1 1 2 2 2 1 1 1 1 2 4 1 1 1 2 1 1 2 2 1 1 2 2 1 1 1 1 1 1 1 1 1 1 1 2 1 1 1 1 2 3 1 1 2 3 1 1 1 1 1 1 1 1 1 1 1 1 1 1 2 2 1 1 1 1 1 1 1 2 2 1 1 1 1 2 1 1 1 2 2 4 2 3 1 1 1 1 1 2 1 1 2 2 2 2 2 3 2 3 1 1 2 4 1 1 1 1 1 2 1 1 1 1 1 1 1 1 1 1 1 1 1 1 1 1 1 1 2 4 1 2 1 1 1 1 2 1 1 1 1 1 2 2 1 2 1 2 2 3 1 2 1 1 1 1 1 1 1 1 1 2 1 2 1 1 1 2 1 1 1 1 1 1 2 2 2 3 1 2 1 2 1 2 2 1 1 1 1 1 1 1 2 1 1 1 1 2 1 1 1 1 2 3 1 1 1 1 1 2 1 2 2 4 2 3 1 1 2 2 1 1 1 1 1 1 1 1 2 3 1 1 2 3 2 3 1 1 2 3 1 2 1 1 1 1 2 3 1 1 2 3 1 1 2 2 2 3 2 2 1 2 1 2 2 2 2 2 1 3 1 3 1 4 2 6 1 1 1 2 1 2 1 3 1 3 1 2 1 1 1 2 2 4 1 1 1 2 2 4 1 3 1 1 1 2 1 1 2 5 1 1 1 1 1 2 1 2 1 1 1 3 2 4 1 3 1 1 2 7 1 2 1 1 1 2 2 7 1 2 1 2 1 2 2 4 2 6 1 3 1 3 1 2 2 4 1 1 2 3 2 7 1 4 1 4 1 3 1 1 1 2 1 4 2 6 1 1 2 3 1 2 2 6 2 3 1 4 1 1 1 3 1 2 1 3 2 3 1 1 2 7 1 4 2 2 1 1 1 1 1 3 1 1 1 3 2 3 1 1 2 5 2 6 1 2 1 2 1 1 1 2 1 3 2 5 2 7 1 1 1 2 1 2 1 3 1 3 2 5 1 3 1 3 1 3 1 3 1 2 1 2 1 2 2 5 1 1 1 3 1 2 2 4 1 1 2 3 2 7 1 3 1 2 1 2 1 3 1 2 1 2 1 1 1 2 2 7 2 4 2 2 1 2 1 2 2 7 1 3 2 7 2 5 1 2 1 2 2 7 2 5 2 3 2 2 2 6 1 1 1 3 1 2 1 3 1 3 1 3 1 3 1 2 1 1 1 2 2 7 1 1 1 1 2 4 1 2 1 2 1 2 1 4 1 2 2 6 2 4 1 2 1 3 1 3 2 5 1 2 2 5 1 2 1 2 1 3 1 3 2 7 2 3 2 2 1 4 1 2 1 3 1 2 2 7 1 2 1 4 2 6 2 4 1 4 1 1 1 3 1 3 1 1 1 2 1 3 1 1 1 1 1 3 1 2 2 5 1 2 1 4 1 1 1 2 2 7 1 2 1 1 1 3 1 3 2 7 2 2 1 3 2 3 1 2 2 6 1 4 2 4 1 3 1 2 1 2 1 3 1 2 1 3 1 1 2 3 1 2 2 6 1 3 1 1 2 4 2 6 2 7 1 1 1 3 1 2 1 3 1 3 2 2 2 6 1 2 2 2 1 3 1 2 1 3 2 6 1 1 1 3 1 1 1 3 1 3 2 4 1 2 1 4 1 2 1 3 1 4 1 2 1 2 2 4 1 3 1 3 1 2 1 2 1 1 1 2 1 2 1 2 1 2 2 2 2 7 2 4 1 3 1 3 1 1 2 6 1 3 1 1 1 3 1 2 1 3 2 4 1 2 1 2 1 3 2 7 2 7 1 1 1 3 1 2 1 3 2 3 2 4 2 2 1 3 1 2 2 5 1 1 1 3 1 3 2 6 1 2 1 3 2 2 1 2 1 1 1 3 1 1 1 3 1 3 1 2 2 2 1 3 2 4 1 3 1 1 1 1 1 2 1 100002"/>
<path d="M1206.6 256.3A943 943 0 1 0 2149.6 1196.8" pathLength="2702" stroke="#e4f0ea" stroke-width="1.5" stroke-dasharray="0 184 1 1 1 1 3 2 1 1 1 1 1 2 1 2 1 1 1 1 1 1 1 1 1 1 1 1 1 1 1 1 1 2 1 1 1 1 2 2 1 1 1 2 1 1 1 1 2 2 1 2 1 1 1 1 1 1 1 1 1 1 1 1 1 1 3 2 1 1 2 2 3 2 1 1 3 2 1 1 3 2 2 2 1 1 1 1 1 1 2 2 1 1 1 1 1 1 1 1 1 2 1 1 3 2 1 2 1 1 1 2 3 2 1 1 1 1 1 1 1 1 1 1 1 1 1 1 1 1 2 2 1 1 1 1 1 1 1 1 1 1 3 2 1 1 1 1 1 1 1 1 1 1 1 1 1 1 1 1 2 2 1 1 1 1 2 1 2 2 1 1 2 1 1 1 1 1 1 1 1 1 2 2 2 2 1 1 1 1 1 2 1 1 1 2 1 1 1 1 1 1 2 2 1 1 2 2 1 1 2 2 1 2 1 1 1 1 2 1 1 1 3 2 2 2 1 2 2 1 1 1 3 2 1 1 3 2 1 1 1 1 1 1 3 2 3 2 3 2 1 1 2 2 1 1 3 2 1 1 3 2 2 2 2 1 1 1 1 2 1 1 1 1 2 1 2 2 1 1 1 1 1 1 3 2 1 1 1 1 1 1 1 1 1 1 1 1 1 1 2 2 1 1 3 2 3 2 1 1 3 2 2 2 2 2 1 2 2 2 1 2 1 2 1 1 1 1 1 1 1 1 1 1 1 1 1 1 1 1 1 1 1 2 1 1 2 2 1 1 3 2 1 1 2 1 2 2 1 1 2 2 1 1 2 2 1 1 2 4 1 2 1 1 1 1 2 3 2 3 1 2 1 1 2 3 1 1 2 1 1 2 2 4 1 1 1 1 1 2 1 1 1 1 1 2 1 1 1 2 1 2 2 3 1 1 1 2 2 1 1 2 2 2 1 2 1 1 1 2 2 2 1 2 1 2 1 1 2 3 1 2 1 1 2 4 2 2 1 1 2 2 2 4 1 1 2 3 1 1 1 2 1 2 1 1 1 1 2 3 2 3 1 1 2 3 2 2 1 1 1 1 2 1 2 1 2 3 1 1 1 1 2 2 1 1 2 2 1 1 2 2 1 2 2 1 1 1 1 2 1 1 2 2 2 1 1 1 1 1 1 1 1 1 1 2 2 3 2 2 1 1 1 1 1 1 2 1 1 1 1 2 1 1 1 1 2 3 1 1 2 3 1 1 1 2 2 3 1 1 1 2 1 2 1 2 1 2 1 2 2 3 1 1 1 1 1 1 1 1 1 2 1 2 1 2 2 2 1 1 1 1 1 1 1 1 2 3 1 1 2 2 2 3 1 1 2 2 1 1 1 1 1 1 1 1 2 1 1 2 1 1 1 2 2 3 1 1 1 1 1 1 1 1 2 4 1 1 2 2 1 1 1 2 1 1 1 2 1 2 1 2 1 1 1 1 2 2 2 2 1 2 2 3 1 2 1 2 1 2 1 1 1 1 1 1 1 2 1 1 1 1 1 1 2 3 2 2 1 1 2 3 2 4 1 2 1 1 2 3 1 1 1 1 1 1 1 1 1 1 1 1 2 2 1 1 1 1 1 1 2 4 2 3 1 1 1 1 2 2 2 2 1 1 1 1 2 2 1 1 2 1 1 1 1 2 1 1 2 2 1 1 2 3 2 4 1 2 1 2 1 2 1 1 1 2 1 2 1 1 1 1 1 1 1 1 1 1 2 2 2 2 2 2 1 1 1 1 2 4 1 1 1 2 1 1 1 2 1 1 1 1 1 2 2 3 1 1 2 1 1 2 1 1 1 1 2 1 1 1 2 3 2 2 2 2 1 1 1 1 1 1 1 1 2 2 2 1 1 1 1 1 2 2 1 1 1 1 2 3 1 2 1 1 1 1 2 1 1 1 1 2 1 3 1 1 1 2 1 3 2 4 1 3 1 2 1 2 2 4 1 1 1 3 1 2 1 4 2 3 1 3 1 2 1 4 2 3 2 6 1 1 1 2 1 3 1 2 1 2 1 2 1 1 1 3 1 1 1 2 1 3 2 4 1 3 1 2 2 6 1 2 1 3 1 1 2 4 2 6 2 5 1 3 1 2 2 2 1 2 1 3 1 1 1 3 1 1 1 2 1 2 1 3 1 3 1 3 1 2 1 1 1 3 2 7 1 2 1 2 2 4 1 4 2 5 2 5 2 5 1 1 1 3 1 2 2 6 2 6 2 3 2 4 1 1 2 3 1 1 1 2 1 3 1 2 2 3 2 4 1 2 1 2 2 7 1 3 1 3 1 3 2 7 2 5 1 1 1 2 1 2 1 2 1 2 1 1 1 2 1 2 1 3 1 4 2 5 1 3 1 2 1 3 2 5 2 5 1 2 1 3 1 3 2 3 1 3 1 1 1 4 1 1 1 3 1 2 2 6 1 2 1 2 1 3 1 1 1 3 1 3 1 2 1 2 1 1 1 3 1 3 1 3 2 3 1 3 1 2 1 3 1 1 1 2 2 3 2 3 1 1 1 2 1 2 2 5 1 2 2 4 1 2 1 1 2 7 2 7 1 2 1 3 2 5 1 1 1 1 1 1 2 7 1 3 1 2 2 7 1 1 1 2 1 1 1 4 1 2 1 2 1 3 1 3 1 3 2 3 1 2 1 3 1 1 2 3 1 3 2 7 1 2 1 1 1 1 2 4 2 7 1 3 1 3 2 3 1 2 1 1 2 5 2 5 1 1 1 2 1 2 1 2 1 1 2 6 1 4 1 2 1 1 1 3 1 3 2 5 1 1 1 3 1 2 1 2 2 4 1 3 1 2 1 2 2 4 1 3 2 4 1 3 1 2 1 2 2 4 1 2 1 3 1 3 1 1 1 4 1 3 1 2 1 3 1 1 1 2 1 1 2 5 1 4 1 2 2 6 1 3 2 2 1 2 1 1 1 3 2 4 2 2 1 1 1 3 2 5 1 2 1 1 1 2 1 1 1 2 2 2 1 1 2 4 1 2 2 6 1 1 1 1 1 3 1 4 1 2 2 7 1 2 2 5 1 2 1 3 1 2 1 3 1 1 1 2 1 1 2 3 1 3 1 2 2 5 2 4 1 1 2 5 2 6 1 1 1 1 1 2 1 1 1 2 1 3 2 2 1 2 1 2 1 2 1 1 1 2 1 3 1 2 1 3 2 7 1 2 1 2 2 4 1 3 1 2 1 1 1 2 1 3 2 7 1 1 1 4 1 4 1 2 2 6 1 3 1 3 1 3 1 3 2 7 1 1 1 1 1 2 1 2 1 3 1 3 1 2 1 1 1 2 1 2 1 2 1 2 2 6 1 99999"/>
<path d="M1206.6 238.5A960.8 960.8 0 1 0 2167.4 1196.8" pathLength="2702" stroke="#e4f0ea" stroke-width="1.5" stroke-dasharray="0 184 1 1 1 1 1 1 1 1 2 1 1 1 1 1 3 2 3 2 1 1 1 1 2 2 1 1 3 2 1 2 1 1 2 2 1 1 3 2 2 2 1 1 2 2 1 1 1 1 2 1 1 1 3 2 2 2 3 2 1 1 3 2 1 1 1 1 2 2 1 2 1 1 1 1 1 1 1 1 1 1 1 1 1 1 1 1 3 2 2 2 2 2 2 2 1 1 2 2 1 1 1 1 1 1 2 2 2 2 1 1 1 1 1 1 1 1 2 2 1 1 1 1 2 1 1 1 2 1 1 2 1 1 1 1 3 2 1 1 1 2 1 1 1 1 1 1 2 1 1 1 1 1 3 2 1 1 3 2 1 1 2 2 1 1 1 1 2 2 1 1 3 2 1 2 1 1 1 1 1 1 1 1 1 1 2 1 1 1 3 2 1 1 1 1 1 2 1 1 3 2 1 1 1 1 1 1 3 2 2 2 1 1 1 2 2 1 1 1 1 1 3 2 1 1 1 1 1 1 2 2 1 2 1 1 1 1 1 2 2 1 2 2 2 2 1 1 2 1 1 1 2 2 1 1 1 1 1 1 3 2 3 2 1 1 1 1 1 1 1 1 1 1 2 2 1 2 1 1 2 1 1 1 2 2 1 1 2 2 1 1 3 2 1 1 3 2 1 1 1 1 1 2 1 1 2 2 2 2 1 1 1 1 3 2 1 1 1 1 2 2 1 1 1 1 1 2 1 1 1 1 1 1 1 1 1 2 1 1 1 1 1 1 1 1 1 1 1 1 1 1 1 1 1 1 1 1 1 1 1 2 2 2 2 3 1 1 2 3 1 1 2 3 1 1 1 1 1 2 1 1 2 1 1 1 1 2 1 1 2 2 1 1 1 2 2 3 1 2 1 1 1 2 1 1 1 2 2 1 1 1 1 1 2 1 1 1 2 1 1 1 1 1 2 4 1 1 2 2 1 2 1 2 2 2 1 2 1 1 1 1 1 1 2 2 2 3 1 1 1 1 1 1 1 1 1 1 1 1 2 1 1 1 1 1 1 1 1 1 1 1 1 2 1 2 1 1 1 1 2 1 2 2 1 1 1 1 2 3 1 2 2 4 2 2 1 1 1 1 1 2 2 2 1 1 2 3 1 1 2 2 1 1 2 1 2 2 1 1 1 1 1 1 1 2 1 1 1 1 1 1 1 1 2 2 1 1 1 1 1 1 1 2 1 1 1 1 1 1 2 4 1 1 2 3 1 1 1 2 2 3 2 4 1 2 1 1 1 1 2 3 2 2 2 3 1 1 1 1 2 2 1 1 2 1 1 1 2 1 1 2 1 2 1 1 1 1 1 1 1 1 1 2 1 1 2 4 1 2 2 2 1 1 1 1 2 3 1 1 1 1 1 2 1 1 1 1 1 1 2 2 2 1 2 3 1 2 1 1 1 1 1 2 1 2 1 2 1 2 1 2 2 2 1 2 1 1 1 2 2 3 1 1 1 1 1 1 2 3 1 1 1 1 1 2 1 2 1 1 1 1 1 2 1 1 1 2 2 2 1 1 2 3 2 2 2 2 1 2 1 2 1 1 2 1 1 2 1 2 1 1 1 2 1 2 1 2 2 1 1 1 2 3 1 2 2 3 1 1 1 1 1 1 1 1 2 2 1 1 1 2 1 1 1 1 1 1 1 2 2 3 1 1 1 1 1 2 1 1 1 1 1 1 2 2 1 2 1 1 2 3 1 2 1 2 1 1 2 4 1 1 1 2 2 3 1 1 1 1 2 1 1 2 1 1 2 1 1 2 1 1 1 2 1 1 1 1 1 1 2 4 1 1 2 3 1 1 1 1 1 2 1 1 1 2 1 1 1 1 1 2 2 1 1 2 1 1 2 1 1 1 1 1 2 2 2 2 2 3 1 1 1 1 2 4 2 2 1 2 1 1 1 1 1 1 1 1 2 2 1 2 1 4 1 3 1 3 2 5 2 5 1 2 1 4 1 2 1 2 1 4 2 3 1 2 1 1 1 2 1 2 1 2 2 7 1 3 1 2 1 2 1 2 2 4 1 1 1 4 1 2 1 1 1 3 2 6 1 4 1 3 2 2 1 1 1 3 1 2 1 3 1 4 1 1 1 1 1 3 1 1 1 2 1 1 1 2 1 2 2 7 1 1 2 6 2 3 2 5 1 2 2 3 1 3 2 6 1 1 1 1 1 1 2 3 2 7 2 2 2 4 2 2 1 4 1 1 1 2 1 2 1 1 1 1 2 5 1 2 1 3 2 3 1 2 1 3 1 3 2 4 1 2 1 3 1 2 1 2 2 5 1 2 1 1 1 1 2 6 1 2 1 3 1 3 1 3 1 3 1 3 1 2 2 4 1 2 2 5 2 3 2 6 1 3 2 7 1 3 1 1 1 3 1 3 1 3 1 2 1 2 1 2 1 2 1 3 1 1 1 2 1 1 1 3 1 3 1 2 1 2 1 1 1 2 2 2 1 2 1 1 1 3 1 2 2 4 1 2 1 2 2 2 1 3 1 2 1 2 1 1 1 3 1 1 1 2 1 1 2 2 2 5 1 1 1 3 1 2 1 1 1 2 1 3 2 5 1 1 1 1 1 3 1 4 2 5 1 2 2 6 1 1 1 2 1 4 2 7 1 2 1 1 2 5 1 4 1 2 1 3 1 3 2 5 2 3 1 2 1 1 1 2 1 2 1 1 2 5 1 3 1 3 1 2 2 4 2 5 1 2 2 7 1 1 1 3 1 2 2 3 1 1 1 3 1 2 1 3 1 2 1 3 1 1 1 3 1 3 1 2 1 3 1 1 1 1 2 7 1 2 1 2 1 1 2 7 1 3 1 2 1 3 2 6 2 6 1 3 1 2 1 3 1 2 2 5 1 2 1 4 2 3 1 2 1 3 1 3 1 2 2 4 1 3 1 2 2 5 1 3 2 5 2 7 1 3 1 1 2 2 1 2 1 3 2 2 1 1 1 1 2 7 1 2 1 2 2 2 2 2 1 3 1 2 2 2 1 1 2 2 1 3 1 2 1 3 2 7 2 6 2 3 1 4 1 3 2 5 2 4 1 3 1 2 1 2 1 2 2 2 1 3 2 3 2 7 1 2 2 7 1 2 2 5 2 3 1 2 1 3 2 2 1 3 1 3 1 4 1 3 1 2 1 3 1 2 2 5 1 1 1 2 2 2 1 2 1 2 1 4 1 3 1 3 1 1 1 2 1 1 1 2 1 1 1 2 1 2 1 1 1 1 1 1 1 1 1 4 1 3 2 2 1 3 2 4 1 2 1 3 2 4 2 7 1 2 1 3 1 3 1 3 2 3 1 3 2 4 2 7 1 2 1 3 2 4 2 100000"/>
<path d="M1206.6 221.1A978.2 978.2 0 1 0 2184.8 1196.7" pathLength="2702" stroke="#e4f0ea" stroke-width="1.5" stroke-dasharray="0 184 2 2 1 1 1 1 1 1 3 2 2 2 2 2 1 2 1 1 1 1 2 2 1 1 1 1 1 1 1 1 3 2 1 1 2 2 1 1 1 1 1 1 1 1 1 1 1 1 2 2 1 1 1 1 1 1 1 1 1 1 1 1 3 2 1 1 1 1 1 2 1 1 3 2 1 1 1 1 1 1 1 1 1 1 3 2 1 1 1 1 1 1 1 1 2 2 1 1 1 1 3 2 1 1 1 1 1 1 1 1 1 1 2 2 1 1 1 1 2 2 1 1 1 1 2 2 1 1 1 1 1 1 2 2 2 1 1 1 1 1 1 1 1 1 2 1 1 1 3 2 1 1 1 1 1 1 1 1 2 2 1 1 3 2 1 1 1 1 1 1 1 2 1 2 1 1 2 2 2 1 1 1 1 1 1 1 2 1 1 1 1 1 2 2 1 1 1 2 2 2 1 1 1 1 2 1 1 1 1 1 1 1 2 2 1 1 1 1 2 2 1 1 1 1 2 2 1 1 1 1 1 1 1 1 2 2 1 1 1 1 2 1 1 1 2 2 1 1 1 1 1 1 1 1 1 1 1 1 1 1 1 1 1 1 3 2 2 1 1 1 2 2 1 1 1 1 2 1 3 2 3 2 1 2 1 1 1 1 1 1 1 1 2 2 2 2 1 1 1 1 1 1 1 1 1 1 1 1 1 1 1 1 2 2 1 1 1 1 1 1 3 2 1 1 1 1 2 2 3 2 1 1 2 2 3 2 3 2 3 2 1 1 1 1 1 1 3 2 1 1 1 1 3 2 1 2 2 1 1 2 1 1 1 1 1 1 1 2 1 1 1 1 1 1 1 2 1 1 2 2 1 2 1 1 2 1 1 1 1 1 2 2 2 3 1 1 1 1 1 1 1 1 1 2 2 1 1 1 1 1 1 1 1 1 2 2 1 1 2 3 1 2 1 1 1 1 1 1 2 2 1 1 2 1 1 2 1 2 1 2 1 1 1 2 1 1 1 1 1 1 2 3 1 1 1 1 2 3 1 1 1 2 2 1 1 1 1 1 1 1 1 1 1 1 1 1 1 1 1 2 2 1 1 1 1 1 2 1 1 2 1 1 2 3 2 2 2 3 1 2 1 1 2 2 1 1 1 2 1 1 1 2 1 1 2 2 1 1 1 2 1 1 1 1 1 1 1 2 1 2 1 2 1 2 1 1 1 1 1 1 2 2 1 1 1 2 1 2 2 1 2 2 1 1 2 2 1 1 2 3 1 2 1 1 1 1 1 1 1 2 1 1 1 2 1 1 1 1 1 1 1 1 1 1 1 1 2 2 1 2 1 2 2 2 1 2 1 1 1 2 2 3 1 2 1 1 2 1 1 1 1 1 1 1 1 2 1 2 2 3 2 3 1 1 1 1 1 1 1 2 2 2 1 1 2 1 1 2 2 2 1 2 1 1 1 1 1 2 1 2 1 1 1 1 1 1 1 1 2 1 2 4 1 1 1 1 1 2 2 3 1 1 2 1 2 4 1 1 1 2 1 1 2 3 1 2 2 3 1 1 1 2 2 3 2 3 1 1 2 1 1 1 1 2 2 2 2 1 1 2 1 1 1 2 1 2 2 3 1 1 1 1 1 1 1 2 2 3 2 1 1 2 1 1 1 1 1 1 1 2 1 2 1 1 2 1 1 1 2 1 1 1 1 2 1 1 2 2 1 1 1 1 1 1 2 4 1 1 1 1 2 1 1 1 2 4 2 3 1 2 2 2 1 2 2 3 1 2 1 1 2 1 1 1 2 2 1 2 1 2 2 3 1 1 2 2 1 2 1 2 1 1 2 4 1 2 2 2 2 1 1 1 1 1 1 2 1 2 2 3 2 4 1 2 1 2 2 2 1 2 1 1 1 2 1 1 1 1 1 1 2 1 1 1 1 1 1 1 1 2 2 1 2 2 2 2 1 2 1 1 1 2 1 2 1 1 1 1 1 1 1 1 1 1 1 1 1 1 1 2 1 3 1 3 2 6 1 4 2 2 2 6 2 2 2 2 1 1 2 4 2 6 1 2 1 3 2 3 1 3 2 7 1 2 1 1 1 1 1 2 1 3 2 4 1 2 1 4 1 2 1 3 1 4 1 2 2 2 2 3 1 2 1 2 1 3 1 2 1 2 1 1 1 2 2 7 1 1 2 5 1 3 1 2 1 3 1 2 1 4 1 1 1 3 1 3 1 1 1 2 2 4 2 7 1 2 1 1 1 3 1 3 1 2 2 4 1 3 1 1 1 3 1 1 1 3 1 3 2 2 2 3 1 3 1 2 1 2 2 5 1 1 2 7 1 3 1 3 2 4 2 6 2 4 2 7 1 3 2 2 1 2 2 3 2 6 1 2 1 4 1 2 1 3 2 7 1 2 1 2 2 6 2 3 2 5 1 2 2 7 1 2 1 1 1 3 1 2 1 3 1 3 1 2 2 3 1 2 1 3 1 3 1 3 1 3 2 5 2 5 1 2 1 3 1 3 1 3 1 3 1 4 1 2 2 3 1 2 1 4 1 3 1 4 1 3 1 2 2 5 1 3 1 3 1 2 1 1 1 2 1 2 1 2 1 3 1 3 1 2 1 2 2 7 1 3 1 3 1 4 2 7 1 2 1 2 1 1 2 3 1 1 2 3 1 1 2 5 1 4 2 3 1 1 1 1 1 1 2 4 2 5 1 3 1 2 1 3 1 2 1 1 1 1 1 3 2 7 1 2 2 5 1 3 1 2 1 2 2 2 2 6 1 1 2 7 2 4 2 3 1 2 1 4 2 4 2 3 1 3 1 1 1 3 1 3 2 7 2 7 1 4 1 2 1 1 1 2 1 2 1 4 1 3 2 3 1 3 1 3 1 2 1 3 1 3 1 1 2 7 1 1 1 1 1 3 2 7 2 3 2 6 1 3 2 4 1 2 1 4 1 2 2 5 1 3 2 7 2 3 2 2 1 2 1 2 1 3 2 2 1 3 1 3 2 6 1 2 1 2 2 2 2 3 1 2 1 2 1 2 2 4 1 1 1 4 1 2 1 1 2 3 1 3 1 4 2 4 2 6 1 1 2 2 1 1 1 3 1 4 1 3 2 3 2 2 1 3 2 4 1 2 1 3 1 1 1 1 1 1 2 3 1 2 1 2 1 2 1 2 1 3 1 2 1 3 1 1 1 4 1 3 1 1 1 3 1 1 1 2 1 4 2 3 2 3 1 3 1 3 2 2 1 2 2 6 1 1 2 6 1 3 1 3 2 3 2 6 1 1 2 6 2 6 2 6 1 1 1 3 1 3 2 6 1 2 2 7 1 3 1 99999"/>
<path d="M1206.6 240.7A958.6 958.6 0 1 0 2165.2 1196.8" pathLength="2702" stroke="#e4f0ea" stroke-width="1.5" stroke-dasharray="2 1 1 1 1 2 2 2 1 1 1 1 1 1 1 1 2 2 1 1 1 1 3 2 1 1 1 1 1 1 2 2 1 1 1 1 1 1 1 1 2 2 1 1 1 1 1 1 3 2 1 1 1 1 1 1 2 2 2 2 1 1 1 1 2 2 2 2 2 1 1 1 2 2 1 1 1 1 1 1 1 1 1 1 2 1 1 2 1 1 1 1 3 2 2 2 2 1 1 1 1 1 1 1 2 1 1 1 3 2 2 1 1 1 1 1 1 1 1 1 1 2 1 1 3 2 1 1 1 1 1 1 1 102524"/>
<path d="M1206.6 224.1A975.2 975.2 0 1 0 2181.8 1196.7" pathLength="2702" stroke="#e4f0ea" stroke-width="1.5" stroke-dasharray="1 1 2 2 2 1 3 2 2 2 1 1 2 2 1 1 1 1 1 1 1 2 1 1 2 2 1 1 1 1 1 1 2 2 1 1 1 1 1 1 1 1 1 1 2 1 2 2 2 1 1 2 1 1 1 1 1 1 1 1 1 1 1 2 3 2 1 1 1 1 1 1 2 2 3 2 1 1 2 2 1 1 1 1 3 2 3 2 3 2 2 2 1 1 1 2 2 2 1 1 1 1 1 1 2 2 1 1 1 1 1 2 1 1 2 2 3 2 2 2 2 1 1 102522"/>
<path d="M1206.6 209.9A989.4 989.4 0 1 0 2196 1196.7" pathLength="2702" stroke="#e4f0ea" stroke-width="1.5" stroke-dasharray="1 1 1 2 1 1 1 1 1 1 1 1 1 1 1 1 1 1 2 1 3 2 1 1 1 1 1 1 3 2 2 2 1 1 1 1 1 1 1 1 2 2 1 1 2 1 1 2 2 2 1 1 1 1 1 1 1 1 1 1 1 1 1 1 2 2 1 1 1 1 1 2 1 1 2 2 1 1 1 2 1 1 2 2 2 2 1 1 1 1 1 1 2 2 1 1 1 1 1 1 1 1 2 2 3 2 2 2 3 2 1 1 1 1 2 2 1 2 3 2 1 2 2 2 2 2 1 1 1 102523"/>
<path d="M1209.3 161.8A1037.5 1037.5 0 0 0 888.6 211.7" stroke="#032d55" stroke-width="17"/>
<path d="M1209.3 182.4A1017 1017 0 0 0 894.9 231.3" stroke="#032d55" stroke-width="9.1"/>
<path d="M889.7 215.2A1033.9 1033.9 0 0 0 804.3 246.9" stroke="#032d55" stroke-width="8.7"/>
<path d="M895.4 233A1015.2 1015.2 0 0 0 811.6 264.1" stroke="#032d55" stroke-width="5.6"/>
<path d="M805.3 247A1033.4 1033.4 0 0 0 723 286" stroke="#032d55" stroke-width="7.8"/>
<path d="M812.5 264A1014.9 1014.9 0 0 0 731.7 302.3" stroke="#032d55" stroke-width="5.1"/>
<path d="M724 285.9A1033.1 1033.1 0 0 0 645.5 331.9" stroke="#032d55" stroke-width="7.1"/>
<path d="M732.5 302.1A1014.8 1014.8 0 0 0 655.4 347.3" stroke="#032d55" stroke-width="4.7"/>
<path d="M646.4 331.7A1032.7 1032.7 0 0 0 572.2 384.4" stroke="#032d55" stroke-width="6.5"/>
<path d="M656.2 347A1014.6 1014.6 0 0 0 583.4 398.7" stroke="#032d55" stroke-width="4.4"/>
<path d="M573.1 384.1A1032.4 1032.4 0 0 0 503.8 443" stroke="#032d55" stroke-width="5.9"/>
<path d="M584.2 398.3A1014.4 1014.4 0 0 0 516.1 456.2" stroke="#032d55" stroke-width="4.1"/>
<path d="M504.6 442.6A1032.2 1032.2 0 0 0 440.7 507.3" stroke="#032d55" stroke-width="5.4"/>
<path d="M516.8 455.7A1014.3 1014.3 0 0 0 454 519.3" stroke="#032d55" stroke-width="3.8"/>
<path d="M441.5 506.8A1031.9 1031.9 0 0 0 383.6 576.8" stroke="#032d55" stroke-width="4.8"/>
<path d="M454.7 518.7A1014.1 1014.1 0 0 0 397.7 587.6" stroke="#032d55" stroke-width="3.5"/>
<path d="M384.3 576.3A1031.7 1031.7 0 0 0 332.6 651.1" stroke="#032d55" stroke-width="4.3"/>
<path d="M398.4 586.9A1014 1014 0 0 0 347.6 660.5" stroke="#032d55" stroke-width="3.2"/>
<path d="M333.3 650.4A1031.4 1031.4 0 0 0 288.4 729.4" stroke="#032d55" stroke-width="3.9"/>
<path d="M348.2 659.8A1013.9 1013.9 0 0 0 304 737.4" stroke="#032d55" stroke-width="3"/>
<path d="M289 728.7A1031.2 1031.2 0 0 0 251.2 811.3" stroke="#032d55" stroke-width="3.4"/>
<path d="M304.5 736.7A1013.8 1013.8 0 0 0 267.3 817.9" stroke="#032d55" stroke-width="2.7"/>
<path d="M251.9 810.7A1030.8 1030.8 0 0 0 569.1 2009.4" stroke="#1d4468" stroke-width="2" stroke-dasharray="60 3 25 2 90 4 14 6"/>
<path d="M267.6 817.1A1013.8 1013.8 0 0 0 579.7 1996" stroke="#032d55" stroke-width="2.8"/>
<path d="M569.4 2009A1030.4 1030.4 0 0 0 2237 1196.6" stroke="#9aa6b6" stroke-width="1.3" stroke-dasharray="5 3"/>
<path d="M579.8 1995.8A1013.6 1013.6 0 0 0 2220.2 1196.6" stroke="#24456a" stroke-width="1.8"/>
<path d="M253.7 811.4A1028.8 1028.8 0 1 0 2235.4 1196.6" stroke="#f3f6f9" stroke-width="1.2"/>
<path d="M269.7 817.9A1011.6 1011.6 0 1 0 2218.2 1196.7" stroke="#f3f6f9" stroke-width="1.2"/>
<path d="M873.9 252L875.6 256.7L869.8 258.8M840.6 264.4L842.4 269L836.8 271.3M798.9 281.8L800.9 286.4L795.4 288.9M763 298.6L765.2 303.1L759.7 305.8M721.2 320.4L723.6 324.8L718.3 327.8M680 344.5L682.6 348.8L677.4 352M654.6 360.7L657.3 364.9L652.2 368.2M631 376.7L633.9 380.8L628.9 384.3M587.3 409.1L590.4 413L585.6 416.8M559.2 431.9L562.4 435.7L557.8 439.7M532.5 455.2L535.9 458.9L531.4 463.1M489.7 496.4L493.2 499.9L489 504.3M460.3 527.7L464 531L460 535.6M425 569.1L428.9 572.2L425.1 577M398.7 603.2L402.8 606.1L399.1 611.1M371.1 642.6L375.2 645.4L371.8 650.5M353.3 670.2L357.6 672.8L354.4 678M329 711.6L333.4 714.1L330.4 719.4M303.4 760.8L307.9 763L305.3 768.5M284.9 801.3L289.5 803.3L287 808.9" stroke="#3d5a7c" stroke-width="1.3"/>
</g>
<g id="sep" stroke="#fff" stroke-width="4.2">
<path d="M1125.1 946.1L876.5 174.1"/>
<path d="M960.2 1099L209.1 793.2"/>
<path d="M1042.1 1408.3L540.6 2045.7"/>
</g>
</g>
<g id="labels">
<rect x="1212.5" y="329.7" width="147.5" height="280.3" fill="#d9e5f3"/>
<text x="1285" y="487" font-size="28" text-anchor="middle" fill="#151515">NES-1</text>
<rect x="1212.5" y="613" width="147.5" height="49.5" fill="#faf6cc"/>
<text x="1285" y="648.5" font-size="28" text-anchor="middle" fill="#151515">NES-2A</text>
<rect x="1212.5" y="665.6" width="147.5" height="155.4" fill="#f9c9c9"/>
<text x="1285" y="754.8" font-size="28" text-anchor="middle" fill="#151515">NES2B</text>
<rect x="1212.5" y="826.5" width="147.5" height="46.9" fill="#c6f2c6"/>
<text x="1285" y="856.4" font-size="28" text-anchor="middle" fill="#151515">NES-2C</text>
<rect x="1212.5" y="876.5" width="147.5" height="49.1" fill="#e8e3f5"/>
<text x="1285" y="911.1" font-size="28" text-anchor="middle" fill="#151515">NES-3</text>
</g>
<g id="tree" fill="none" stroke-linecap="square">
<path d="M1563.1 639.1V817.8" stroke="#9a9a9a" stroke-width="2.2"/>
<path d="M1614.1 540.6V727.5M1614.1 632.8H1633.8M1633.8 632.8V901.6M1633.8 768.1H1704.7M1563.1 727.5H1614.1M1537.5 778.8V856.9M1537.5 817.8H1563.1" stroke="#444" stroke-width="2"/>
<path d="M1415.6 343.8H1456.2M1424.1 362.5H1456.2M1456.2 343.8V362.5M1456.2 353.1H1504.7M1452.5 379.1H1504.7M1504.7 353.1V379.1M1504.7 366.2H1533.8M1454.7 396.9H1502.5M1502.5 396.9V463.4M1410.9 414.1V431.2M1410.9 422.8H1443.8M1410.9 449.4H1443.8M1443.8 422.8V449.4M1443.8 436.6H1475M1414.1 467.2H1456.2M1456.2 467.2V510.3M1372.5 484.4H1395.3M1372.5 501.6H1395.3M1395.3 484.4V501.6M1395.3 493.1H1418.1M1418.1 493.1V528.1M1368.1 536.9H1398.4M1398.4 520.3V536.9M1398.4 528.1H1418.1M1418.1 510.3H1456.2M1456.2 489.1H1475M1475 436.6V489.1M1475 463.4H1502.5M1502.5 430.3H1533.8M1533.8 366.2V430.3M1533.8 398.4H1556.2M1504.7 554.7V571.9M1504.7 563.4H1556.2M1556.2 398.4V563.4M1556.2 481.2H1593.1M1521.2 590.6H1546.2M1521.2 607.8H1546.2M1546.2 590.6V607.8M1546.2 598.4H1593.1M1593.1 481.2V598.4M1593.1 540.6H1614.1" stroke="#5b96d2" stroke-width="2.8"/>
<path d="M1510.9 625H1540M1498.4 642.2H1514.1M1498.4 660.9H1514.1M1514.1 642.2V660.9M1514.1 651.6H1540M1540 625V651.6M1540 638.4H1562.5" stroke="#ffd428" stroke-width="2.8"/>
<path d="M1473.4 679.7V693.8M1473.4 685H1487.5M1468.1 712.5H1475M1469.4 729.7H1475M1475 712.5V729.7M1475 721.9H1487.5M1487.5 685V721.9M1487.5 703.1H1509.4M1509.4 703.1V773.4M1486.9 746.9V800M1482.8 746.9H1486.9M1483.8 764.1H1486.9M1481.9 782.8H1486.9M1480.6 800H1486.9M1486.9 773.4H1509.4M1509.4 737.5H1521.9M1521.9 737.5V817.2M1498.4 817.2H1521.9M1521.9 778.8H1537.5" stroke="#ff1010" stroke-width="3"/>
<path d="M1504.7 835.9V850M1499.4 835.9H1504.7M1499.4 850H1504.7M1504.7 845.3H1510.9M1510.9 845.3V870.3M1503.1 870.3H1510.9M1510.9 856.9H1537.5" stroke="#0bee0b" stroke-width="3"/>
<path d="M1551.6 888.1H1609.4M1540 905.6H1574.4M1540 923.4H1574.4M1574.4 905.6V923.4M1574.4 914.1H1609.4M1609.4 888.1V914.1M1609.4 901.6H1633.8" stroke="#aaa8dd" stroke-width="2.8"/>
</g>
<g id="legend">
<rect x="1872.4" y="234.6" width="32.4" height="32" fill="#62a6c6"/>
<text x="1920" y="258.4" font-size="31.5" fill="#111">NES-1 (16 strains)</text>
<rect x="1872.4" y="295.6" width="32.4" height="32" fill="#ece21c"/>
<text x="1920" y="319.2" font-size="31.5" fill="#111">NES-2A (3 strains)</text>
<rect x="1872.4" y="357" width="32.4" height="32" fill="#ee1212"/>
<text x="1920" y="381.3" font-size="31.5" fill="#111">NES-2B (9 strains)</text>
<rect x="1872.4" y="417.2" width="32.4" height="32" fill="#12dd12"/>
<text x="1920" y="440.7" font-size="31.5" fill="#111">NES-2C (3 strains)</text>
<rect x="1872.4" y="476" width="32.4" height="32" fill="#a192d8"/>
<text x="1920" y="500.2" font-size="31.5" fill="#111">NES-3 (3 strains)</text>
</g>
<g id="bars">
<rect x="1477.6" y="1122" width="595" height="19.6" fill="#e9e5d6"/>
<path d="M1477.6 1122h17.8v19.6h-17.8zM1495.1 1123.6h17.8v18h-17.8zM1512.6 1124.5h17.8v17.1h-17.8zM1530.1 1124h17.8v17.6h-17.8zM1547.6 1124.5h17.8v17.1h-17.8zM1565.1 1124.5h17.8v17.1h-17.8zM1582.6 1123.4h15.9v18.2h-15.9zM1600.1 1124.7h15.9v16.9h-15.9zM1617.6 1124.7h15.9v16.9h-15.9zM1635.1 1124.7h15.9v16.9h-15.9zM1652.6 1124.7h15.9v16.9h-15.9zM1670.1 1124.7h15.9v16.9h-15.9zM1687.6 1124.7h15.9v16.9h-15.9zM1705.1 1123.4h15.9v18.2h-15.9zM1722.6 1123.4h15.9v18.2h-15.9zM1740.1 1124.7h15.9v16.9h-15.9zM1757.6 1124.7h15.9v16.9h-15.9zM1775.1 1124.7h15.9v16.9h-15.9zM1792.6 1124.4h15.9v17.2h-15.9zM1810.1 1124h15.9v17.6h-15.9zM1827.6 1125.1h15.9v16.5h-15.9zM1845.1 1125.9h17.8v15.7h-17.8zM1862.6 1125.9h17.8v15.7h-17.8zM1880.1 1125.1h17.8v16.5h-17.8zM1897.6 1124h17.8v17.6h-17.8zM1915.1 1123.2h17.8v18.4h-17.8zM1932.6 1122h17.8v19.6h-17.8zM1950.1 1122h15.9v19.6h-15.9zM1967.6 1124h15.9v17.6h-15.9zM1985.1 1124h15.9v17.6h-15.9zM2002.6 1124.7h15.9v16.9h-15.9zM2020.1 1126.3h15.9v15.3h-15.9zM2037.6 1126.3h15.9v15.3h-15.9zM2055.1 1124.7h17.8v16.9h-17.8z" fill="#6a590b"/>
<rect x="1477.6" y="1143" width="595" height="20.4" fill="#e8d9d7"/>
<path d="M1477.6 1151.2h17.8v12.2h-17.8zM1495.1 1155.9h17.8v7.5h-17.8zM1512.6 1152.8h17.8v10.6h-17.8zM1530.1 1160.7h17.8v2.7h-17.8zM1547.6 1159.5h17.8v3.9h-17.8zM1565.1 1159.5h17.8v3.9h-17.8zM1582.6 1157.7h15.9v5.7h-15.9zM1600.1 1161.4h15.9v2h-15.9zM1617.6 1161.4h15.9v2h-15.9zM1635.1 1161.4h15.9v2h-15.9zM1652.6 1161.4h15.9v2h-15.9zM1670.1 1161.4h15.9v2h-15.9zM1687.6 1160.3h15.9v3.1h-15.9zM1705.1 1162.8h15.9v0.6h-15.9zM1722.6 1162.8h15.9v0.6h-15.9zM1740.1 1159.9h15.9v3.5h-15.9zM1757.6 1159.9h15.9v3.5h-15.9zM1775.1 1158.9h15.9v4.5h-15.9zM1792.6 1156.1h15.9v7.3h-15.9zM1810.1 1157.7h15.9v5.7h-15.9zM1862.6 1159.9h17.8v3.5h-17.8zM1880.1 1157.3h17.8v6.1h-17.8zM1897.6 1154.8h17.8v8.6h-17.8zM1915.1 1152.4h17.8v11h-17.8zM1932.6 1143.8h17.8v19.6h-17.8zM1950.1 1143.8h15.9v19.6h-15.9zM1967.6 1161.4h15.9v2h-15.9zM1985.1 1161.4h15.9v2h-15.9zM2002.6 1151.2h15.9v12.2h-15.9zM2020.1 1151.2h15.9v12.2h-15.9zM2037.6 1155.9h15.9v7.5h-15.9zM2055.1 1155.9h17.8v7.5h-17.8z" fill="#6b1212"/>
<rect x="1477.6" y="1164.2" width="595" height="16" fill="#d8d8d8"/>
<path d="M1477.6 1164.2h17.8v16h-17.8zM1495.1 1164.2h17.8v16h-17.8zM1512.6 1164.2h17.8v16h-17.8zM1530.1 1164.2h17.8v16h-17.8zM1547.6 1164.2h17.8v16h-17.8zM1565.1 1164.2h17.8v16h-17.8zM1582.6 1164.2h15.9v16h-15.9zM1600.1 1164.2h15.9v16h-15.9zM1617.6 1164.2h15.9v16h-15.9zM1635.1 1164.2h15.9v16h-15.9zM1652.6 1164.2h15.9v16h-15.9zM1670.1 1164.2h15.9v16h-15.9zM1687.6 1164.2h15.9v16h-15.9zM1705.1 1164.2h15.9v16h-15.9zM1722.6 1164.2h15.9v16h-15.9zM1740.1 1164.2h15.9v16h-15.9zM1757.6 1164.2h15.9v16h-15.9zM1775.1 1164.2h15.9v16h-15.9zM1792.6 1164.2h15.9v16h-15.9zM1810.1 1164.2h15.9v16h-15.9zM1827.6 1164.2h15.9v16h-15.9zM1845.1 1164.2h17.8v16h-17.8zM1862.6 1164.2h17.8v16h-17.8zM1880.1 1164.2h17.8v16h-17.8zM1897.6 1164.2h17.8v16h-17.8zM1915.1 1164.2h17.8v16h-17.8zM1932.6 1164.2h17.8v16h-17.8zM1950.1 1164.2h15.9v16h-15.9zM1967.6 1164.2h15.9v16h-15.9zM1985.1 1164.2h15.9v16h-15.9zM2002.6 1164.2h15.9v16h-15.9zM2020.1 1164.2h15.9v16h-15.9zM2037.6 1164.2h15.9v16h-15.9zM2055.1 1164.2h17.8v16h-17.8z" fill="#464646"/>
<rect x="1477.6" y="1181.2" width="595" height="16.2" fill="#dfe1f4"/>
<path d="M1477.6 1181.2h17.8v16.2h-17.8zM1495.1 1182.8h17.8v14.6h-17.8zM1512.6 1184.4h17.8v13h-17.8zM1530.1 1184.4h17.8v13h-17.8zM1547.6 1184.4h17.8v13h-17.8zM1565.1 1184.4h17.8v13h-17.8zM1582.6 1182.5h15.9v14.9h-15.9zM1600.1 1183.6h15.9v13.8h-15.9zM1617.6 1183.6h15.9v13.8h-15.9zM1635.1 1183.6h15.9v13.8h-15.9zM1652.6 1183.6h15.9v13.8h-15.9zM1670.1 1183.6h15.9v13.8h-15.9zM1687.6 1183.6h15.9v13.8h-15.9zM1705.1 1182.5h15.9v14.9h-15.9zM1722.6 1182.5h15.9v14.9h-15.9zM1740.1 1183.6h15.9v13.8h-15.9zM1757.6 1183.6h15.9v13.8h-15.9zM1775.1 1183.6h15.9v13.8h-15.9zM1792.6 1183.6h15.9v13.8h-15.9zM1810.1 1183.1h15.9v14.3h-15.9zM1827.6 1183.6h15.9v13.8h-15.9zM1845.1 1184.4h17.8v13h-17.8zM1862.6 1184.8h17.8v12.6h-17.8zM1880.1 1183.8h17.8v13.6h-17.8zM1897.6 1182.8h17.8v14.6h-17.8zM1915.1 1182.5h17.8v14.9h-17.8zM1932.6 1181.2h17.8v16.2h-17.8zM1950.1 1181.2h15.9v16.2h-15.9zM1967.6 1183.1h15.9v14.3h-15.9zM1985.1 1183.1h15.9v14.3h-15.9zM2002.6 1183.8h15.9v13.6h-15.9zM2020.1 1186.1h15.9v11.3h-15.9zM2037.6 1186.1h15.9v11.3h-15.9zM2055.1 1184.4h17.8v13h-17.8z" fill="#0a2189"/>
<path d="M1599.3 1122V1197.4M1616.8 1122V1197.4M1634.3 1122V1197.4M1651.8 1122V1197.4M1669.3 1122V1197.4M1686.8 1122V1197.4M1704.3 1122V1197.4M1721.8 1122V1197.4M1739.3 1122V1197.4M1756.8 1122V1197.4M1774.3 1122V1197.4M1791.8 1122V1197.4M1809.3 1122V1197.4M1826.8 1122V1197.4M1844.3 1122V1197.4M1966.8 1122V1197.4M1984.3 1122V1197.4M2001.8 1122V1197.4M2019.3 1122V1197.4M2036.8 1122V1197.4M2054.3 1122V1197.4" stroke="#f4f2ee" stroke-width="1.4" fill="none" opacity=".75"/>
<text x="2075" y="1132.5" font-size="6.2" style="font-family:'Liberation Sans',sans-serif;font-weight:normal" fill="#8a6d2a" textLength="50.5" lengthAdjust="spacingAndGlyphs">Num gene clusters</text>
<text x="2075" y="1154.5" font-size="6.2" style="font-family:'Liberation Sans',sans-serif;font-weight:normal" fill="#7a2a2a" textLength="61" lengthAdjust="spacingAndGlyphs">Singleton gene clusters</text>
<text x="2075" y="1173.6" font-size="6.2" style="font-family:'Liberation Sans',sans-serif;font-weight:normal" fill="#666a75" textLength="42" lengthAdjust="spacingAndGlyphs">Num genes per kbp</text>
<text x="2075" y="1191" font-size="6.2" style="font-family:'Liberation Sans',sans-serif;font-weight:normal" fill="#7a5a8a" textLength="26" lengthAdjust="spacingAndGlyphs">Total length</text>
<text x="2075" y="1141.5" font-size="4.5" style="font-family:'Liberation Sans',sans-serif;font-weight:normal" fill="#8a6d2a">0</text>
<text x="2075" y="1146.5" font-size="4.5" style="font-family:'Liberation Sans',sans-serif;font-weight:normal" fill="#5a6aa0">400</text>
<text x="2075" y="1163.5" font-size="4.5" style="font-family:'Liberation Sans',sans-serif;font-weight:normal" fill="#555">0</text>
<text x="2075" y="1181" font-size="4.5" style="font-family:'Liberation Sans',sans-serif;font-weight:normal" fill="#445">0</text>
<text x="2075" y="1198" font-size="4.5" style="font-family:'Liberation Sans',sans-serif;font-weight:normal" fill="#445">0</text>
</g>
<defs>
<path id="pc" d="M810.4 140.6A2600 2600 0 0 1 1269.2 53.8"/>
<path id="ps" d="M261.3 584.9A2600 2600 0 0 1 594.4 217.3"/>
<path id="pl" d="M20.3 1209.3A6000 6000 0 0 0 151.9 1729.5"/>
<path id="pg" d="M1661.4 2307A6000 6000 0 0 0 2135.6 1886.6"/>
</defs>
<g id="titles">
<text fill="#ee0a22" font-size="64"><textPath href="#pc" startOffset="40" textLength="387.5" lengthAdjust="spacingAndGlyphs">993 Core gene</textPath></text>
<text fill="#f0a11a" font-size="64"><textPath href="#ps" startOffset="40" textLength="416.7" lengthAdjust="spacingAndGlyphs">2782 Shell gene</textPath></text>
<text fill="#218a0c" font-size="64"><textPath href="#pl" startOffset="40" textLength="456.8" lengthAdjust="spacingAndGlyphs">4117 Cloud gene</textPath></text>
<text fill="#0a6af5" font-size="64"><textPath href="#pg" startOffset="40" textLength="554" lengthAdjust="spacingAndGlyphs">7132 Singleton gene</textPath></text>
</g>
<circle cx="1206" cy="1199" r="1.2" fill="#ccc"/>
</svg>
</body></html>
